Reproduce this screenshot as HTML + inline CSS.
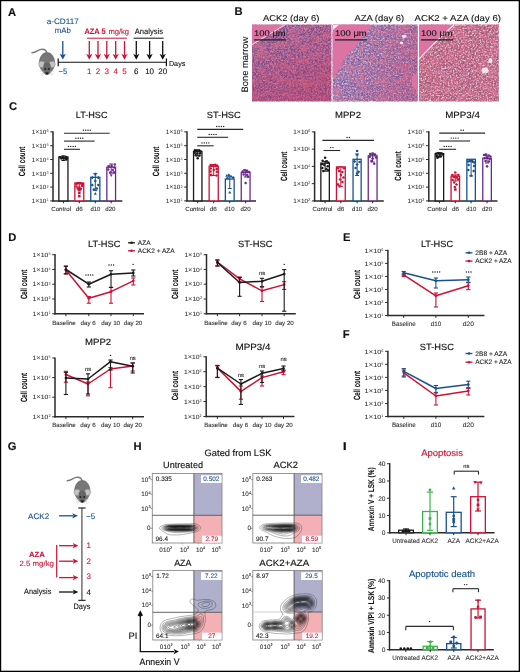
<!DOCTYPE html>
<html><head><meta charset="utf-8"><style>
html,body{margin:0;padding:0;background:#fff;}
body{width:520px;height:672px;overflow:hidden;}
svg{display:block;will-change:transform;}
</style></head><body>
<svg width="520" height="672" viewBox="0 0 520 672" font-family="'Liberation Sans', sans-serif" text-rendering="geometricPrecision">
<rect x="0.00" y="0.00" width="520.00" height="672.00" fill="#fff" stroke="none" stroke-width="1" />
<text x="8.00" y="16.00" font-size="11.2" fill="#111" text-anchor="start" font-weight="bold" stroke="#111" stroke-width="0.14" >A</text>
<text x="62.70" y="24.20" font-size="8" fill="#17528f" text-anchor="middle" font-weight="normal" textLength="32.00" lengthAdjust="spacingAndGlyphs" stroke="#17528f" stroke-width="0.1" >a-CD117</text>
<text x="62.85" y="33.40" font-size="8" fill="#17528f" text-anchor="middle" font-weight="normal" textLength="16.10" lengthAdjust="spacingAndGlyphs" stroke="#17528f" stroke-width="0.1" >mAb</text>
<line x1="62.80" y1="41.00" x2="62.80" y2="54.90" stroke="#17528f" stroke-width="1.3" />
<polygon points="59.70,53.90 62.80,55.10 65.90,53.90 62.80,59.50" fill="#17528f" />
<line x1="58.20" y1="62.30" x2="166.40" y2="62.30" stroke="#111" stroke-width="1.1" />
<line x1="58.20" y1="58.60" x2="58.20" y2="66.20" stroke="#111" stroke-width="1.2" />
<line x1="166.40" y1="58.60" x2="166.40" y2="66.20" stroke="#111" stroke-width="1.2" />
<text x="62.85" y="73.50" font-size="8" fill="#17528f" text-anchor="middle" font-weight="normal" textLength="8.50" lengthAdjust="spacingAndGlyphs" stroke="#17528f" stroke-width="0.1" >−5</text>
<text x="95.00" y="33.50" font-size="8" fill="#cc1236" text-anchor="middle" font-weight="bold" textLength="21.20" lengthAdjust="spacingAndGlyphs" stroke="#cc1236" stroke-width="0.1" >AZA 5</text>
<text x="118.75" y="33.50" font-size="7.6" fill="#cc1236" text-anchor="middle" font-weight="normal" textLength="20.70" lengthAdjust="spacingAndGlyphs" stroke="#cc1236" stroke-width="0.1" >mg/kg</text>
<line x1="87.10" y1="38.20" x2="126.90" y2="38.20" stroke="#cc1236" stroke-width="1.0" />
<line x1="89.30" y1="41.10" x2="89.30" y2="55.10" stroke="#cc1236" stroke-width="1.3" />
<polygon points="86.20,54.10 89.30,55.30 92.40,54.10 89.30,59.70" fill="#cc1236" />
<text x="89.30" y="73.50" font-size="8" fill="#cc1236" text-anchor="middle" font-weight="normal" stroke="#cc1236" stroke-width="0.1" >1</text>
<line x1="98.00" y1="41.10" x2="98.00" y2="55.10" stroke="#cc1236" stroke-width="1.3" />
<polygon points="94.90,54.10 98.00,55.30 101.10,54.10 98.00,59.70" fill="#cc1236" />
<text x="98.00" y="73.50" font-size="8" fill="#cc1236" text-anchor="middle" font-weight="normal" stroke="#cc1236" stroke-width="0.1" >2</text>
<line x1="106.80" y1="41.10" x2="106.80" y2="55.10" stroke="#cc1236" stroke-width="1.3" />
<polygon points="103.70,54.10 106.80,55.30 109.90,54.10 106.80,59.70" fill="#cc1236" />
<text x="106.80" y="73.50" font-size="8" fill="#cc1236" text-anchor="middle" font-weight="normal" stroke="#cc1236" stroke-width="0.1" >3</text>
<line x1="115.70" y1="41.10" x2="115.70" y2="55.10" stroke="#cc1236" stroke-width="1.3" />
<polygon points="112.60,54.10 115.70,55.30 118.80,54.10 115.70,59.70" fill="#cc1236" />
<text x="115.70" y="73.50" font-size="8" fill="#cc1236" text-anchor="middle" font-weight="normal" stroke="#cc1236" stroke-width="0.1" >4</text>
<line x1="124.50" y1="41.10" x2="124.50" y2="55.10" stroke="#cc1236" stroke-width="1.3" />
<polygon points="121.40,54.10 124.50,55.30 127.60,54.10 124.50,59.70" fill="#cc1236" />
<text x="124.50" y="73.50" font-size="8" fill="#cc1236" text-anchor="middle" font-weight="normal" stroke="#cc1236" stroke-width="0.1" >5</text>
<text x="148.90" y="33.50" font-size="8" fill="#111" text-anchor="middle" font-weight="normal" textLength="28.20" lengthAdjust="spacingAndGlyphs" stroke="#111" stroke-width="0.1" >Analysis</text>
<line x1="133.60" y1="38.20" x2="163.70" y2="38.20" stroke="#111" stroke-width="1.0" />
<line x1="136.30" y1="41.10" x2="136.30" y2="55.10" stroke="#111" stroke-width="1.3" />
<polygon points="133.20,54.10 136.30,55.30 139.40,54.10 136.30,59.70" fill="#111" />
<text x="136.30" y="73.50" font-size="8" fill="#111" text-anchor="middle" font-weight="normal" stroke="#111" stroke-width="0.1" >6</text>
<line x1="149.60" y1="41.10" x2="149.60" y2="55.10" stroke="#111" stroke-width="1.3" />
<polygon points="146.50,54.10 149.60,55.30 152.70,54.10 149.60,59.70" fill="#111" />
<text x="149.60" y="73.50" font-size="8" fill="#111" text-anchor="middle" font-weight="normal" stroke="#111" stroke-width="0.1" >10</text>
<line x1="162.70" y1="41.10" x2="162.70" y2="55.10" stroke="#111" stroke-width="1.3" />
<polygon points="159.60,54.10 162.70,55.30 165.80,54.10 162.70,59.70" fill="#111" />
<text x="162.70" y="73.50" font-size="8" fill="#111" text-anchor="middle" font-weight="normal" stroke="#111" stroke-width="0.1" >20</text>
<text x="177.15" y="65.50" font-size="7.2" fill="#111" text-anchor="middle" font-weight="normal" textLength="16.50" lengthAdjust="spacingAndGlyphs" stroke="#111" stroke-width="0.1" >Days</text>
<g transform="translate(47.00,63.00) scale(1.0)"><path d="M0,-9.5 C-0.5,-12.5 -3,-14 -6,-13.6 C-9,-13.2 -11,-10.5 -15,-10.2" fill="none" stroke="#7a7a7a" stroke-width="1.4" stroke-linecap="round"/><path d="M0,-10.5 C4.8,-10.5 7.6,-5.5 7.6,-0.5 C7.6,3.5 6.4,6 4.6,8.2 C3.2,10.4 1.6,11.6 0,11.6 C-1.6,11.6 -3.2,10.4 -4.6,8.2 C-6.4,6 -7.6,3.5 -7.6,-0.5 C-7.6,-5.5 -4.8,-10.5 0,-10.5 Z" fill="#777" stroke="#555" stroke-width="0.5"/><circle cx="-5.2" cy="1.3" r="3.1" fill="#c4c4c4" stroke="#888" stroke-width="0.5"/><circle cx="5.2" cy="1.3" r="3.1" fill="#c4c4c4" stroke="#888" stroke-width="0.5"/><path d="M-3.6,2.5 C-3.6,-1.5 3.6,-1.5 3.6,2.5 C3.6,6.5 2,10.5 0,11.6 C-2,10.5 -3.6,6.5 -3.6,2.5Z" fill="#666"/><circle cx="-1.9" cy="6" r="1" fill="#222"/><circle cx="1.9" cy="6" r="1" fill="#222"/><path d="M-2,9.4 L2,9.4 L0,11.8 Z" fill="#111"/><path d="M-3,9 L-7,8 M-3,9.8 L-6.5,11.3 M-2.8,10.4 L-5,13 M3,9 L7,8 M3,9.8 L6.5,11.3 M2.8,10.4 L5,13" stroke="#c8c8c8" stroke-width="0.55"/></g>
<text x="234.50" y="15.20" font-size="11.2" fill="#111" text-anchor="start" font-weight="bold" stroke="#111" stroke-width="0.14" >B</text>
<text x="0" y="0" font-size="9.4" fill="#111" stroke="#111" stroke-width="0.08" font-weight="normal" text-anchor="middle" transform="translate(247.80,64.60) rotate(-90)" textLength="55.70" lengthAdjust="spacingAndGlyphs">Bone marrow</text>
<defs><filter id="nR" x="0" y="0" width="100%" height="100%"><feTurbulence type="fractalNoise" baseFrequency="0.55" numOctaves="3" seed="2"/><feColorMatrix type="matrix" values="0 0 0 0 0.76  0 0 0 0 0.22  0 0 0 0 0.34  3.2 0 0 0 -1.3"/></filter><filter id="nW" x="0" y="0" width="100%" height="100%"><feTurbulence type="fractalNoise" baseFrequency="0.6" numOctaves="3" seed="9"/><feColorMatrix type="matrix" values="0 0 0 0 0.92  0 0 0 0 0.86  0 0 0 0 0.92  0 3.6 0 0 -1.75"/></filter><filter id="nP" x="0" y="0" width="100%" height="100%"><feTurbulence type="fractalNoise" baseFrequency="0.7" numOctaves="2" seed="5"/><feColorMatrix type="matrix" values="0 0 0 0 0.45  0 0 0 0 0.33  0 0 0 0 0.66  0 0 3.0 0 -1.3"/></filter><filter id="nL" x="0" y="0" width="100%" height="100%"><feTurbulence type="fractalNoise" baseFrequency="0.09 0.14" numOctaves="2" seed="21"/><feColorMatrix type="matrix" values="0 0 0 0 0.80  0 0 0 0 0.20  0 0 0 0 0.32  3.5 0 0 0 -1.6"/></filter><filter id="nB" x="0" y="0" width="100%" height="100%"><feTurbulence type="fractalNoise" baseFrequency="0.25 0.6" numOctaves="2" seed="13"/><feColorMatrix type="matrix" values="0 0 0 0 0.95  0 0 0 0 0.55  0 0 0 0 0.72  2.5 0 0 0 -1.0"/></filter></defs>
<rect x="252.00" y="24.80" width="79.20" height="76.40" fill="#6a4e90" stroke="none" stroke-width="1" />
<rect x="252.00" y="24.80" width="79.20" height="76.40" fill="#fff" stroke="none" stroke-width="1" filter="url(#nR)" opacity="0.85"/>
<rect x="252.00" y="24.80" width="79.20" height="76.40" fill="#fff" stroke="none" stroke-width="1" filter="url(#nW)" opacity="0.4"/>
<rect x="252.00" y="24.80" width="79.20" height="76.40" fill="#fff" stroke="none" stroke-width="1" filter="url(#nP)" opacity="0.5"/>
<rect x="252.00" y="24.80" width="79.20" height="76.40" fill="#fff" stroke="none" stroke-width="1" filter="url(#nL)" opacity="0.55"/>
<rect x="332.80" y="24.80" width="84.80" height="76.40" fill="#7662a2" stroke="none" stroke-width="1" />
<rect x="332.80" y="24.80" width="84.80" height="76.40" fill="#fff" stroke="none" stroke-width="1" filter="url(#nR)" opacity="0.8"/>
<rect x="332.80" y="24.80" width="84.80" height="76.40" fill="#fff" stroke="none" stroke-width="1" filter="url(#nW)" opacity="0.65"/>
<rect x="332.80" y="24.80" width="84.80" height="76.40" fill="#fff" stroke="none" stroke-width="1" filter="url(#nP)" opacity="0.6"/>
<rect x="332.80" y="24.80" width="84.80" height="76.40" fill="#fff" stroke="none" stroke-width="1" filter="url(#nL)" opacity="0.5"/>
<rect x="419.00" y="24.80" width="79.80" height="76.40" fill="#a85670" stroke="none" stroke-width="1" />
<rect x="419.00" y="24.80" width="79.80" height="76.40" fill="#fff" stroke="none" stroke-width="1" filter="url(#nR)" opacity="0.9"/>
<rect x="419.00" y="24.80" width="79.80" height="76.40" fill="#fff" stroke="none" stroke-width="1" filter="url(#nW)" opacity="0.72"/>
<rect x="419.00" y="24.80" width="79.80" height="76.40" fill="#fff" stroke="none" stroke-width="1" filter="url(#nP)" opacity="0.3"/>
<rect x="419.00" y="24.80" width="79.80" height="76.40" fill="#fff" stroke="none" stroke-width="1" filter="url(#nL)" opacity="0.4"/>
<defs><linearGradient id="gr1" x1="0" y1="0" x2="0.4" y2="1"><stop offset="0" stop-color="#c03058" stop-opacity="0.08"/><stop offset="1" stop-color="#c03058" stop-opacity="0.45"/></linearGradient><linearGradient id="gr2" x1="0" y1="0" x2="1" y2="0.3"><stop offset="0.3" stop-color="#c03058" stop-opacity="0"/><stop offset="1" stop-color="#c03058" stop-opacity="0.25"/></linearGradient></defs>
<rect x="252.00" y="24.80" width="79.20" height="76.40" fill="url(#gr1)" stroke="none" stroke-width="1" />
<rect x="332.80" y="24.80" width="84.80" height="76.40" fill="url(#gr2)" stroke="none" stroke-width="1" />
<polygon points="252.00,24.80 285.00,24.80 252.00,44.60" fill="#dc73a2" />
<line x1="285.00" y1="24.80" x2="252.00" y2="44.60" stroke="#f3e3ec" stroke-width="1.0" />
<polygon points="332.80,24.80 372.40,24.80 357.70,44.50 345.60,56.60 337.00,72.20 332.80,77.40" fill="#dc73a2" />
<polygon points="332.80,24.80 339.00,24.80 332.80,30.00" fill="#f4eef2" />
<polygon points="417.60,72.00 417.60,92.00 412.00,85.00 411.50,77.00" fill="#dc73a2" />
<polygon points="419.00,24.80 454.00,24.80 434.00,43.60 419.00,59.20" fill="#dc73a2" />
<polyline points="454,24.8 434,43.6 419,59.2" fill="none" stroke="#f6eef2" stroke-width="1.2"/>
<ellipse cx="490.4" cy="60.6" rx="2.0" ry="2.6" fill="#efe4ec"/>
<ellipse cx="485" cy="70.5" rx="3.6" ry="2.9" fill="#efe4ec"/>
<ellipse cx="404.2" cy="36.3" rx="2.6" ry="1.6" fill="#efe4ec"/>
<ellipse cx="401.5" cy="43" rx="1.8" ry="1.2" fill="#efe4ec"/>
<text x="291.15" y="20.60" font-size="8.5" fill="#111" text-anchor="middle" font-weight="normal" textLength="56.50" lengthAdjust="spacingAndGlyphs" stroke="#111" stroke-width="0.1" >ACK2 (day 6)</text>
<text x="379.30" y="20.60" font-size="8.5" fill="#111" text-anchor="middle" font-weight="normal" textLength="49.80" lengthAdjust="spacingAndGlyphs" stroke="#111" stroke-width="0.1" >AZA (day 6)</text>
<text x="457.75" y="20.60" font-size="8.5" fill="#111" text-anchor="middle" font-weight="normal" textLength="86.50" lengthAdjust="spacingAndGlyphs" stroke="#111" stroke-width="0.1" >ACK2 + AZA (day 6)</text>
<text x="269.90" y="36.40" font-size="8.3" fill="#151515" text-anchor="middle" font-weight="normal" textLength="31.60" lengthAdjust="spacingAndGlyphs" stroke="#151515" stroke-width="0.12">100 μm</text>
<line x1="254.00" y1="39.90" x2="286.00" y2="39.90" stroke="#222" stroke-width="1.3" />
<text x="350.90" y="36.40" font-size="8.3" fill="#151515" text-anchor="middle" font-weight="normal" textLength="31.60" lengthAdjust="spacingAndGlyphs" stroke="#151515" stroke-width="0.12">100 μm</text>
<line x1="335.00" y1="39.90" x2="367.00" y2="39.90" stroke="#222" stroke-width="1.3" />
<text x="436.90" y="36.40" font-size="8.3" fill="#151515" text-anchor="middle" font-weight="normal" textLength="31.60" lengthAdjust="spacingAndGlyphs" stroke="#151515" stroke-width="0.12">100 μm</text>
<line x1="421.00" y1="39.90" x2="453.00" y2="39.90" stroke="#222" stroke-width="1.3" />
<text x="9.00" y="110.00" font-size="11.2" fill="#111" text-anchor="start" font-weight="bold" stroke="#111" stroke-width="0.14" >C</text>
<text x="91.65" y="118.10" font-size="9" fill="#111" text-anchor="middle" font-weight="normal" textLength="31.70" lengthAdjust="spacingAndGlyphs" stroke="#111" stroke-width="0.14" >LT-HSC</text>
<line x1="53.00" y1="131.30" x2="53.00" y2="201.60" stroke="#2a2a2a" stroke-width="1.5" />
<line x1="52.30" y1="200.90" x2="122.30" y2="200.90" stroke="#2a2a2a" stroke-width="1.5" />
<line x1="50.20" y1="131.90" x2="53.00" y2="131.90" stroke="#2a2a2a" stroke-width="1.0" />
<text x="31.70" y="134.10" font-size="6.1" fill="#333" stroke="#333" stroke-width="0.08" textLength="14.60" lengthAdjust="spacingAndGlyphs">1<tspan font-size="6.8">×</tspan>10</text>
<text x="46.40" y="132.30" font-size="3.8" fill="#444">6</text>
<line x1="50.20" y1="145.70" x2="53.00" y2="145.70" stroke="#2a2a2a" stroke-width="1.0" />
<text x="31.70" y="147.90" font-size="6.1" fill="#333" stroke="#333" stroke-width="0.08" textLength="14.60" lengthAdjust="spacingAndGlyphs">1<tspan font-size="6.8">×</tspan>10</text>
<text x="46.40" y="146.10" font-size="3.8" fill="#444">5</text>
<line x1="50.20" y1="159.50" x2="53.00" y2="159.50" stroke="#2a2a2a" stroke-width="1.0" />
<text x="31.70" y="161.70" font-size="6.1" fill="#333" stroke="#333" stroke-width="0.08" textLength="14.60" lengthAdjust="spacingAndGlyphs">1<tspan font-size="6.8">×</tspan>10</text>
<text x="46.40" y="159.90" font-size="3.8" fill="#444">4</text>
<line x1="50.20" y1="173.30" x2="53.00" y2="173.30" stroke="#2a2a2a" stroke-width="1.0" />
<text x="31.70" y="175.50" font-size="6.1" fill="#333" stroke="#333" stroke-width="0.08" textLength="14.60" lengthAdjust="spacingAndGlyphs">1<tspan font-size="6.8">×</tspan>10</text>
<text x="46.40" y="173.70" font-size="3.8" fill="#444">3</text>
<line x1="50.20" y1="187.10" x2="53.00" y2="187.10" stroke="#2a2a2a" stroke-width="1.0" />
<text x="31.70" y="189.30" font-size="6.1" fill="#333" stroke="#333" stroke-width="0.08" textLength="14.60" lengthAdjust="spacingAndGlyphs">1<tspan font-size="6.8">×</tspan>10</text>
<text x="46.40" y="187.50" font-size="3.8" fill="#444">2</text>
<line x1="50.20" y1="200.90" x2="53.00" y2="200.90" stroke="#2a2a2a" stroke-width="1.0" />
<text x="31.70" y="203.10" font-size="6.1" fill="#333" stroke="#333" stroke-width="0.08" textLength="14.60" lengthAdjust="spacingAndGlyphs">1<tspan font-size="6.8">×</tspan>10</text>
<text x="46.40" y="201.30" font-size="3.8" fill="#444">1</text>
<text x="0" y="0" font-size="9" fill="#111" stroke="#111" stroke-width="0.08" font-weight="bold" text-anchor="middle" transform="translate(24.90,161.40) rotate(-90)" textLength="29.60" lengthAdjust="spacingAndGlyphs">Cell count</text>
<rect x="58.85" y="157.00" width="9.10" height="43.90" fill="#fff" stroke="#1a1a1a" stroke-width="1.3" />
<line x1="63.40" y1="200.90" x2="63.40" y2="203.30" stroke="#2a2a2a" stroke-width="1.0" />
<line x1="63.40" y1="160.50" x2="63.40" y2="155.80" stroke="#1a1a1a" stroke-width="1.0" />
<line x1="61.40" y1="160.50" x2="65.40" y2="160.50" stroke="#1a1a1a" stroke-width="1.0" />
<line x1="61.40" y1="155.80" x2="65.40" y2="155.80" stroke="#1a1a1a" stroke-width="1.0" />
<circle cx="60.10" cy="157.30" r="1.25" fill="#1a1a1a"/>
<circle cx="61.40" cy="158.50" r="1.25" fill="#1a1a1a"/>
<rect x="61.35" y="156.35" width="2.50" height="2.50" fill="#1a1a1a" stroke="none" stroke-width="1" />
<circle cx="65.00" cy="158.60" r="1.25" fill="#1a1a1a"/>
<circle cx="66.00" cy="157.00" r="1.25" fill="#1a1a1a"/>
<circle cx="67.00" cy="158.00" r="1.25" fill="#1a1a1a"/>
<circle cx="66.40" cy="159.60" r="1.25" fill="#1a1a1a"/>
<rect x="74.85" y="183.00" width="8.90" height="17.90" fill="#fff" stroke="#cc1236" stroke-width="1.3" />
<line x1="79.30" y1="200.90" x2="79.30" y2="203.30" stroke="#2a2a2a" stroke-width="1.0" />
<line x1="79.30" y1="190.00" x2="79.30" y2="182.60" stroke="#cc1236" stroke-width="1.0" />
<line x1="77.30" y1="190.00" x2="81.30" y2="190.00" stroke="#cc1236" stroke-width="1.0" />
<line x1="77.30" y1="182.60" x2="81.30" y2="182.60" stroke="#cc1236" stroke-width="1.0" />
<circle cx="76.30" cy="184.00" r="1.25" fill="#cc1236"/>
<rect x="76.55" y="181.95" width="2.50" height="2.50" fill="#cc1236" stroke="none" stroke-width="1" />
<circle cx="80.80" cy="183.60" r="1.25" fill="#cc1236"/>
<rect x="81.05" y="182.95" width="2.50" height="2.50" fill="#cc1236" stroke="none" stroke-width="1" />
<circle cx="76.50" cy="186.50" r="1.25" fill="#cc1236"/>
<circle cx="82.10" cy="186.00" r="1.25" fill="#cc1236"/>
<rect x="78.05" y="186.55" width="2.50" height="2.50" fill="#cc1236" stroke="none" stroke-width="1" />
<rect x="78.05" y="188.95" width="2.50" height="2.50" fill="#cc1236" stroke="none" stroke-width="1" />
<rect x="78.05" y="191.75" width="2.50" height="2.50" fill="#cc1236" stroke="none" stroke-width="1" />
<rect x="78.05" y="194.95" width="2.50" height="2.50" fill="#cc1236" stroke="none" stroke-width="1" />
<circle cx="77.70" cy="188.50" r="1.25" fill="#cc1236"/>
<circle cx="80.90" cy="188.80" r="1.25" fill="#cc1236"/>
<rect x="90.75" y="177.30" width="9.10" height="23.60" fill="#fff" stroke="#17528f" stroke-width="1.3" />
<line x1="95.30" y1="200.90" x2="95.30" y2="203.30" stroke="#2a2a2a" stroke-width="1.0" />
<line x1="95.30" y1="190.60" x2="95.30" y2="173.40" stroke="#17528f" stroke-width="1.0" />
<line x1="93.30" y1="190.60" x2="97.30" y2="190.60" stroke="#17528f" stroke-width="1.0" />
<line x1="93.30" y1="173.40" x2="97.30" y2="173.40" stroke="#17528f" stroke-width="1.0" />
<polygon points="93.80,175.25 96.80,175.25 95.30,172.50" fill="#17528f" />
<polygon points="90.67,177.70 92.30,176.07 93.92,177.70 92.30,179.32" fill="#17528f" />
<polygon points="96.67,177.70 98.30,176.07 99.92,177.70 98.30,179.32" fill="#17528f" />
<polygon points="90.67,185.00 92.30,183.38 93.92,185.00 92.30,186.62" fill="#17528f" />
<polygon points="96.67,185.00 98.30,183.38 99.92,185.00 98.30,186.62" fill="#17528f" />
<circle cx="95.30" cy="181.00" r="1.25" fill="#17528f"/>
<polygon points="93.80,194.85 96.80,194.85 95.30,192.10" fill="#17528f" />
<circle cx="93.80" cy="189.50" r="1.25" fill="#17528f"/>
<circle cx="96.80" cy="188.50" r="1.25" fill="#17528f"/>
<rect x="106.85" y="167.20" width="8.70" height="33.70" fill="#fff" stroke="#6a2a8c" stroke-width="1.3" />
<line x1="111.20" y1="200.90" x2="111.20" y2="203.30" stroke="#2a2a2a" stroke-width="1.0" />
<line x1="111.20" y1="173.00" x2="111.20" y2="164.00" stroke="#6a2a8c" stroke-width="1.0" />
<line x1="109.20" y1="173.00" x2="113.20" y2="173.00" stroke="#6a2a8c" stroke-width="1.0" />
<line x1="109.20" y1="164.00" x2="113.20" y2="164.00" stroke="#6a2a8c" stroke-width="1.0" />
<circle cx="114.80" cy="164.50" r="1.25" fill="#6a2a8c"/>
<rect x="107.45" y="165.15" width="2.50" height="2.50" fill="#6a2a8c" stroke="none" stroke-width="1" />
<circle cx="111.70" cy="166.00" r="1.25" fill="#6a2a8c"/>
<polygon points="112.58,167.50 114.20,165.88 115.83,167.50 114.20,169.12" fill="#6a2a8c" />
<circle cx="108.20" cy="169.50" r="1.25" fill="#6a2a8c"/>
<circle cx="112.70" cy="170.00" r="1.25" fill="#6a2a8c"/>
<circle cx="110.20" cy="172.50" r="1.25" fill="#6a2a8c"/>
<rect x="112.75" y="171.25" width="2.50" height="2.50" fill="#6a2a8c" stroke="none" stroke-width="1" />
<polygon points="109.70,174.25 112.70,174.25 111.20,177.00" fill="#6a2a8c" />
<line x1="64.00" y1="149.30" x2="79.90" y2="149.30" stroke="#2a2a2a" stroke-width="1.1" />
<circle cx="68.50" cy="146.40" r="0.72" fill="#222"/>
<circle cx="70.80" cy="146.40" r="0.72" fill="#222"/>
<circle cx="73.10" cy="146.40" r="0.72" fill="#222"/>
<circle cx="75.40" cy="146.40" r="0.72" fill="#222"/>
<line x1="64.00" y1="141.10" x2="94.70" y2="141.10" stroke="#2a2a2a" stroke-width="1.1" />
<circle cx="75.90" cy="138.20" r="0.72" fill="#222"/>
<circle cx="78.20" cy="138.20" r="0.72" fill="#222"/>
<circle cx="80.50" cy="138.20" r="0.72" fill="#222"/>
<circle cx="82.80" cy="138.20" r="0.72" fill="#222"/>
<line x1="64.00" y1="133.20" x2="109.70" y2="133.20" stroke="#2a2a2a" stroke-width="1.1" />
<circle cx="83.40" cy="130.30" r="0.72" fill="#222"/>
<circle cx="85.70" cy="130.30" r="0.72" fill="#222"/>
<circle cx="88.00" cy="130.30" r="0.72" fill="#222"/>
<circle cx="90.30" cy="130.30" r="0.72" fill="#222"/>
<text x="61.15" y="211.40" font-size="6.1" fill="#333" text-anchor="middle" font-weight="normal" textLength="19.90" lengthAdjust="spacingAndGlyphs" stroke="#333" stroke-width="0.1" >Control</text>
<text x="79.30" y="211.40" font-size="6.1" fill="#333" text-anchor="middle" font-weight="normal" textLength="7.00" lengthAdjust="spacingAndGlyphs" stroke="#333" stroke-width="0.1" >d6</text>
<text x="95.35" y="211.40" font-size="6.1" fill="#333" text-anchor="middle" font-weight="normal" textLength="9.90" lengthAdjust="spacingAndGlyphs" stroke="#333" stroke-width="0.1" >d10</text>
<text x="110.40" y="211.40" font-size="6.1" fill="#333" text-anchor="middle" font-weight="normal" textLength="10.20" lengthAdjust="spacingAndGlyphs" stroke="#333" stroke-width="0.1" >d20</text>
<text x="223.75" y="118.10" font-size="9" fill="#111" text-anchor="middle" font-weight="normal" textLength="34.10" lengthAdjust="spacingAndGlyphs" stroke="#111" stroke-width="0.14" >ST-HSC</text>
<line x1="187.00" y1="131.30" x2="187.00" y2="201.60" stroke="#2a2a2a" stroke-width="1.5" />
<line x1="186.30" y1="200.90" x2="256.00" y2="200.90" stroke="#2a2a2a" stroke-width="1.5" />
<line x1="184.20" y1="131.90" x2="187.00" y2="131.90" stroke="#2a2a2a" stroke-width="1.0" />
<text x="165.70" y="134.10" font-size="6.1" fill="#333" stroke="#333" stroke-width="0.08" textLength="14.60" lengthAdjust="spacingAndGlyphs">1<tspan font-size="6.8">×</tspan>10</text>
<text x="180.40" y="132.30" font-size="3.8" fill="#444">6</text>
<line x1="184.20" y1="145.70" x2="187.00" y2="145.70" stroke="#2a2a2a" stroke-width="1.0" />
<text x="165.70" y="147.90" font-size="6.1" fill="#333" stroke="#333" stroke-width="0.08" textLength="14.60" lengthAdjust="spacingAndGlyphs">1<tspan font-size="6.8">×</tspan>10</text>
<text x="180.40" y="146.10" font-size="3.8" fill="#444">5</text>
<line x1="184.20" y1="159.50" x2="187.00" y2="159.50" stroke="#2a2a2a" stroke-width="1.0" />
<text x="165.70" y="161.70" font-size="6.1" fill="#333" stroke="#333" stroke-width="0.08" textLength="14.60" lengthAdjust="spacingAndGlyphs">1<tspan font-size="6.8">×</tspan>10</text>
<text x="180.40" y="159.90" font-size="3.8" fill="#444">4</text>
<line x1="184.20" y1="173.30" x2="187.00" y2="173.30" stroke="#2a2a2a" stroke-width="1.0" />
<text x="165.70" y="175.50" font-size="6.1" fill="#333" stroke="#333" stroke-width="0.08" textLength="14.60" lengthAdjust="spacingAndGlyphs">1<tspan font-size="6.8">×</tspan>10</text>
<text x="180.40" y="173.70" font-size="3.8" fill="#444">3</text>
<line x1="184.20" y1="187.10" x2="187.00" y2="187.10" stroke="#2a2a2a" stroke-width="1.0" />
<text x="165.70" y="189.30" font-size="6.1" fill="#333" stroke="#333" stroke-width="0.08" textLength="14.60" lengthAdjust="spacingAndGlyphs">1<tspan font-size="6.8">×</tspan>10</text>
<text x="180.40" y="187.50" font-size="3.8" fill="#444">2</text>
<line x1="184.20" y1="200.90" x2="187.00" y2="200.90" stroke="#2a2a2a" stroke-width="1.0" />
<text x="165.70" y="203.10" font-size="6.1" fill="#333" stroke="#333" stroke-width="0.08" textLength="14.60" lengthAdjust="spacingAndGlyphs">1<tspan font-size="6.8">×</tspan>10</text>
<text x="180.40" y="201.30" font-size="3.8" fill="#444">1</text>
<text x="0" y="0" font-size="9" fill="#111" stroke="#111" stroke-width="0.08" font-weight="bold" text-anchor="middle" transform="translate(159.30,161.40) rotate(-90)" textLength="29.60" lengthAdjust="spacingAndGlyphs">Cell count</text>
<rect x="193.55" y="151.50" width="8.40" height="49.40" fill="#fff" stroke="#1a1a1a" stroke-width="1.3" />
<line x1="197.75" y1="200.90" x2="197.75" y2="203.30" stroke="#2a2a2a" stroke-width="1.0" />
<line x1="197.75" y1="156.00" x2="197.75" y2="149.80" stroke="#1a1a1a" stroke-width="1.0" />
<line x1="195.75" y1="156.00" x2="199.75" y2="156.00" stroke="#1a1a1a" stroke-width="1.0" />
<line x1="195.75" y1="149.80" x2="199.75" y2="149.80" stroke="#1a1a1a" stroke-width="1.0" />
<circle cx="194.95" cy="150.20" r="1.25" fill="#1a1a1a"/>
<rect x="195.50" y="149.75" width="2.50" height="2.50" fill="#1a1a1a" stroke="none" stroke-width="1" />
<circle cx="199.35" cy="150.60" r="1.25" fill="#1a1a1a"/>
<circle cx="200.75" cy="151.50" r="1.25" fill="#1a1a1a"/>
<circle cx="194.75" cy="153.00" r="1.25" fill="#1a1a1a"/>
<circle cx="197.25" cy="153.50" r="1.25" fill="#1a1a1a"/>
<polygon points="198.53,153.20 200.15,151.57 201.78,153.20 200.15,154.82" fill="#1a1a1a" />
<circle cx="195.75" cy="155.30" r="1.25" fill="#1a1a1a"/>
<circle cx="199.55" cy="155.50" r="1.25" fill="#1a1a1a"/>
<circle cx="197.75" cy="158.30" r="1.25" fill="#1a1a1a"/>
<rect x="209.15" y="166.30" width="9.10" height="34.60" fill="#fff" stroke="#cc1236" stroke-width="1.3" />
<line x1="213.70" y1="200.90" x2="213.70" y2="203.30" stroke="#2a2a2a" stroke-width="1.0" />
<line x1="213.70" y1="175.50" x2="213.70" y2="164.50" stroke="#cc1236" stroke-width="1.0" />
<line x1="211.70" y1="175.50" x2="215.70" y2="175.50" stroke="#cc1236" stroke-width="1.0" />
<line x1="211.70" y1="164.50" x2="215.70" y2="164.50" stroke="#cc1236" stroke-width="1.0" />
<circle cx="210.70" cy="165.00" r="1.25" fill="#cc1236"/>
<rect x="211.45" y="164.05" width="2.50" height="2.50" fill="#cc1236" stroke="none" stroke-width="1" />
<circle cx="215.20" cy="164.80" r="1.25" fill="#cc1236"/>
<circle cx="216.90" cy="165.60" r="1.25" fill="#cc1236"/>
<circle cx="210.70" cy="168.50" r="1.25" fill="#cc1236"/>
<rect x="215.45" y="167.55" width="2.50" height="2.50" fill="#cc1236" stroke="none" stroke-width="1" />
<circle cx="210.50" cy="171.60" r="1.25" fill="#cc1236"/>
<circle cx="216.90" cy="171.80" r="1.25" fill="#cc1236"/>
<rect x="209.85" y="173.75" width="2.50" height="2.50" fill="#cc1236" stroke="none" stroke-width="1" />
<circle cx="216.50" cy="175.50" r="1.25" fill="#cc1236"/>
<circle cx="213.70" cy="170.00" r="1.25" fill="#cc1236"/>
<rect x="225.35" y="179.00" width="8.80" height="21.90" fill="#fff" stroke="#17528f" stroke-width="1.3" />
<line x1="229.75" y1="200.90" x2="229.75" y2="203.30" stroke="#2a2a2a" stroke-width="1.0" />
<line x1="229.75" y1="188.50" x2="229.75" y2="176.80" stroke="#17528f" stroke-width="1.0" />
<line x1="227.75" y1="188.50" x2="231.75" y2="188.50" stroke="#17528f" stroke-width="1.0" />
<line x1="227.75" y1="176.80" x2="231.75" y2="176.80" stroke="#17528f" stroke-width="1.0" />
<polygon points="225.25,176.75 228.25,176.75 226.75,174.00" fill="#17528f" />
<polygon points="227.12,175.20 228.75,173.57 230.38,175.20 228.75,176.82" fill="#17528f" />
<polygon points="229.45,177.25 232.45,177.25 230.95,174.50" fill="#17528f" />
<polygon points="231.53,177.60 233.15,175.97 234.78,177.60 233.15,179.22" fill="#17528f" />
<circle cx="227.35" cy="178.20" r="1.25" fill="#17528f"/>
<polygon points="228.25,193.45 231.25,193.45 229.75,190.70" fill="#17528f" />
<rect x="241.25" y="172.50" width="8.80" height="28.40" fill="#fff" stroke="#6a2a8c" stroke-width="1.3" />
<line x1="245.65" y1="200.90" x2="245.65" y2="203.30" stroke="#2a2a2a" stroke-width="1.0" />
<line x1="245.65" y1="177.00" x2="245.65" y2="170.00" stroke="#6a2a8c" stroke-width="1.0" />
<line x1="243.65" y1="177.00" x2="247.65" y2="177.00" stroke="#6a2a8c" stroke-width="1.0" />
<line x1="243.65" y1="170.00" x2="247.65" y2="170.00" stroke="#6a2a8c" stroke-width="1.0" />
<circle cx="242.65" cy="171.50" r="1.25" fill="#6a2a8c"/>
<rect x="243.40" y="169.05" width="2.50" height="2.50" fill="#6a2a8c" stroke="none" stroke-width="1" />
<circle cx="247.15" cy="171.00" r="1.25" fill="#6a2a8c"/>
<circle cx="249.05" cy="172.00" r="1.25" fill="#6a2a8c"/>
<circle cx="243.65" cy="174.50" r="1.25" fill="#6a2a8c"/>
<polygon points="245.52,175.00 247.15,173.38 248.77,175.00 247.15,176.62" fill="#6a2a8c" />
<circle cx="248.15" cy="176.80" r="1.25" fill="#6a2a8c"/>
<polygon points="244.02,183.00 245.65,181.38 247.27,183.00 245.65,184.62" fill="#6a2a8c" />
<line x1="197.20" y1="145.80" x2="213.60" y2="145.80" stroke="#2a2a2a" stroke-width="1.1" />
<circle cx="201.95" cy="142.90" r="0.72" fill="#222"/>
<circle cx="204.25" cy="142.90" r="0.72" fill="#222"/>
<circle cx="206.55" cy="142.90" r="0.72" fill="#222"/>
<circle cx="208.85" cy="142.90" r="0.72" fill="#222"/>
<line x1="197.20" y1="137.30" x2="228.10" y2="137.30" stroke="#2a2a2a" stroke-width="1.1" />
<circle cx="209.20" cy="134.40" r="0.72" fill="#222"/>
<circle cx="211.50" cy="134.40" r="0.72" fill="#222"/>
<circle cx="213.80" cy="134.40" r="0.72" fill="#222"/>
<circle cx="216.10" cy="134.40" r="0.72" fill="#222"/>
<line x1="197.20" y1="129.40" x2="243.20" y2="129.40" stroke="#2a2a2a" stroke-width="1.1" />
<circle cx="216.75" cy="126.50" r="0.72" fill="#222"/>
<circle cx="219.05" cy="126.50" r="0.72" fill="#222"/>
<circle cx="221.35" cy="126.50" r="0.72" fill="#222"/>
<circle cx="223.65" cy="126.50" r="0.72" fill="#222"/>
<text x="195.15" y="211.40" font-size="6.1" fill="#333" text-anchor="middle" font-weight="normal" textLength="19.90" lengthAdjust="spacingAndGlyphs" stroke="#333" stroke-width="0.1" >Control</text>
<text x="213.30" y="211.40" font-size="6.1" fill="#333" text-anchor="middle" font-weight="normal" textLength="7.00" lengthAdjust="spacingAndGlyphs" stroke="#333" stroke-width="0.1" >d6</text>
<text x="229.55" y="211.40" font-size="6.1" fill="#333" text-anchor="middle" font-weight="normal" textLength="9.90" lengthAdjust="spacingAndGlyphs" stroke="#333" stroke-width="0.1" >d10</text>
<text x="245.50" y="211.40" font-size="6.1" fill="#333" text-anchor="middle" font-weight="normal" textLength="10.20" lengthAdjust="spacingAndGlyphs" stroke="#333" stroke-width="0.1" >d20</text>
<text x="348.00" y="118.10" font-size="9" fill="#111" text-anchor="middle" font-weight="normal" textLength="26.00" lengthAdjust="spacingAndGlyphs" stroke="#111" stroke-width="0.14" >MPP2</text>
<line x1="314.60" y1="131.30" x2="314.60" y2="201.60" stroke="#2a2a2a" stroke-width="1.5" />
<line x1="313.90" y1="200.90" x2="383.80" y2="200.90" stroke="#2a2a2a" stroke-width="1.5" />
<line x1="311.80" y1="131.90" x2="314.60" y2="131.90" stroke="#2a2a2a" stroke-width="1.0" />
<text x="293.30" y="134.10" font-size="6.1" fill="#333" stroke="#333" stroke-width="0.08" textLength="14.60" lengthAdjust="spacingAndGlyphs">1<tspan font-size="6.8">×</tspan>10</text>
<text x="308.00" y="132.30" font-size="3.8" fill="#444">6</text>
<line x1="311.80" y1="149.15" x2="314.60" y2="149.15" stroke="#2a2a2a" stroke-width="1.0" />
<text x="293.30" y="151.35" font-size="6.1" fill="#333" stroke="#333" stroke-width="0.08" textLength="14.60" lengthAdjust="spacingAndGlyphs">1<tspan font-size="6.8">×</tspan>10</text>
<text x="308.00" y="149.55" font-size="3.8" fill="#444">5</text>
<line x1="311.80" y1="166.40" x2="314.60" y2="166.40" stroke="#2a2a2a" stroke-width="1.0" />
<text x="293.30" y="168.60" font-size="6.1" fill="#333" stroke="#333" stroke-width="0.08" textLength="14.60" lengthAdjust="spacingAndGlyphs">1<tspan font-size="6.8">×</tspan>10</text>
<text x="308.00" y="166.80" font-size="3.8" fill="#444">4</text>
<line x1="311.80" y1="183.65" x2="314.60" y2="183.65" stroke="#2a2a2a" stroke-width="1.0" />
<text x="293.30" y="185.85" font-size="6.1" fill="#333" stroke="#333" stroke-width="0.08" textLength="14.60" lengthAdjust="spacingAndGlyphs">1<tspan font-size="6.8">×</tspan>10</text>
<text x="308.00" y="184.05" font-size="3.8" fill="#444">3</text>
<line x1="311.80" y1="200.90" x2="314.60" y2="200.90" stroke="#2a2a2a" stroke-width="1.0" />
<text x="293.30" y="203.10" font-size="6.1" fill="#333" stroke="#333" stroke-width="0.08" textLength="14.60" lengthAdjust="spacingAndGlyphs">1<tspan font-size="6.8">×</tspan>10</text>
<text x="308.00" y="201.30" font-size="3.8" fill="#444">2</text>
<text x="0" y="0" font-size="9" fill="#111" stroke="#111" stroke-width="0.08" font-weight="bold" text-anchor="middle" transform="translate(286.80,166.30) rotate(-90)" textLength="29.40" lengthAdjust="spacingAndGlyphs">Cell count</text>
<rect x="320.85" y="163.20" width="8.50" height="37.70" fill="#fff" stroke="#1a1a1a" stroke-width="1.3" />
<line x1="325.10" y1="200.90" x2="325.10" y2="203.30" stroke="#2a2a2a" stroke-width="1.0" />
<line x1="325.10" y1="171.20" x2="325.10" y2="161.40" stroke="#1a1a1a" stroke-width="1.0" />
<line x1="323.10" y1="171.20" x2="327.10" y2="171.20" stroke="#1a1a1a" stroke-width="1.0" />
<line x1="323.10" y1="161.40" x2="327.10" y2="161.40" stroke="#1a1a1a" stroke-width="1.0" />
<circle cx="325.10" cy="157.70" r="1.25" fill="#1a1a1a"/>
<circle cx="322.60" cy="160.80" r="1.25" fill="#1a1a1a"/>
<rect x="325.35" y="160.15" width="2.50" height="2.50" fill="#1a1a1a" stroke="none" stroke-width="1" />
<circle cx="328.30" cy="162.50" r="1.25" fill="#1a1a1a"/>
<circle cx="321.90" cy="164.00" r="1.25" fill="#1a1a1a"/>
<polygon points="322.48,165.00 324.10,163.38 325.73,165.00 324.10,166.62" fill="#1a1a1a" />
<circle cx="327.70" cy="166.20" r="1.25" fill="#1a1a1a"/>
<circle cx="322.30" cy="168.00" r="1.25" fill="#1a1a1a"/>
<circle cx="326.30" cy="169.00" r="1.25" fill="#1a1a1a"/>
<rect x="326.85" y="169.15" width="2.50" height="2.50" fill="#1a1a1a" stroke="none" stroke-width="1" />
<circle cx="323.30" cy="171.00" r="1.25" fill="#1a1a1a"/>
<rect x="336.45" y="166.90" width="8.80" height="34.00" fill="#fff" stroke="#cc1236" stroke-width="1.3" />
<line x1="340.85" y1="200.90" x2="340.85" y2="203.30" stroke="#2a2a2a" stroke-width="1.0" />
<line x1="340.85" y1="186.60" x2="340.85" y2="166.90" stroke="#cc1236" stroke-width="1.0" />
<line x1="338.85" y1="186.60" x2="342.85" y2="186.60" stroke="#cc1236" stroke-width="1.0" />
<line x1="338.85" y1="166.90" x2="342.85" y2="166.90" stroke="#cc1236" stroke-width="1.0" />
<circle cx="337.85" cy="168.20" r="1.25" fill="#cc1236"/>
<circle cx="343.85" cy="168.20" r="1.25" fill="#cc1236"/>
<rect x="338.10" y="169.75" width="2.50" height="2.50" fill="#cc1236" stroke="none" stroke-width="1" />
<circle cx="342.35" cy="172.00" r="1.25" fill="#cc1236"/>
<circle cx="340.85" cy="175.00" r="1.25" fill="#cc1236"/>
<circle cx="343.45" cy="177.50" r="1.25" fill="#cc1236"/>
<polygon points="338.43,179.50 340.05,177.88 341.68,179.50 340.05,181.12" fill="#cc1236" />
<circle cx="342.45" cy="182.00" r="1.25" fill="#cc1236"/>
<rect x="336.80" y="183.25" width="2.50" height="2.50" fill="#cc1236" stroke="none" stroke-width="1" />
<circle cx="339.65" cy="186.20" r="1.25" fill="#cc1236"/>
<rect x="353.05" y="159.30" width="8.10" height="41.60" fill="#fff" stroke="#17528f" stroke-width="1.3" />
<line x1="357.10" y1="200.90" x2="357.10" y2="203.30" stroke="#2a2a2a" stroke-width="1.0" />
<line x1="357.10" y1="175.50" x2="357.10" y2="154.00" stroke="#17528f" stroke-width="1.0" />
<line x1="355.10" y1="175.50" x2="359.10" y2="175.50" stroke="#17528f" stroke-width="1.0" />
<line x1="355.10" y1="154.00" x2="359.10" y2="154.00" stroke="#17528f" stroke-width="1.0" />
<circle cx="357.10" cy="150.90" r="1.25" fill="#17528f"/>
<polygon points="355.60,155.85 358.60,155.85 357.10,153.10" fill="#17528f" />
<polygon points="352.98,161.40 354.60,159.78 356.23,161.40 354.60,163.03" fill="#17528f" />
<circle cx="359.60" cy="162.00" r="1.25" fill="#17528f"/>
<polygon points="355.48,164.50 357.10,162.88 358.73,164.50 357.10,166.12" fill="#17528f" />
<circle cx="355.60" cy="168.00" r="1.25" fill="#17528f"/>
<polygon points="356.98,171.80 358.60,170.18 360.23,171.80 358.60,173.43" fill="#17528f" />
<circle cx="357.10" cy="173.50" r="1.25" fill="#17528f"/>
<rect x="368.25" y="155.80" width="8.80" height="45.10" fill="#fff" stroke="#6a2a8c" stroke-width="1.3" />
<line x1="372.65" y1="200.90" x2="372.65" y2="203.30" stroke="#2a2a2a" stroke-width="1.0" />
<line x1="372.65" y1="162.00" x2="372.65" y2="154.00" stroke="#6a2a8c" stroke-width="1.0" />
<line x1="370.65" y1="162.00" x2="374.65" y2="162.00" stroke="#6a2a8c" stroke-width="1.0" />
<line x1="370.65" y1="154.00" x2="374.65" y2="154.00" stroke="#6a2a8c" stroke-width="1.0" />
<circle cx="370.15" cy="154.00" r="1.25" fill="#6a2a8c"/>
<rect x="371.40" y="152.35" width="2.50" height="2.50" fill="#6a2a8c" stroke="none" stroke-width="1" />
<circle cx="375.15" cy="154.50" r="1.25" fill="#6a2a8c"/>
<circle cx="369.65" cy="157.00" r="1.25" fill="#6a2a8c"/>
<circle cx="376.05" cy="157.50" r="1.25" fill="#6a2a8c"/>
<polygon points="371.02,158.60 372.65,156.97 374.27,158.60 372.65,160.22" fill="#6a2a8c" />
<circle cx="371.45" cy="161.00" r="1.25" fill="#6a2a8c"/>
<circle cx="374.25" cy="163.80" r="1.25" fill="#6a2a8c"/>
<line x1="323.50" y1="150.50" x2="340.20" y2="150.50" stroke="#2a2a2a" stroke-width="1.1" />
<circle cx="330.70" cy="147.60" r="0.72" fill="#222"/>
<circle cx="333.00" cy="147.60" r="0.72" fill="#222"/>
<line x1="322.40" y1="140.40" x2="374.00" y2="140.40" stroke="#2a2a2a" stroke-width="1.1" />
<circle cx="347.05" cy="137.50" r="0.72" fill="#222"/>
<circle cx="349.35" cy="137.50" r="0.72" fill="#222"/>
<text x="322.55" y="211.40" font-size="6.1" fill="#333" text-anchor="middle" font-weight="normal" textLength="19.90" lengthAdjust="spacingAndGlyphs" stroke="#333" stroke-width="0.1" >Control</text>
<text x="340.80" y="211.40" font-size="6.1" fill="#333" text-anchor="middle" font-weight="normal" textLength="7.00" lengthAdjust="spacingAndGlyphs" stroke="#333" stroke-width="0.1" >d6</text>
<text x="357.05" y="211.40" font-size="6.1" fill="#333" text-anchor="middle" font-weight="normal" textLength="9.90" lengthAdjust="spacingAndGlyphs" stroke="#333" stroke-width="0.1" >d10</text>
<text x="372.50" y="211.40" font-size="6.1" fill="#333" text-anchor="middle" font-weight="normal" textLength="10.20" lengthAdjust="spacingAndGlyphs" stroke="#333" stroke-width="0.1" >d20</text>
<text x="462.50" y="118.10" font-size="9" fill="#111" text-anchor="middle" font-weight="normal" textLength="34.60" lengthAdjust="spacingAndGlyphs" stroke="#111" stroke-width="0.14" >MPP3/4</text>
<line x1="428.80" y1="131.30" x2="428.80" y2="201.60" stroke="#2a2a2a" stroke-width="1.5" />
<line x1="428.10" y1="200.90" x2="497.50" y2="200.90" stroke="#2a2a2a" stroke-width="1.5" />
<line x1="426.00" y1="131.90" x2="428.80" y2="131.90" stroke="#2a2a2a" stroke-width="1.0" />
<text x="407.50" y="134.10" font-size="6.1" fill="#333" stroke="#333" stroke-width="0.08" textLength="14.60" lengthAdjust="spacingAndGlyphs">1<tspan font-size="6.8">×</tspan>10</text>
<text x="422.20" y="132.30" font-size="3.8" fill="#444">7</text>
<line x1="426.00" y1="145.70" x2="428.80" y2="145.70" stroke="#2a2a2a" stroke-width="1.0" />
<text x="407.50" y="147.90" font-size="6.1" fill="#333" stroke="#333" stroke-width="0.08" textLength="14.60" lengthAdjust="spacingAndGlyphs">1<tspan font-size="6.8">×</tspan>10</text>
<text x="422.20" y="146.10" font-size="3.8" fill="#444">6</text>
<line x1="426.00" y1="159.50" x2="428.80" y2="159.50" stroke="#2a2a2a" stroke-width="1.0" />
<text x="407.50" y="161.70" font-size="6.1" fill="#333" stroke="#333" stroke-width="0.08" textLength="14.60" lengthAdjust="spacingAndGlyphs">1<tspan font-size="6.8">×</tspan>10</text>
<text x="422.20" y="159.90" font-size="3.8" fill="#444">5</text>
<line x1="426.00" y1="173.30" x2="428.80" y2="173.30" stroke="#2a2a2a" stroke-width="1.0" />
<text x="407.50" y="175.50" font-size="6.1" fill="#333" stroke="#333" stroke-width="0.08" textLength="14.60" lengthAdjust="spacingAndGlyphs">1<tspan font-size="6.8">×</tspan>10</text>
<text x="422.20" y="173.70" font-size="3.8" fill="#444">4</text>
<line x1="426.00" y1="187.10" x2="428.80" y2="187.10" stroke="#2a2a2a" stroke-width="1.0" />
<text x="407.50" y="189.30" font-size="6.1" fill="#333" stroke="#333" stroke-width="0.08" textLength="14.60" lengthAdjust="spacingAndGlyphs">1<tspan font-size="6.8">×</tspan>10</text>
<text x="422.20" y="187.50" font-size="3.8" fill="#444">3</text>
<line x1="426.00" y1="200.90" x2="428.80" y2="200.90" stroke="#2a2a2a" stroke-width="1.0" />
<text x="407.50" y="203.10" font-size="6.1" fill="#333" stroke="#333" stroke-width="0.08" textLength="14.60" lengthAdjust="spacingAndGlyphs">1<tspan font-size="6.8">×</tspan>10</text>
<text x="422.20" y="201.30" font-size="3.8" fill="#444">2</text>
<text x="0" y="0" font-size="9" fill="#111" stroke="#111" stroke-width="0.08" font-weight="bold" text-anchor="middle" transform="translate(400.80,166.00) rotate(-90)" textLength="29.40" lengthAdjust="spacingAndGlyphs">Cell count</text>
<rect x="435.15" y="153.60" width="8.50" height="47.30" fill="#fff" stroke="#1a1a1a" stroke-width="1.3" />
<line x1="439.40" y1="200.90" x2="439.40" y2="203.30" stroke="#2a2a2a" stroke-width="1.0" />
<line x1="439.40" y1="157.00" x2="439.40" y2="152.60" stroke="#1a1a1a" stroke-width="1.0" />
<line x1="437.40" y1="157.00" x2="441.40" y2="157.00" stroke="#1a1a1a" stroke-width="1.0" />
<line x1="437.40" y1="152.60" x2="441.40" y2="152.60" stroke="#1a1a1a" stroke-width="1.0" />
<circle cx="436.20" cy="153.80" r="1.25" fill="#1a1a1a"/>
<rect x="436.65" y="152.05" width="2.50" height="2.50" fill="#1a1a1a" stroke="none" stroke-width="1" />
<circle cx="439.90" cy="154.00" r="1.25" fill="#1a1a1a"/>
<circle cx="441.80" cy="153.40" r="1.25" fill="#1a1a1a"/>
<circle cx="442.90" cy="154.50" r="1.25" fill="#1a1a1a"/>
<circle cx="436.90" cy="156.00" r="1.25" fill="#1a1a1a"/>
<polygon points="436.97,156.80 438.60,155.18 440.22,156.80 438.60,158.43" fill="#1a1a1a" />
<circle cx="440.90" cy="156.20" r="1.25" fill="#1a1a1a"/>
<circle cx="437.40" cy="157.80" r="1.25" fill="#1a1a1a"/>
<rect x="451.05" y="176.20" width="8.50" height="24.70" fill="#fff" stroke="#cc1236" stroke-width="1.3" />
<line x1="455.30" y1="200.90" x2="455.30" y2="203.30" stroke="#2a2a2a" stroke-width="1.0" />
<line x1="455.30" y1="181.00" x2="455.30" y2="174.90" stroke="#cc1236" stroke-width="1.0" />
<line x1="453.30" y1="181.00" x2="457.30" y2="181.00" stroke="#cc1236" stroke-width="1.0" />
<line x1="453.30" y1="174.90" x2="457.30" y2="174.90" stroke="#cc1236" stroke-width="1.0" />
<circle cx="455.30" cy="172.50" r="1.25" fill="#cc1236"/>
<circle cx="452.30" cy="175.00" r="1.25" fill="#cc1236"/>
<circle cx="458.30" cy="175.00" r="1.25" fill="#cc1236"/>
<rect x="452.55" y="175.75" width="2.50" height="2.50" fill="#cc1236" stroke="none" stroke-width="1" />
<circle cx="456.80" cy="177.50" r="1.25" fill="#cc1236"/>
<circle cx="452.70" cy="180.00" r="1.25" fill="#cc1236"/>
<rect x="456.65" y="178.25" width="2.50" height="2.50" fill="#cc1236" stroke="none" stroke-width="1" />
<circle cx="454.30" cy="182.50" r="1.25" fill="#cc1236"/>
<polygon points="454.87,184.50 456.50,182.88 458.12,184.50 456.50,186.12" fill="#cc1236" />
<circle cx="454.80" cy="187.00" r="1.25" fill="#cc1236"/>
<rect x="454.05" y="188.25" width="2.50" height="2.50" fill="#cc1236" stroke="none" stroke-width="1" />
<rect x="466.85" y="159.30" width="8.50" height="41.60" fill="#fff" stroke="#17528f" stroke-width="1.3" />
<line x1="471.10" y1="200.90" x2="471.10" y2="203.30" stroke="#2a2a2a" stroke-width="1.0" />
<line x1="471.10" y1="175.80" x2="471.10" y2="160.50" stroke="#17528f" stroke-width="1.0" />
<line x1="469.10" y1="175.80" x2="473.10" y2="175.80" stroke="#17528f" stroke-width="1.0" />
<line x1="469.10" y1="160.50" x2="473.10" y2="160.50" stroke="#17528f" stroke-width="1.0" />
<polygon points="466.48,161.40 468.10,159.78 469.73,161.40 468.10,163.03" fill="#17528f" />
<polygon points="468.60,162.25 471.60,162.25 470.10,159.50" fill="#17528f" />
<polygon points="471.08,161.60 472.70,159.97 474.33,161.60 472.70,163.22" fill="#17528f" />
<circle cx="474.30" cy="162.40" r="1.25" fill="#17528f"/>
<polygon points="466.98,165.00 468.60,163.38 470.23,165.00 468.60,166.62" fill="#17528f" />
<circle cx="474.10" cy="166.00" r="1.25" fill="#17528f"/>
<circle cx="468.30" cy="170.00" r="1.25" fill="#17528f"/>
<polygon points="472.08,171.00 473.70,169.38 475.33,171.00 473.70,172.62" fill="#17528f" />
<polygon points="469.60,176.65 472.60,176.65 471.10,173.90" fill="#17528f" />
<rect x="482.75" y="158.30" width="8.60" height="42.60" fill="#fff" stroke="#6a2a8c" stroke-width="1.3" />
<line x1="487.05" y1="200.90" x2="487.05" y2="203.30" stroke="#2a2a2a" stroke-width="1.0" />
<line x1="487.05" y1="163.00" x2="487.05" y2="156.00" stroke="#6a2a8c" stroke-width="1.0" />
<line x1="485.05" y1="163.00" x2="489.05" y2="163.00" stroke="#6a2a8c" stroke-width="1.0" />
<line x1="485.05" y1="156.00" x2="489.05" y2="156.00" stroke="#6a2a8c" stroke-width="1.0" />
<circle cx="484.05" cy="155.00" r="1.25" fill="#6a2a8c"/>
<rect x="484.80" y="153.35" width="2.50" height="2.50" fill="#6a2a8c" stroke="none" stroke-width="1" />
<circle cx="488.65" cy="155.50" r="1.25" fill="#6a2a8c"/>
<circle cx="490.45" cy="156.50" r="1.25" fill="#6a2a8c"/>
<circle cx="484.55" cy="158.30" r="1.25" fill="#6a2a8c"/>
<polygon points="485.43,157.60 487.05,155.97 488.68,157.60 487.05,159.22" fill="#6a2a8c" />
<circle cx="489.65" cy="159.00" r="1.25" fill="#6a2a8c"/>
<circle cx="485.55" cy="161.00" r="1.25" fill="#6a2a8c"/>
<circle cx="488.85" cy="161.50" r="1.25" fill="#6a2a8c"/>
<polygon points="485.43,166.30 487.05,164.68 488.68,166.30 487.05,167.93" fill="#6a2a8c" />
<line x1="439.20" y1="149.30" x2="456.10" y2="149.30" stroke="#2a2a2a" stroke-width="1.1" />
<circle cx="444.20" cy="146.40" r="0.72" fill="#222"/>
<circle cx="446.50" cy="146.40" r="0.72" fill="#222"/>
<circle cx="448.80" cy="146.40" r="0.72" fill="#222"/>
<circle cx="451.10" cy="146.40" r="0.72" fill="#222"/>
<line x1="439.20" y1="141.00" x2="470.10" y2="141.00" stroke="#2a2a2a" stroke-width="1.1" />
<circle cx="451.20" cy="138.10" r="0.72" fill="#222"/>
<circle cx="453.50" cy="138.10" r="0.72" fill="#222"/>
<circle cx="455.80" cy="138.10" r="0.72" fill="#222"/>
<circle cx="458.10" cy="138.10" r="0.72" fill="#222"/>
<line x1="439.20" y1="133.10" x2="485.10" y2="133.10" stroke="#2a2a2a" stroke-width="1.1" />
<circle cx="461.00" cy="130.20" r="0.72" fill="#222"/>
<circle cx="463.30" cy="130.20" r="0.72" fill="#222"/>
<text x="437.25" y="211.40" font-size="6.1" fill="#333" text-anchor="middle" font-weight="normal" textLength="19.90" lengthAdjust="spacingAndGlyphs" stroke="#333" stroke-width="0.1" >Control</text>
<text x="455.50" y="211.40" font-size="6.1" fill="#333" text-anchor="middle" font-weight="normal" textLength="7.00" lengthAdjust="spacingAndGlyphs" stroke="#333" stroke-width="0.1" >d6</text>
<text x="471.25" y="211.40" font-size="6.1" fill="#333" text-anchor="middle" font-weight="normal" textLength="9.90" lengthAdjust="spacingAndGlyphs" stroke="#333" stroke-width="0.1" >d10</text>
<text x="487.00" y="211.40" font-size="6.1" fill="#333" text-anchor="middle" font-weight="normal" textLength="10.20" lengthAdjust="spacingAndGlyphs" stroke="#333" stroke-width="0.1" >d20</text>
<text x="8.30" y="241.30" font-size="11.2" fill="#111" text-anchor="start" font-weight="bold" stroke="#111" stroke-width="0.14" >D</text>
<text x="104.25" y="247.00" font-size="9" fill="#111" text-anchor="middle" font-weight="normal" textLength="32.30" lengthAdjust="spacingAndGlyphs" stroke="#111" stroke-width="0.14" >LT-HSC</text>
<line x1="55.00" y1="254.10" x2="55.00" y2="314.45" stroke="#2a2a2a" stroke-width="1.5" />
<line x1="54.30" y1="313.75" x2="144.00" y2="313.75" stroke="#2a2a2a" stroke-width="1.5" />
<line x1="52.20" y1="254.70" x2="55.00" y2="254.70" stroke="#2a2a2a" stroke-width="1.0" />
<text x="32.50" y="256.90" font-size="6.1" fill="#333" stroke="#333" stroke-width="0.08" textLength="15.80" lengthAdjust="spacingAndGlyphs">1<tspan font-size="6.8">×</tspan>10</text>
<text x="48.40" y="255.10" font-size="3.8" fill="#444">5</text>
<line x1="52.20" y1="269.46" x2="55.00" y2="269.46" stroke="#2a2a2a" stroke-width="1.0" />
<text x="32.50" y="271.66" font-size="6.1" fill="#333" stroke="#333" stroke-width="0.08" textLength="15.80" lengthAdjust="spacingAndGlyphs">1<tspan font-size="6.8">×</tspan>10</text>
<text x="48.40" y="269.86" font-size="3.8" fill="#444">4</text>
<line x1="52.20" y1="284.23" x2="55.00" y2="284.23" stroke="#2a2a2a" stroke-width="1.0" />
<text x="32.50" y="286.43" font-size="6.1" fill="#333" stroke="#333" stroke-width="0.08" textLength="15.80" lengthAdjust="spacingAndGlyphs">1<tspan font-size="6.8">×</tspan>10</text>
<text x="48.40" y="284.62" font-size="3.8" fill="#444">3</text>
<line x1="52.20" y1="298.99" x2="55.00" y2="298.99" stroke="#2a2a2a" stroke-width="1.0" />
<text x="32.50" y="301.19" font-size="6.1" fill="#333" stroke="#333" stroke-width="0.08" textLength="15.80" lengthAdjust="spacingAndGlyphs">1<tspan font-size="6.8">×</tspan>10</text>
<text x="48.40" y="299.39" font-size="3.8" fill="#444">2</text>
<line x1="52.20" y1="313.75" x2="55.00" y2="313.75" stroke="#2a2a2a" stroke-width="1.0" />
<text x="32.50" y="315.95" font-size="6.1" fill="#333" stroke="#333" stroke-width="0.08" textLength="15.80" lengthAdjust="spacingAndGlyphs">1<tspan font-size="6.8">×</tspan>10</text>
<text x="48.40" y="314.15" font-size="3.8" fill="#444">1</text>
<text x="0" y="0" font-size="9" fill="#111" stroke="#111" stroke-width="0.08" font-weight="bold" text-anchor="middle" transform="translate(27.25,284.40) rotate(-90)" textLength="29.40" lengthAdjust="spacingAndGlyphs">Cell count</text>
<line x1="65.90" y1="313.75" x2="65.90" y2="316.15" stroke="#2a2a2a" stroke-width="1.0" />
<line x1="88.80" y1="313.75" x2="88.80" y2="316.15" stroke="#2a2a2a" stroke-width="1.0" />
<line x1="111.00" y1="313.75" x2="111.00" y2="316.15" stroke="#2a2a2a" stroke-width="1.0" />
<line x1="133.30" y1="313.75" x2="133.30" y2="316.15" stroke="#2a2a2a" stroke-width="1.0" />
<text x="64.00" y="324.80" font-size="6.1" fill="#333" text-anchor="middle" font-weight="normal" textLength="23.60" lengthAdjust="spacingAndGlyphs" stroke="#333" stroke-width="0.1" >Baseline</text>
<text x="88.20" y="324.80" font-size="6.1" fill="#333" text-anchor="middle" font-weight="normal" textLength="15.30" lengthAdjust="spacingAndGlyphs" stroke="#333" stroke-width="0.1" >day 6</text>
<text x="110.70" y="324.80" font-size="6.1" fill="#333" text-anchor="middle" font-weight="normal" textLength="18.80" lengthAdjust="spacingAndGlyphs" stroke="#333" stroke-width="0.1" >day 10</text>
<text x="133.00" y="324.80" font-size="6.1" fill="#333" text-anchor="middle" font-weight="normal" textLength="18.50" lengthAdjust="spacingAndGlyphs" stroke="#333" stroke-width="0.1" >day 20</text>
<polyline points="65.90,270.00 88.80,298.30 111.00,291.70 133.30,280.80" fill="none" stroke="#cc1236" stroke-width="1.5" stroke-linejoin="round"/>
<line x1="65.90" y1="266.50" x2="65.90" y2="274.00" stroke="#cc1236" stroke-width="1.1" />
<line x1="63.80" y1="266.50" x2="68.00" y2="266.50" stroke="#cc1236" stroke-width="1.1" />
<line x1="63.80" y1="274.00" x2="68.00" y2="274.00" stroke="#cc1236" stroke-width="1.1" />
<circle cx="65.90" cy="270.00" r="1.35" fill="#cc1236"/>
<line x1="88.80" y1="296.50" x2="88.80" y2="303.20" stroke="#cc1236" stroke-width="1.1" />
<line x1="86.70" y1="296.50" x2="90.90" y2="296.50" stroke="#cc1236" stroke-width="1.1" />
<line x1="86.70" y1="303.20" x2="90.90" y2="303.20" stroke="#cc1236" stroke-width="1.1" />
<circle cx="88.80" cy="298.30" r="1.35" fill="#cc1236"/>
<line x1="111.00" y1="287.30" x2="111.00" y2="303.20" stroke="#cc1236" stroke-width="1.1" />
<line x1="108.90" y1="287.30" x2="113.10" y2="287.30" stroke="#cc1236" stroke-width="1.1" />
<line x1="108.90" y1="303.20" x2="113.10" y2="303.20" stroke="#cc1236" stroke-width="1.1" />
<circle cx="111.00" cy="291.70" r="1.35" fill="#cc1236"/>
<line x1="133.30" y1="278.00" x2="133.30" y2="285.00" stroke="#cc1236" stroke-width="1.1" />
<line x1="131.20" y1="278.00" x2="135.40" y2="278.00" stroke="#cc1236" stroke-width="1.1" />
<line x1="131.20" y1="285.00" x2="135.40" y2="285.00" stroke="#cc1236" stroke-width="1.1" />
<circle cx="133.30" cy="280.80" r="1.35" fill="#cc1236"/>
<polyline points="65.90,269.50 88.80,284.20 111.00,274.30 133.30,272.90" fill="none" stroke="#1a1a1a" stroke-width="1.5" stroke-linejoin="round"/>
<line x1="65.90" y1="266.00" x2="65.90" y2="273.80" stroke="#1a1a1a" stroke-width="1.1" />
<line x1="63.80" y1="266.00" x2="68.00" y2="266.00" stroke="#1a1a1a" stroke-width="1.1" />
<line x1="63.80" y1="273.80" x2="68.00" y2="273.80" stroke="#1a1a1a" stroke-width="1.1" />
<circle cx="65.90" cy="269.50" r="1.35" fill="#1a1a1a"/>
<line x1="88.80" y1="282.00" x2="88.80" y2="287.00" stroke="#1a1a1a" stroke-width="1.1" />
<line x1="86.70" y1="282.00" x2="90.90" y2="282.00" stroke="#1a1a1a" stroke-width="1.1" />
<line x1="86.70" y1="287.00" x2="90.90" y2="287.00" stroke="#1a1a1a" stroke-width="1.1" />
<circle cx="88.80" cy="284.20" r="1.35" fill="#1a1a1a"/>
<line x1="111.00" y1="270.70" x2="111.00" y2="287.50" stroke="#1a1a1a" stroke-width="1.1" />
<line x1="108.90" y1="270.70" x2="113.10" y2="270.70" stroke="#1a1a1a" stroke-width="1.1" />
<line x1="108.90" y1="287.50" x2="113.10" y2="287.50" stroke="#1a1a1a" stroke-width="1.1" />
<circle cx="111.00" cy="274.30" r="1.35" fill="#1a1a1a"/>
<line x1="133.30" y1="270.00" x2="133.30" y2="276.00" stroke="#1a1a1a" stroke-width="1.1" />
<line x1="131.20" y1="270.00" x2="135.40" y2="270.00" stroke="#1a1a1a" stroke-width="1.1" />
<line x1="131.20" y1="276.00" x2="135.40" y2="276.00" stroke="#1a1a1a" stroke-width="1.1" />
<circle cx="133.30" cy="272.90" r="1.35" fill="#1a1a1a"/>
<circle cx="85.95" cy="275.00" r="0.72" fill="#222"/>
<circle cx="88.25" cy="275.00" r="0.72" fill="#222"/>
<circle cx="90.55" cy="275.00" r="0.72" fill="#222"/>
<circle cx="92.85" cy="275.00" r="0.72" fill="#222"/>
<circle cx="109.00" cy="265.00" r="0.72" fill="#222"/>
<circle cx="111.30" cy="265.00" r="0.72" fill="#222"/>
<circle cx="113.60" cy="265.00" r="0.72" fill="#222"/>
<circle cx="133.10" cy="264.40" r="0.72" fill="#222"/>
<line x1="128.00" y1="242.80" x2="135.00" y2="242.80" stroke="#1a1a1a" stroke-width="1.3" />
<circle cx="131.50" cy="242.80" r="1.3" fill="#1a1a1a"/>
<text x="137.80" y="245.00" font-size="6.4" fill="#222" text-anchor="start" font-weight="normal" textLength="12.70" lengthAdjust="spacingAndGlyphs" stroke="#222" stroke-width="0.1" >AZA</text>
<line x1="128.00" y1="250.80" x2="135.00" y2="250.80" stroke="#cc1236" stroke-width="1.3" />
<circle cx="131.50" cy="250.80" r="1.3" fill="#cc1236"/>
<text x="137.80" y="253.00" font-size="6.4" fill="#222" text-anchor="start" font-weight="normal" textLength="36.80" lengthAdjust="spacingAndGlyphs" stroke="#222" stroke-width="0.1" >ACK2 + AZA</text>
<text x="255.30" y="246.80" font-size="9" fill="#111" text-anchor="middle" font-weight="normal" textLength="34.40" lengthAdjust="spacingAndGlyphs" stroke="#111" stroke-width="0.14" >ST-HSC</text>
<line x1="206.50" y1="254.10" x2="206.50" y2="314.45" stroke="#2a2a2a" stroke-width="1.5" />
<line x1="205.80" y1="313.75" x2="295.80" y2="313.75" stroke="#2a2a2a" stroke-width="1.5" />
<line x1="203.70" y1="254.70" x2="206.50" y2="254.70" stroke="#2a2a2a" stroke-width="1.0" />
<text x="184.40" y="256.90" font-size="6.1" fill="#333" stroke="#333" stroke-width="0.08" textLength="15.40" lengthAdjust="spacingAndGlyphs">1<tspan font-size="6.8">×</tspan>10</text>
<text x="199.90" y="255.10" font-size="3.8" fill="#444">5</text>
<line x1="203.70" y1="269.46" x2="206.50" y2="269.46" stroke="#2a2a2a" stroke-width="1.0" />
<text x="184.40" y="271.66" font-size="6.1" fill="#333" stroke="#333" stroke-width="0.08" textLength="15.40" lengthAdjust="spacingAndGlyphs">1<tspan font-size="6.8">×</tspan>10</text>
<text x="199.90" y="269.86" font-size="3.8" fill="#444">4</text>
<line x1="203.70" y1="284.23" x2="206.50" y2="284.23" stroke="#2a2a2a" stroke-width="1.0" />
<text x="184.40" y="286.43" font-size="6.1" fill="#333" stroke="#333" stroke-width="0.08" textLength="15.40" lengthAdjust="spacingAndGlyphs">1<tspan font-size="6.8">×</tspan>10</text>
<text x="199.90" y="284.62" font-size="3.8" fill="#444">3</text>
<line x1="203.70" y1="298.99" x2="206.50" y2="298.99" stroke="#2a2a2a" stroke-width="1.0" />
<text x="184.40" y="301.19" font-size="6.1" fill="#333" stroke="#333" stroke-width="0.08" textLength="15.40" lengthAdjust="spacingAndGlyphs">1<tspan font-size="6.8">×</tspan>10</text>
<text x="199.90" y="299.39" font-size="3.8" fill="#444">2</text>
<line x1="203.70" y1="313.75" x2="206.50" y2="313.75" stroke="#2a2a2a" stroke-width="1.0" />
<text x="184.40" y="315.95" font-size="6.1" fill="#333" stroke="#333" stroke-width="0.08" textLength="15.40" lengthAdjust="spacingAndGlyphs">1<tspan font-size="6.8">×</tspan>10</text>
<text x="199.90" y="314.15" font-size="3.8" fill="#444">1</text>
<text x="0" y="0" font-size="9" fill="#111" stroke="#111" stroke-width="0.08" font-weight="bold" text-anchor="middle" transform="translate(177.90,284.40) rotate(-90)" textLength="29.40" lengthAdjust="spacingAndGlyphs">Cell count</text>
<line x1="217.40" y1="313.75" x2="217.40" y2="316.15" stroke="#2a2a2a" stroke-width="1.0" />
<line x1="239.60" y1="313.75" x2="239.60" y2="316.15" stroke="#2a2a2a" stroke-width="1.0" />
<line x1="262.00" y1="313.75" x2="262.00" y2="316.15" stroke="#2a2a2a" stroke-width="1.0" />
<line x1="284.20" y1="313.75" x2="284.20" y2="316.15" stroke="#2a2a2a" stroke-width="1.0" />
<text x="216.00" y="324.80" font-size="6.1" fill="#333" text-anchor="middle" font-weight="normal" textLength="23.60" lengthAdjust="spacingAndGlyphs" stroke="#333" stroke-width="0.1" >Baseline</text>
<text x="239.00" y="324.80" font-size="6.1" fill="#333" text-anchor="middle" font-weight="normal" textLength="15.30" lengthAdjust="spacingAndGlyphs" stroke="#333" stroke-width="0.1" >day 6</text>
<text x="262.00" y="324.80" font-size="6.1" fill="#333" text-anchor="middle" font-weight="normal" textLength="18.80" lengthAdjust="spacingAndGlyphs" stroke="#333" stroke-width="0.1" >day 10</text>
<text x="284.50" y="324.80" font-size="6.1" fill="#333" text-anchor="middle" font-weight="normal" textLength="18.50" lengthAdjust="spacingAndGlyphs" stroke="#333" stroke-width="0.1" >day 20</text>
<polyline points="217.40,262.00 239.60,278.80 262.00,290.80 284.20,284.60" fill="none" stroke="#cc1236" stroke-width="1.5" stroke-linejoin="round"/>
<line x1="217.40" y1="260.00" x2="217.40" y2="266.00" stroke="#cc1236" stroke-width="1.1" />
<line x1="215.30" y1="260.00" x2="219.50" y2="260.00" stroke="#cc1236" stroke-width="1.1" />
<line x1="215.30" y1="266.00" x2="219.50" y2="266.00" stroke="#cc1236" stroke-width="1.1" />
<circle cx="217.40" cy="262.00" r="1.35" fill="#cc1236"/>
<line x1="239.60" y1="277.00" x2="239.60" y2="282.00" stroke="#cc1236" stroke-width="1.1" />
<line x1="237.50" y1="277.00" x2="241.70" y2="277.00" stroke="#cc1236" stroke-width="1.1" />
<line x1="237.50" y1="282.00" x2="241.70" y2="282.00" stroke="#cc1236" stroke-width="1.1" />
<circle cx="239.60" cy="278.80" r="1.35" fill="#cc1236"/>
<line x1="262.00" y1="286.50" x2="262.00" y2="301.50" stroke="#cc1236" stroke-width="1.1" />
<line x1="259.90" y1="286.50" x2="264.10" y2="286.50" stroke="#cc1236" stroke-width="1.1" />
<line x1="259.90" y1="301.50" x2="264.10" y2="301.50" stroke="#cc1236" stroke-width="1.1" />
<circle cx="262.00" cy="290.80" r="1.35" fill="#cc1236"/>
<line x1="284.20" y1="281.70" x2="284.20" y2="289.40" stroke="#cc1236" stroke-width="1.1" />
<line x1="282.10" y1="281.70" x2="286.30" y2="281.70" stroke="#cc1236" stroke-width="1.1" />
<line x1="282.10" y1="289.40" x2="286.30" y2="289.40" stroke="#cc1236" stroke-width="1.1" />
<circle cx="284.20" cy="284.60" r="1.35" fill="#cc1236"/>
<polyline points="217.40,262.50 239.60,282.50 262.00,281.30 284.20,274.00" fill="none" stroke="#1a1a1a" stroke-width="1.5" stroke-linejoin="round"/>
<line x1="217.40" y1="260.00" x2="217.40" y2="266.00" stroke="#1a1a1a" stroke-width="1.1" />
<line x1="215.30" y1="260.00" x2="219.50" y2="260.00" stroke="#1a1a1a" stroke-width="1.1" />
<line x1="215.30" y1="266.00" x2="219.50" y2="266.00" stroke="#1a1a1a" stroke-width="1.1" />
<circle cx="217.40" cy="262.50" r="1.35" fill="#1a1a1a"/>
<line x1="239.60" y1="277.50" x2="239.60" y2="296.30" stroke="#1a1a1a" stroke-width="1.1" />
<line x1="237.50" y1="277.50" x2="241.70" y2="277.50" stroke="#1a1a1a" stroke-width="1.1" />
<line x1="237.50" y1="296.30" x2="241.70" y2="296.30" stroke="#1a1a1a" stroke-width="1.1" />
<circle cx="239.60" cy="282.50" r="1.35" fill="#1a1a1a"/>
<line x1="262.00" y1="278.30" x2="262.00" y2="287.00" stroke="#1a1a1a" stroke-width="1.1" />
<line x1="259.90" y1="278.30" x2="264.10" y2="278.30" stroke="#1a1a1a" stroke-width="1.1" />
<line x1="259.90" y1="287.00" x2="264.10" y2="287.00" stroke="#1a1a1a" stroke-width="1.1" />
<circle cx="262.00" cy="281.30" r="1.35" fill="#1a1a1a"/>
<line x1="284.20" y1="269.60" x2="284.20" y2="311.20" stroke="#1a1a1a" stroke-width="1.1" />
<line x1="282.10" y1="269.60" x2="286.30" y2="269.60" stroke="#1a1a1a" stroke-width="1.1" />
<line x1="282.10" y1="311.20" x2="286.30" y2="311.20" stroke="#1a1a1a" stroke-width="1.1" />
<circle cx="284.20" cy="274.00" r="1.35" fill="#1a1a1a"/>
<text x="262.00" y="275.00" font-size="5.8" fill="#222" text-anchor="middle" font-weight="normal" stroke="#222" stroke-width="0.1" >ns</text>
<circle cx="284.20" cy="264.40" r="0.72" fill="#222"/>
<text x="98.10" y="345.40" font-size="9" fill="#111" text-anchor="middle" font-weight="normal" textLength="26.20" lengthAdjust="spacingAndGlyphs" stroke="#111" stroke-width="0.14" >MPP2</text>
<line x1="55.00" y1="357.40" x2="55.00" y2="417.50" stroke="#2a2a2a" stroke-width="1.5" />
<line x1="54.30" y1="416.80" x2="144.00" y2="416.80" stroke="#2a2a2a" stroke-width="1.5" />
<line x1="52.20" y1="358.00" x2="55.00" y2="358.00" stroke="#2a2a2a" stroke-width="1.0" />
<text x="32.50" y="360.20" font-size="6.1" fill="#333" stroke="#333" stroke-width="0.08" textLength="15.80" lengthAdjust="spacingAndGlyphs">1<tspan font-size="6.8">×</tspan>10</text>
<text x="48.40" y="358.40" font-size="3.8" fill="#444">5</text>
<line x1="52.20" y1="377.60" x2="55.00" y2="377.60" stroke="#2a2a2a" stroke-width="1.0" />
<text x="32.50" y="379.80" font-size="6.1" fill="#333" stroke="#333" stroke-width="0.08" textLength="15.80" lengthAdjust="spacingAndGlyphs">1<tspan font-size="6.8">×</tspan>10</text>
<text x="48.40" y="378.00" font-size="3.8" fill="#444">4</text>
<line x1="52.20" y1="397.20" x2="55.00" y2="397.20" stroke="#2a2a2a" stroke-width="1.0" />
<text x="32.50" y="399.40" font-size="6.1" fill="#333" stroke="#333" stroke-width="0.08" textLength="15.80" lengthAdjust="spacingAndGlyphs">1<tspan font-size="6.8">×</tspan>10</text>
<text x="48.40" y="397.60" font-size="3.8" fill="#444">3</text>
<line x1="52.20" y1="416.80" x2="55.00" y2="416.80" stroke="#2a2a2a" stroke-width="1.0" />
<text x="32.50" y="419.00" font-size="6.1" fill="#333" stroke="#333" stroke-width="0.08" textLength="15.80" lengthAdjust="spacingAndGlyphs">1<tspan font-size="6.8">×</tspan>10</text>
<text x="48.40" y="417.20" font-size="3.8" fill="#444">2</text>
<text x="0" y="0" font-size="9" fill="#111" stroke="#111" stroke-width="0.08" font-weight="bold" text-anchor="middle" transform="translate(27.25,387.50) rotate(-90)" textLength="29.20" lengthAdjust="spacingAndGlyphs">Cell count</text>
<line x1="65.90" y1="416.80" x2="65.90" y2="419.20" stroke="#2a2a2a" stroke-width="1.0" />
<line x1="88.00" y1="416.80" x2="88.00" y2="419.20" stroke="#2a2a2a" stroke-width="1.0" />
<line x1="110.50" y1="416.80" x2="110.50" y2="419.20" stroke="#2a2a2a" stroke-width="1.0" />
<line x1="132.70" y1="416.80" x2="132.70" y2="419.20" stroke="#2a2a2a" stroke-width="1.0" />
<text x="64.00" y="426.50" font-size="6.1" fill="#333" text-anchor="middle" font-weight="normal" textLength="23.60" lengthAdjust="spacingAndGlyphs" stroke="#333" stroke-width="0.1" >Baseline</text>
<text x="88.00" y="426.50" font-size="6.1" fill="#333" text-anchor="middle" font-weight="normal" textLength="15.30" lengthAdjust="spacingAndGlyphs" stroke="#333" stroke-width="0.1" >day 6</text>
<text x="110.50" y="426.50" font-size="6.1" fill="#333" text-anchor="middle" font-weight="normal" textLength="18.80" lengthAdjust="spacingAndGlyphs" stroke="#333" stroke-width="0.1" >day 10</text>
<text x="132.70" y="426.50" font-size="6.1" fill="#333" text-anchor="middle" font-weight="normal" textLength="18.50" lengthAdjust="spacingAndGlyphs" stroke="#333" stroke-width="0.1" >day 20</text>
<polyline points="65.90,374.50 88.00,384.00 110.50,369.00 132.70,366.00" fill="none" stroke="#cc1236" stroke-width="1.5" stroke-linejoin="round"/>
<line x1="65.90" y1="371.30" x2="65.90" y2="382.20" stroke="#cc1236" stroke-width="1.1" />
<line x1="63.80" y1="371.30" x2="68.00" y2="371.30" stroke="#cc1236" stroke-width="1.1" />
<line x1="63.80" y1="382.20" x2="68.00" y2="382.20" stroke="#cc1236" stroke-width="1.1" />
<circle cx="65.90" cy="374.50" r="1.35" fill="#cc1236"/>
<line x1="88.00" y1="382.00" x2="88.00" y2="395.80" stroke="#cc1236" stroke-width="1.1" />
<line x1="85.90" y1="382.00" x2="90.10" y2="382.00" stroke="#cc1236" stroke-width="1.1" />
<line x1="85.90" y1="395.80" x2="90.10" y2="395.80" stroke="#cc1236" stroke-width="1.1" />
<circle cx="88.00" cy="384.00" r="1.35" fill="#cc1236"/>
<line x1="110.50" y1="367.50" x2="110.50" y2="387.70" stroke="#cc1236" stroke-width="1.1" />
<line x1="108.40" y1="367.50" x2="112.60" y2="367.50" stroke="#cc1236" stroke-width="1.1" />
<line x1="108.40" y1="387.70" x2="112.60" y2="387.70" stroke="#cc1236" stroke-width="1.1" />
<circle cx="110.50" cy="369.00" r="1.35" fill="#cc1236"/>
<line x1="132.70" y1="363.00" x2="132.70" y2="371.00" stroke="#cc1236" stroke-width="1.1" />
<line x1="130.60" y1="363.00" x2="134.80" y2="363.00" stroke="#cc1236" stroke-width="1.1" />
<line x1="130.60" y1="371.00" x2="134.80" y2="371.00" stroke="#cc1236" stroke-width="1.1" />
<circle cx="132.70" cy="366.00" r="1.35" fill="#cc1236"/>
<polyline points="65.90,378.00 88.00,379.00 110.50,361.70 132.70,366.30" fill="none" stroke="#1a1a1a" stroke-width="1.5" stroke-linejoin="round"/>
<line x1="65.90" y1="372.30" x2="65.90" y2="394.50" stroke="#1a1a1a" stroke-width="1.1" />
<line x1="63.80" y1="372.30" x2="68.00" y2="372.30" stroke="#1a1a1a" stroke-width="1.1" />
<line x1="63.80" y1="394.50" x2="68.00" y2="394.50" stroke="#1a1a1a" stroke-width="1.1" />
<circle cx="65.90" cy="378.00" r="1.35" fill="#1a1a1a"/>
<line x1="88.00" y1="373.80" x2="88.00" y2="394.00" stroke="#1a1a1a" stroke-width="1.1" />
<line x1="85.90" y1="373.80" x2="90.10" y2="373.80" stroke="#1a1a1a" stroke-width="1.1" />
<line x1="85.90" y1="394.00" x2="90.10" y2="394.00" stroke="#1a1a1a" stroke-width="1.1" />
<circle cx="88.00" cy="379.00" r="1.35" fill="#1a1a1a"/>
<line x1="110.50" y1="360.00" x2="110.50" y2="370.00" stroke="#1a1a1a" stroke-width="1.1" />
<line x1="108.40" y1="360.00" x2="112.60" y2="360.00" stroke="#1a1a1a" stroke-width="1.1" />
<line x1="108.40" y1="370.00" x2="112.60" y2="370.00" stroke="#1a1a1a" stroke-width="1.1" />
<circle cx="110.50" cy="361.70" r="1.35" fill="#1a1a1a"/>
<line x1="132.70" y1="363.00" x2="132.70" y2="373.00" stroke="#1a1a1a" stroke-width="1.1" />
<line x1="130.60" y1="363.00" x2="134.80" y2="363.00" stroke="#1a1a1a" stroke-width="1.1" />
<line x1="130.60" y1="373.00" x2="134.80" y2="373.00" stroke="#1a1a1a" stroke-width="1.1" />
<circle cx="132.70" cy="366.30" r="1.35" fill="#1a1a1a"/>
<text x="88.00" y="371.00" font-size="5.8" fill="#222" text-anchor="middle" font-weight="normal" stroke="#222" stroke-width="0.1" >ns</text>
<circle cx="110.50" cy="355.40" r="0.72" fill="#222"/>
<text x="132.70" y="359.50" font-size="5.8" fill="#222" text-anchor="middle" font-weight="normal" stroke="#222" stroke-width="0.1" >ns</text>
<text x="253.05" y="349.70" font-size="9" fill="#111" text-anchor="middle" font-weight="normal" textLength="34.90" lengthAdjust="spacingAndGlyphs" stroke="#111" stroke-width="0.14" >MPP3/4</text>
<line x1="206.20" y1="356.20" x2="206.20" y2="417.20" stroke="#2a2a2a" stroke-width="1.5" />
<line x1="205.50" y1="416.50" x2="294.50" y2="416.50" stroke="#2a2a2a" stroke-width="1.5" />
<line x1="203.40" y1="356.80" x2="206.20" y2="356.80" stroke="#2a2a2a" stroke-width="1.0" />
<text x="184.10" y="359.00" font-size="6.1" fill="#333" stroke="#333" stroke-width="0.08" textLength="15.40" lengthAdjust="spacingAndGlyphs">1<tspan font-size="6.8">×</tspan>10</text>
<text x="199.60" y="357.20" font-size="3.8" fill="#444">6</text>
<line x1="203.40" y1="371.73" x2="206.20" y2="371.73" stroke="#2a2a2a" stroke-width="1.0" />
<text x="184.10" y="373.93" font-size="6.1" fill="#333" stroke="#333" stroke-width="0.08" textLength="15.40" lengthAdjust="spacingAndGlyphs">1<tspan font-size="6.8">×</tspan>10</text>
<text x="199.60" y="372.12" font-size="3.8" fill="#444">5</text>
<line x1="203.40" y1="386.65" x2="206.20" y2="386.65" stroke="#2a2a2a" stroke-width="1.0" />
<text x="184.10" y="388.85" font-size="6.1" fill="#333" stroke="#333" stroke-width="0.08" textLength="15.40" lengthAdjust="spacingAndGlyphs">1<tspan font-size="6.8">×</tspan>10</text>
<text x="199.60" y="387.05" font-size="3.8" fill="#444">4</text>
<line x1="203.40" y1="401.57" x2="206.20" y2="401.57" stroke="#2a2a2a" stroke-width="1.0" />
<text x="184.10" y="403.77" font-size="6.1" fill="#333" stroke="#333" stroke-width="0.08" textLength="15.40" lengthAdjust="spacingAndGlyphs">1<tspan font-size="6.8">×</tspan>10</text>
<text x="199.60" y="401.97" font-size="3.8" fill="#444">3</text>
<line x1="203.40" y1="416.50" x2="206.20" y2="416.50" stroke="#2a2a2a" stroke-width="1.0" />
<text x="184.10" y="418.70" font-size="6.1" fill="#333" stroke="#333" stroke-width="0.08" textLength="15.40" lengthAdjust="spacingAndGlyphs">1<tspan font-size="6.8">×</tspan>10</text>
<text x="199.60" y="416.90" font-size="3.8" fill="#444">2</text>
<text x="0" y="0" font-size="9" fill="#111" stroke="#111" stroke-width="0.08" font-weight="bold" text-anchor="middle" transform="translate(178.25,385.60) rotate(-90)" textLength="29.40" lengthAdjust="spacingAndGlyphs">Cell count</text>
<line x1="217.40" y1="416.50" x2="217.40" y2="418.90" stroke="#2a2a2a" stroke-width="1.0" />
<line x1="240.90" y1="416.50" x2="240.90" y2="418.90" stroke="#2a2a2a" stroke-width="1.0" />
<line x1="262.00" y1="416.50" x2="262.00" y2="418.90" stroke="#2a2a2a" stroke-width="1.0" />
<line x1="283.50" y1="416.50" x2="283.50" y2="418.90" stroke="#2a2a2a" stroke-width="1.0" />
<text x="216.00" y="426.50" font-size="6.1" fill="#333" text-anchor="middle" font-weight="normal" textLength="23.60" lengthAdjust="spacingAndGlyphs" stroke="#333" stroke-width="0.1" >Baseline</text>
<text x="240.50" y="426.50" font-size="6.1" fill="#333" text-anchor="middle" font-weight="normal" textLength="15.30" lengthAdjust="spacingAndGlyphs" stroke="#333" stroke-width="0.1" >day 6</text>
<text x="262.00" y="426.50" font-size="6.1" fill="#333" text-anchor="middle" font-weight="normal" textLength="18.80" lengthAdjust="spacingAndGlyphs" stroke="#333" stroke-width="0.1" >day 10</text>
<text x="283.50" y="426.50" font-size="6.1" fill="#333" text-anchor="middle" font-weight="normal" textLength="18.50" lengthAdjust="spacingAndGlyphs" stroke="#333" stroke-width="0.1" >day 20</text>
<polyline points="217.40,368.00 240.90,391.40 262.00,377.60 283.50,371.80" fill="none" stroke="#cc1236" stroke-width="1.5" stroke-linejoin="round"/>
<line x1="217.40" y1="366.00" x2="217.40" y2="377.60" stroke="#cc1236" stroke-width="1.1" />
<line x1="215.30" y1="366.00" x2="219.50" y2="366.00" stroke="#cc1236" stroke-width="1.1" />
<line x1="215.30" y1="377.60" x2="219.50" y2="377.60" stroke="#cc1236" stroke-width="1.1" />
<circle cx="217.40" cy="368.00" r="1.35" fill="#cc1236"/>
<line x1="240.90" y1="386.00" x2="240.90" y2="399.20" stroke="#cc1236" stroke-width="1.1" />
<line x1="238.80" y1="386.00" x2="243.00" y2="386.00" stroke="#cc1236" stroke-width="1.1" />
<line x1="238.80" y1="399.20" x2="243.00" y2="399.20" stroke="#cc1236" stroke-width="1.1" />
<circle cx="240.90" cy="391.40" r="1.35" fill="#cc1236"/>
<line x1="262.00" y1="376.00" x2="262.00" y2="386.00" stroke="#cc1236" stroke-width="1.1" />
<line x1="259.90" y1="376.00" x2="264.10" y2="376.00" stroke="#cc1236" stroke-width="1.1" />
<line x1="259.90" y1="386.00" x2="264.10" y2="386.00" stroke="#cc1236" stroke-width="1.1" />
<circle cx="262.00" cy="377.60" r="1.35" fill="#cc1236"/>
<line x1="283.50" y1="370.00" x2="283.50" y2="374.70" stroke="#cc1236" stroke-width="1.1" />
<line x1="281.40" y1="370.00" x2="285.60" y2="370.00" stroke="#cc1236" stroke-width="1.1" />
<line x1="281.40" y1="374.70" x2="285.60" y2="374.70" stroke="#cc1236" stroke-width="1.1" />
<circle cx="283.50" cy="371.80" r="1.35" fill="#cc1236"/>
<polyline points="217.40,368.20 240.90,384.00 262.00,373.30 283.50,368.40" fill="none" stroke="#1a1a1a" stroke-width="1.5" stroke-linejoin="round"/>
<line x1="217.40" y1="365.40" x2="217.40" y2="377.30" stroke="#1a1a1a" stroke-width="1.1" />
<line x1="215.30" y1="365.40" x2="219.50" y2="365.40" stroke="#1a1a1a" stroke-width="1.1" />
<line x1="215.30" y1="377.30" x2="219.50" y2="377.30" stroke="#1a1a1a" stroke-width="1.1" />
<circle cx="217.40" cy="368.20" r="1.35" fill="#1a1a1a"/>
<line x1="240.90" y1="379.60" x2="240.90" y2="404.40" stroke="#1a1a1a" stroke-width="1.1" />
<line x1="238.80" y1="379.60" x2="243.00" y2="379.60" stroke="#1a1a1a" stroke-width="1.1" />
<line x1="238.80" y1="404.40" x2="243.00" y2="404.40" stroke="#1a1a1a" stroke-width="1.1" />
<circle cx="240.90" cy="384.00" r="1.35" fill="#1a1a1a"/>
<line x1="262.00" y1="371.00" x2="262.00" y2="382.50" stroke="#1a1a1a" stroke-width="1.1" />
<line x1="259.90" y1="371.00" x2="264.10" y2="371.00" stroke="#1a1a1a" stroke-width="1.1" />
<line x1="259.90" y1="382.50" x2="264.10" y2="382.50" stroke="#1a1a1a" stroke-width="1.1" />
<circle cx="262.00" cy="373.30" r="1.35" fill="#1a1a1a"/>
<line x1="283.50" y1="366.00" x2="283.50" y2="371.00" stroke="#1a1a1a" stroke-width="1.1" />
<line x1="281.40" y1="366.00" x2="285.60" y2="366.00" stroke="#1a1a1a" stroke-width="1.1" />
<line x1="281.40" y1="371.00" x2="285.60" y2="371.00" stroke="#1a1a1a" stroke-width="1.1" />
<circle cx="283.50" cy="368.40" r="1.35" fill="#1a1a1a"/>
<text x="240.90" y="376.80" font-size="5.8" fill="#222" text-anchor="middle" font-weight="normal" stroke="#222" stroke-width="0.1" >ns</text>
<text x="262.00" y="367.50" font-size="5.8" fill="#222" text-anchor="middle" font-weight="normal" stroke="#222" stroke-width="0.1" >ns</text>
<text x="283.50" y="361.20" font-size="5.8" fill="#222" text-anchor="middle" font-weight="normal" stroke="#222" stroke-width="0.1" >ns</text>
<text x="342.90" y="241.30" font-size="11.2" fill="#111" text-anchor="start" font-weight="bold" stroke="#111" stroke-width="0.14" >E</text>
<text x="437.00" y="246.80" font-size="9" fill="#111" text-anchor="middle" font-weight="normal" textLength="32.20" lengthAdjust="spacingAndGlyphs" stroke="#111" stroke-width="0.14" >LT-HSC</text>
<line x1="387.90" y1="249.80" x2="387.90" y2="316.20" stroke="#2a2a2a" stroke-width="1.5" />
<line x1="387.20" y1="315.50" x2="484.40" y2="315.50" stroke="#2a2a2a" stroke-width="1.5" />
<line x1="385.10" y1="250.40" x2="387.90" y2="250.40" stroke="#2a2a2a" stroke-width="1.0" />
<text x="364.50" y="252.60" font-size="6.1" fill="#333" stroke="#333" stroke-width="0.08" textLength="16.70" lengthAdjust="spacingAndGlyphs">1<tspan font-size="6.8">×</tspan>10</text>
<text x="381.30" y="250.80" font-size="3.8" fill="#444">6</text>
<line x1="385.10" y1="263.42" x2="387.90" y2="263.42" stroke="#2a2a2a" stroke-width="1.0" />
<text x="364.50" y="265.62" font-size="6.1" fill="#333" stroke="#333" stroke-width="0.08" textLength="16.70" lengthAdjust="spacingAndGlyphs">1<tspan font-size="6.8">×</tspan>10</text>
<text x="381.30" y="263.82" font-size="3.8" fill="#444">5</text>
<line x1="385.10" y1="276.44" x2="387.90" y2="276.44" stroke="#2a2a2a" stroke-width="1.0" />
<text x="364.50" y="278.64" font-size="6.1" fill="#333" stroke="#333" stroke-width="0.08" textLength="16.70" lengthAdjust="spacingAndGlyphs">1<tspan font-size="6.8">×</tspan>10</text>
<text x="381.30" y="276.84" font-size="3.8" fill="#444">4</text>
<line x1="385.10" y1="289.46" x2="387.90" y2="289.46" stroke="#2a2a2a" stroke-width="1.0" />
<text x="364.50" y="291.66" font-size="6.1" fill="#333" stroke="#333" stroke-width="0.08" textLength="16.70" lengthAdjust="spacingAndGlyphs">1<tspan font-size="6.8">×</tspan>10</text>
<text x="381.30" y="289.86" font-size="3.8" fill="#444">3</text>
<line x1="385.10" y1="302.48" x2="387.90" y2="302.48" stroke="#2a2a2a" stroke-width="1.0" />
<text x="364.50" y="304.68" font-size="6.1" fill="#333" stroke="#333" stroke-width="0.08" textLength="16.70" lengthAdjust="spacingAndGlyphs">1<tspan font-size="6.8">×</tspan>10</text>
<text x="381.30" y="302.88" font-size="3.8" fill="#444">2</text>
<line x1="385.10" y1="315.50" x2="387.90" y2="315.50" stroke="#2a2a2a" stroke-width="1.0" />
<text x="364.50" y="317.70" font-size="6.1" fill="#333" stroke="#333" stroke-width="0.08" textLength="16.70" lengthAdjust="spacingAndGlyphs">1<tspan font-size="6.8">×</tspan>10</text>
<text x="381.30" y="315.90" font-size="3.8" fill="#444">1</text>
<text x="0" y="0" font-size="9" fill="#111" stroke="#111" stroke-width="0.08" font-weight="bold" text-anchor="middle" transform="translate(359.90,284.50) rotate(-90)" textLength="29.10" lengthAdjust="spacingAndGlyphs">Cell count</text>
<line x1="403.70" y1="315.50" x2="403.70" y2="317.90" stroke="#2a2a2a" stroke-width="1.0" />
<line x1="435.90" y1="315.50" x2="435.90" y2="317.90" stroke="#2a2a2a" stroke-width="1.0" />
<line x1="468.30" y1="315.50" x2="468.30" y2="317.90" stroke="#2a2a2a" stroke-width="1.0" />
<text x="403.70" y="325.60" font-size="6.3" fill="#333" text-anchor="middle" font-weight="normal" textLength="23.80" lengthAdjust="spacingAndGlyphs" stroke="#333" stroke-width="0.1" >Baseline</text>
<text x="435.90" y="325.60" font-size="6.3" fill="#333" text-anchor="middle" font-weight="normal" textLength="10.50" lengthAdjust="spacingAndGlyphs" stroke="#333" stroke-width="0.1" >d10</text>
<text x="468.30" y="325.60" font-size="6.3" fill="#333" text-anchor="middle" font-weight="normal" textLength="11.20" lengthAdjust="spacingAndGlyphs" stroke="#333" stroke-width="0.1" >d20</text>
<polyline points="403.70,274.90 435.90,295.80 468.30,285.70" fill="none" stroke="#cc1236" stroke-width="1.5" stroke-linejoin="round"/>
<line x1="403.70" y1="274.00" x2="403.70" y2="276.50" stroke="#cc1236" stroke-width="1.1" />
<line x1="401.60" y1="274.00" x2="405.80" y2="274.00" stroke="#cc1236" stroke-width="1.1" />
<line x1="401.60" y1="276.50" x2="405.80" y2="276.50" stroke="#cc1236" stroke-width="1.1" />
<circle cx="403.70" cy="274.90" r="1.35" fill="#cc1236"/>
<line x1="435.90" y1="293.00" x2="435.90" y2="307.00" stroke="#cc1236" stroke-width="1.1" />
<line x1="433.80" y1="293.00" x2="438.00" y2="293.00" stroke="#cc1236" stroke-width="1.1" />
<line x1="433.80" y1="307.00" x2="438.00" y2="307.00" stroke="#cc1236" stroke-width="1.1" />
<circle cx="435.90" cy="295.80" r="1.35" fill="#cc1236"/>
<line x1="468.30" y1="282.70" x2="468.30" y2="289.60" stroke="#cc1236" stroke-width="1.1" />
<line x1="466.20" y1="282.70" x2="470.40" y2="282.70" stroke="#cc1236" stroke-width="1.1" />
<line x1="466.20" y1="289.60" x2="470.40" y2="289.60" stroke="#cc1236" stroke-width="1.1" />
<circle cx="468.30" cy="285.70" r="1.35" fill="#cc1236"/>
<polyline points="403.70,272.70 435.90,280.80 468.30,279.70" fill="none" stroke="#17528f" stroke-width="1.5" stroke-linejoin="round"/>
<line x1="403.70" y1="271.50" x2="403.70" y2="275.00" stroke="#17528f" stroke-width="1.1" />
<line x1="401.60" y1="271.50" x2="405.80" y2="271.50" stroke="#17528f" stroke-width="1.1" />
<line x1="401.60" y1="275.00" x2="405.80" y2="275.00" stroke="#17528f" stroke-width="1.1" />
<circle cx="403.70" cy="272.70" r="1.35" fill="#17528f"/>
<line x1="435.90" y1="278.00" x2="435.90" y2="288.00" stroke="#17528f" stroke-width="1.1" />
<line x1="433.80" y1="278.00" x2="438.00" y2="278.00" stroke="#17528f" stroke-width="1.1" />
<line x1="433.80" y1="288.00" x2="438.00" y2="288.00" stroke="#17528f" stroke-width="1.1" />
<circle cx="435.90" cy="280.80" r="1.35" fill="#17528f"/>
<line x1="468.30" y1="277.00" x2="468.30" y2="282.20" stroke="#17528f" stroke-width="1.1" />
<line x1="466.20" y1="277.00" x2="470.40" y2="277.00" stroke="#17528f" stroke-width="1.1" />
<line x1="466.20" y1="282.20" x2="470.40" y2="282.20" stroke="#17528f" stroke-width="1.1" />
<circle cx="468.30" cy="279.70" r="1.35" fill="#17528f"/>
<circle cx="432.75" cy="272.00" r="0.72" fill="#222"/>
<circle cx="435.05" cy="272.00" r="0.72" fill="#222"/>
<circle cx="437.35" cy="272.00" r="0.72" fill="#222"/>
<circle cx="439.65" cy="272.00" r="0.72" fill="#222"/>
<circle cx="466.40" cy="272.00" r="0.72" fill="#222"/>
<circle cx="468.70" cy="272.00" r="0.72" fill="#222"/>
<circle cx="471.00" cy="272.00" r="0.72" fill="#222"/>
<line x1="465.50" y1="252.80" x2="472.50" y2="252.80" stroke="#17528f" stroke-width="1.3" />
<circle cx="469.00" cy="252.80" r="1.3" fill="#17528f"/>
<text x="475.30" y="255.00" font-size="6.4" fill="#222" text-anchor="start" font-weight="normal" textLength="32.00" lengthAdjust="spacingAndGlyphs" stroke="#222" stroke-width="0.1" >2B8 + AZA</text>
<line x1="465.50" y1="261.10" x2="472.50" y2="261.10" stroke="#cc1236" stroke-width="1.3" />
<circle cx="469.00" cy="261.10" r="1.3" fill="#cc1236"/>
<text x="475.30" y="263.30" font-size="6.4" fill="#222" text-anchor="start" font-weight="normal" textLength="36.30" lengthAdjust="spacingAndGlyphs" stroke="#222" stroke-width="0.1" >ACK2 + AZA</text>
<text x="342.70" y="338.20" font-size="11.2" fill="#111" text-anchor="start" font-weight="bold" stroke="#111" stroke-width="0.14" >F</text>
<text x="436.85" y="349.70" font-size="9" fill="#111" text-anchor="middle" font-weight="normal" textLength="34.10" lengthAdjust="spacingAndGlyphs" stroke="#111" stroke-width="0.14" >ST-HSC</text>
<line x1="387.90" y1="350.70" x2="387.90" y2="417.20" stroke="#2a2a2a" stroke-width="1.5" />
<line x1="387.20" y1="416.50" x2="484.40" y2="416.50" stroke="#2a2a2a" stroke-width="1.5" />
<line x1="385.10" y1="351.30" x2="387.90" y2="351.30" stroke="#2a2a2a" stroke-width="1.0" />
<text x="364.50" y="353.50" font-size="6.1" fill="#333" stroke="#333" stroke-width="0.08" textLength="16.70" lengthAdjust="spacingAndGlyphs">1<tspan font-size="6.8">×</tspan>10</text>
<text x="381.30" y="351.70" font-size="3.8" fill="#444">6</text>
<line x1="385.10" y1="364.34" x2="387.90" y2="364.34" stroke="#2a2a2a" stroke-width="1.0" />
<text x="364.50" y="366.54" font-size="6.1" fill="#333" stroke="#333" stroke-width="0.08" textLength="16.70" lengthAdjust="spacingAndGlyphs">1<tspan font-size="6.8">×</tspan>10</text>
<text x="381.30" y="364.74" font-size="3.8" fill="#444">5</text>
<line x1="385.10" y1="377.38" x2="387.90" y2="377.38" stroke="#2a2a2a" stroke-width="1.0" />
<text x="364.50" y="379.58" font-size="6.1" fill="#333" stroke="#333" stroke-width="0.08" textLength="16.70" lengthAdjust="spacingAndGlyphs">1<tspan font-size="6.8">×</tspan>10</text>
<text x="381.30" y="377.78" font-size="3.8" fill="#444">4</text>
<line x1="385.10" y1="390.42" x2="387.90" y2="390.42" stroke="#2a2a2a" stroke-width="1.0" />
<text x="364.50" y="392.62" font-size="6.1" fill="#333" stroke="#333" stroke-width="0.08" textLength="16.70" lengthAdjust="spacingAndGlyphs">1<tspan font-size="6.8">×</tspan>10</text>
<text x="381.30" y="390.82" font-size="3.8" fill="#444">3</text>
<line x1="385.10" y1="403.46" x2="387.90" y2="403.46" stroke="#2a2a2a" stroke-width="1.0" />
<text x="364.50" y="405.66" font-size="6.1" fill="#333" stroke="#333" stroke-width="0.08" textLength="16.70" lengthAdjust="spacingAndGlyphs">1<tspan font-size="6.8">×</tspan>10</text>
<text x="381.30" y="403.86" font-size="3.8" fill="#444">2</text>
<line x1="385.10" y1="416.50" x2="387.90" y2="416.50" stroke="#2a2a2a" stroke-width="1.0" />
<text x="364.50" y="418.70" font-size="6.1" fill="#333" stroke="#333" stroke-width="0.08" textLength="16.70" lengthAdjust="spacingAndGlyphs">1<tspan font-size="6.8">×</tspan>10</text>
<text x="381.30" y="416.90" font-size="3.8" fill="#444">1</text>
<text x="0" y="0" font-size="9" fill="#111" stroke="#111" stroke-width="0.08" font-weight="bold" text-anchor="middle" transform="translate(359.90,385.50) rotate(-90)" textLength="29.20" lengthAdjust="spacingAndGlyphs">Cell count</text>
<line x1="403.80" y1="416.50" x2="403.80" y2="418.90" stroke="#2a2a2a" stroke-width="1.0" />
<line x1="435.90" y1="416.50" x2="435.90" y2="418.90" stroke="#2a2a2a" stroke-width="1.0" />
<line x1="468.30" y1="416.50" x2="468.30" y2="418.90" stroke="#2a2a2a" stroke-width="1.0" />
<text x="403.80" y="426.80" font-size="6.3" fill="#333" text-anchor="middle" font-weight="normal" textLength="23.80" lengthAdjust="spacingAndGlyphs" stroke="#333" stroke-width="0.1" >Baseline</text>
<text x="435.90" y="426.80" font-size="6.3" fill="#333" text-anchor="middle" font-weight="normal" textLength="10.50" lengthAdjust="spacingAndGlyphs" stroke="#333" stroke-width="0.1" >d10</text>
<text x="468.30" y="426.80" font-size="6.3" fill="#333" text-anchor="middle" font-weight="normal" textLength="11.20" lengthAdjust="spacingAndGlyphs" stroke="#333" stroke-width="0.1" >d20</text>
<polyline points="403.80,372.80 435.90,396.00 468.30,391.00" fill="none" stroke="#cc1236" stroke-width="1.5" stroke-linejoin="round"/>
<line x1="403.80" y1="370.00" x2="403.80" y2="376.00" stroke="#cc1236" stroke-width="1.1" />
<line x1="401.70" y1="370.00" x2="405.90" y2="370.00" stroke="#cc1236" stroke-width="1.1" />
<line x1="401.70" y1="376.00" x2="405.90" y2="376.00" stroke="#cc1236" stroke-width="1.1" />
<circle cx="403.80" cy="372.80" r="1.35" fill="#cc1236"/>
<line x1="435.90" y1="392.40" x2="435.90" y2="405.00" stroke="#cc1236" stroke-width="1.1" />
<line x1="433.80" y1="392.40" x2="438.00" y2="392.40" stroke="#cc1236" stroke-width="1.1" />
<line x1="433.80" y1="405.00" x2="438.00" y2="405.00" stroke="#cc1236" stroke-width="1.1" />
<circle cx="435.90" cy="396.00" r="1.35" fill="#cc1236"/>
<line x1="468.30" y1="388.50" x2="468.30" y2="395.00" stroke="#cc1236" stroke-width="1.1" />
<line x1="466.20" y1="388.50" x2="470.40" y2="388.50" stroke="#cc1236" stroke-width="1.1" />
<line x1="466.20" y1="395.00" x2="470.40" y2="395.00" stroke="#cc1236" stroke-width="1.1" />
<circle cx="468.30" cy="391.00" r="1.35" fill="#cc1236"/>
<polyline points="403.80,371.30 435.90,388.50 468.30,384.60" fill="none" stroke="#17528f" stroke-width="1.5" stroke-linejoin="round"/>
<line x1="403.80" y1="368.60" x2="403.80" y2="377.00" stroke="#17528f" stroke-width="1.1" />
<line x1="401.70" y1="368.60" x2="405.90" y2="368.60" stroke="#17528f" stroke-width="1.1" />
<line x1="401.70" y1="377.00" x2="405.90" y2="377.00" stroke="#17528f" stroke-width="1.1" />
<circle cx="403.80" cy="371.30" r="1.35" fill="#17528f"/>
<line x1="435.90" y1="385.50" x2="435.90" y2="393.00" stroke="#17528f" stroke-width="1.1" />
<line x1="433.80" y1="385.50" x2="438.00" y2="385.50" stroke="#17528f" stroke-width="1.1" />
<line x1="433.80" y1="393.00" x2="438.00" y2="393.00" stroke="#17528f" stroke-width="1.1" />
<circle cx="435.90" cy="388.50" r="1.35" fill="#17528f"/>
<line x1="468.30" y1="381.20" x2="468.30" y2="387.60" stroke="#17528f" stroke-width="1.1" />
<line x1="466.20" y1="381.20" x2="470.40" y2="381.20" stroke="#17528f" stroke-width="1.1" />
<line x1="466.20" y1="387.60" x2="470.40" y2="387.60" stroke="#17528f" stroke-width="1.1" />
<circle cx="468.30" cy="384.60" r="1.35" fill="#17528f"/>
<line x1="465.50" y1="353.50" x2="472.50" y2="353.50" stroke="#17528f" stroke-width="1.3" />
<circle cx="469.00" cy="353.50" r="1.3" fill="#17528f"/>
<text x="475.30" y="355.70" font-size="6.4" fill="#222" text-anchor="start" font-weight="normal" textLength="32.00" lengthAdjust="spacingAndGlyphs" stroke="#222" stroke-width="0.1" >2B8 + AZA</text>
<line x1="465.50" y1="362.20" x2="472.50" y2="362.20" stroke="#cc1236" stroke-width="1.3" />
<circle cx="469.00" cy="362.20" r="1.3" fill="#cc1236"/>
<text x="475.30" y="364.40" font-size="6.4" fill="#222" text-anchor="start" font-weight="normal" textLength="36.30" lengthAdjust="spacingAndGlyphs" stroke="#222" stroke-width="0.1" >ACK2 + AZA</text>
<text x="7.70" y="450.20" font-size="11.2" fill="#111" text-anchor="start" font-weight="bold" stroke="#111" stroke-width="0.14" >G</text>
<g transform="translate(82.30,491.00) scale(1.0)"><path d="M0,-9.5 C-0.5,-12.5 -3,-14 -6,-13.6 C-9,-13.2 -11,-10.5 -15,-10.2" fill="none" stroke="#7a7a7a" stroke-width="1.4" stroke-linecap="round"/><path d="M0,-10.5 C4.8,-10.5 7.6,-5.5 7.6,-0.5 C7.6,3.5 6.4,6 4.6,8.2 C3.2,10.4 1.6,11.6 0,11.6 C-1.6,11.6 -3.2,10.4 -4.6,8.2 C-6.4,6 -7.6,3.5 -7.6,-0.5 C-7.6,-5.5 -4.8,-10.5 0,-10.5 Z" fill="#777" stroke="#555" stroke-width="0.5"/><circle cx="-5.2" cy="1.3" r="3.1" fill="#c4c4c4" stroke="#888" stroke-width="0.5"/><circle cx="5.2" cy="1.3" r="3.1" fill="#c4c4c4" stroke="#888" stroke-width="0.5"/><path d="M-3.6,2.5 C-3.6,-1.5 3.6,-1.5 3.6,2.5 C3.6,6.5 2,10.5 0,11.6 C-2,10.5 -3.6,6.5 -3.6,2.5Z" fill="#666"/><circle cx="-1.9" cy="6" r="1" fill="#222"/><circle cx="1.9" cy="6" r="1" fill="#222"/><path d="M-2,9.4 L2,9.4 L0,11.8 Z" fill="#111"/><path d="M-3,9 L-7,8 M-3,9.8 L-6.5,11.3 M-2.8,10.4 L-5,13 M3,9 L7,8 M3,9.8 L6.5,11.3 M2.8,10.4 L5,13" stroke="#c8c8c8" stroke-width="0.55"/></g>
<line x1="81.90" y1="508.00" x2="81.90" y2="600.40" stroke="#707070" stroke-width="1.5" />
<line x1="78.30" y1="508.00" x2="85.60" y2="508.00" stroke="#333" stroke-width="1.3" />
<line x1="78.30" y1="600.40" x2="85.60" y2="600.40" stroke="#333" stroke-width="1.3" />
<text x="38.70" y="518.60" font-size="8.1" fill="#17528f" text-anchor="middle" font-weight="normal" textLength="21.20" lengthAdjust="spacingAndGlyphs" stroke="#17528f" stroke-width="0.1" >ACK2</text>
<line x1="59.10" y1="515.80" x2="73.30" y2="515.80" stroke="#17528f" stroke-width="1.3" />
<polygon points="72.30,513.20 73.50,515.80 72.30,518.40 77.90,515.80" fill="#17528f" />
<text x="90.60" y="518.80" font-size="8.1" fill="#17528f" text-anchor="middle" font-weight="normal" textLength="9.00" lengthAdjust="spacingAndGlyphs" stroke="#17528f" stroke-width="0.1" >−5</text>
<line x1="56.70" y1="544.90" x2="56.70" y2="577.60" stroke="#cc1236" stroke-width="1.2" />
<line x1="59.10" y1="545.70" x2="73.80" y2="545.70" stroke="#cc1236" stroke-width="1.3" />
<polygon points="72.80,543.10 74.00,545.70 72.80,548.30 78.40,545.70" fill="#cc1236" />
<text x="86.60" y="547.80" font-size="8" fill="#cc1236" text-anchor="start" font-weight="normal" stroke="#cc1236" stroke-width="0.1" >1</text>
<line x1="59.10" y1="561.20" x2="73.80" y2="561.20" stroke="#cc1236" stroke-width="1.3" />
<polygon points="72.80,558.60 74.00,561.20 72.80,563.80 78.40,561.20" fill="#cc1236" />
<text x="86.60" y="563.70" font-size="8" fill="#cc1236" text-anchor="start" font-weight="normal" stroke="#cc1236" stroke-width="0.1" >2</text>
<line x1="59.10" y1="577.60" x2="73.80" y2="577.60" stroke="#cc1236" stroke-width="1.3" />
<polygon points="72.80,575.00 74.00,577.60 72.80,580.20 78.40,577.60" fill="#cc1236" />
<text x="86.60" y="579.00" font-size="8" fill="#cc1236" text-anchor="start" font-weight="normal" stroke="#cc1236" stroke-width="0.1" >3</text>
<text x="36.80" y="556.60" font-size="7.6" fill="#cc1236" text-anchor="middle" font-weight="bold" textLength="15.80" lengthAdjust="spacingAndGlyphs" stroke="#cc1236" stroke-width="0.1" >AZA</text>
<text x="36.70" y="565.80" font-size="7.6" fill="#cc1236" text-anchor="middle" font-weight="normal" textLength="34.60" lengthAdjust="spacingAndGlyphs" stroke="#cc1236" stroke-width="0.1" >2.5 mg/kg</text>
<text x="37.65" y="593.90" font-size="8" fill="#111" text-anchor="middle" font-weight="normal" textLength="27.30" lengthAdjust="spacingAndGlyphs" stroke="#111" stroke-width="0.1" >Analysis</text>
<line x1="59.10" y1="592.00" x2="73.80" y2="592.00" stroke="#111" stroke-width="1.3" />
<polygon points="72.80,589.40 74.00,592.00 72.80,594.60 78.40,592.00" fill="#111" />
<text x="86.60" y="594.60" font-size="8" fill="#111" text-anchor="start" font-weight="normal" stroke="#111" stroke-width="0.1" >4</text>
<text x="81.95" y="608.80" font-size="8" fill="#111" text-anchor="middle" font-weight="normal" textLength="16.90" lengthAdjust="spacingAndGlyphs" stroke="#111" stroke-width="0.1" >Days</text>
<text x="133.40" y="449.60" font-size="11.2" fill="#111" text-anchor="start" font-weight="bold" stroke="#111" stroke-width="0.14" >H</text>
<text x="238.05" y="456.00" font-size="9.3" fill="#111" text-anchor="middle" font-weight="normal" textLength="66.90" lengthAdjust="spacingAndGlyphs" stroke="#111" stroke-width="0.14" >Gated from LSK</text>
<rect x="193.90" y="473.50" width="28.10" height="41.80" fill="#b0b0cd" stroke="none" stroke-width="1" />
<rect x="193.90" y="515.30" width="28.10" height="27.70" fill="#f4b1b5" stroke="none" stroke-width="1" />
<rect x="152.30" y="473.50" width="69.70" height="69.50" fill="none" stroke="#8a8a8a" stroke-width="0.9" />
<line x1="152.30" y1="515.30" x2="193.90" y2="515.30" stroke="#555" stroke-width="0.9" />
<line x1="193.90" y1="515.30" x2="222.00" y2="515.30" stroke="#555" stroke-width="0.9" />
<line x1="193.90" y1="473.50" x2="193.90" y2="543.00" stroke="#555" stroke-width="0.9" />
<text x="183.05" y="467.50" font-size="9.1" fill="#111" text-anchor="middle" font-weight="normal" textLength="39.90" lengthAdjust="spacingAndGlyphs" stroke="#111" stroke-width="0.14" >Untreated</text>
<line x1="150.70" y1="479.60" x2="152.30" y2="479.60" stroke="#666" stroke-width="0.7" />
<text x="150.50" y="481.70" font-size="6.3" fill="#333" text-anchor="end" font-weight="normal" stroke="#333" stroke-width="0.1" >10<tspan font-size="3.8" dy="-2.4">5</tspan></text>
<line x1="150.70" y1="494.30" x2="152.30" y2="494.30" stroke="#666" stroke-width="0.7" />
<text x="150.50" y="496.40" font-size="6.3" fill="#333" text-anchor="end" font-weight="normal" stroke="#333" stroke-width="0.1" >10<tspan font-size="3.8" dy="-2.4">4</tspan></text>
<line x1="150.70" y1="508.40" x2="152.30" y2="508.40" stroke="#666" stroke-width="0.7" />
<text x="150.50" y="510.50" font-size="6.3" fill="#333" text-anchor="end" font-weight="normal" stroke="#333" stroke-width="0.1" >10<tspan font-size="3.8" dy="-2.4">3</tspan></text>
<line x1="150.70" y1="528.30" x2="152.30" y2="528.30" stroke="#666" stroke-width="0.7" />
<text x="150.50" y="530.40" font-size="6.3" fill="#333" text-anchor="end" font-weight="normal" stroke="#333" stroke-width="0.1" >0</text>
<line x1="161.10" y1="543.00" x2="161.10" y2="544.30" stroke="#888" stroke-width="0.6" />
<line x1="166.80" y1="543.00" x2="166.80" y2="544.30" stroke="#888" stroke-width="0.6" />
<line x1="182.30" y1="543.00" x2="182.30" y2="544.30" stroke="#888" stroke-width="0.6" />
<line x1="198.80" y1="543.00" x2="198.80" y2="544.30" stroke="#888" stroke-width="0.6" />
<line x1="214.30" y1="543.00" x2="214.30" y2="544.30" stroke="#888" stroke-width="0.6" />
<text x="161.10" y="551.70" font-size="6.3" fill="#333" text-anchor="middle" font-weight="normal" stroke="#333" stroke-width="0.1" >0</text>
<text x="162.90" y="551.70" font-size="6.3" fill="#333" text-anchor="start" font-weight="normal" stroke="#333" stroke-width="0.1" >10<tspan font-size="3.8" dy="-2.4">2</tspan></text>
<text x="180.00" y="551.70" font-size="6.3" fill="#333" text-anchor="start" font-weight="normal" stroke="#333" stroke-width="0.1" >10<tspan font-size="3.8" dy="-2.4">3</tspan></text>
<text x="196.00" y="551.70" font-size="6.3" fill="#333" text-anchor="start" font-weight="normal" stroke="#333" stroke-width="0.1" >10<tspan font-size="3.8" dy="-2.4">4</tspan></text>
<text x="211.40" y="551.70" font-size="6.3" fill="#333" text-anchor="start" font-weight="normal" stroke="#333" stroke-width="0.1" >10<tspan font-size="3.8" dy="-2.4">5</tspan></text>
<text x="155.80" y="481.40" font-size="6.4" fill="#222" text-anchor="start" font-weight="normal" stroke="#222" stroke-width="0.1" >0.335</text>
<rect x="201.00" y="475.20" width="20.60" height="7.80" fill="#fff" stroke="none" stroke-width="1" />
<text x="211.30" y="481.40" font-size="6.4" fill="#17528f" text-anchor="middle" font-weight="normal" stroke="#17528f" stroke-width="0.1" >0.502</text>
<text x="155.50" y="541.00" font-size="6.4" fill="#222" text-anchor="start" font-weight="normal" stroke="#222" stroke-width="0.1" >96.4</text>
<rect x="202.00" y="535.70" width="19.60" height="7.00" fill="#fff" stroke="none" stroke-width="1" />
<text x="211.80" y="541.00" font-size="6.4" fill="#cc1236" text-anchor="middle" font-weight="normal" stroke="#cc1236" stroke-width="0.1" >2.79</text>
<path d="M177.8,535.0 L171.5,534.9 L169.0,534.5 L167.0,533.9 L160.5,529.8 L159.6,528.5 L159.7,527.5 L160.5,526.5 L162.2,525.5 L164.5,524.8 L167.2,524.4 L171.5,524.1 L192.5,523.6 L195.5,523.8 L197.5,524.4 L199.3,525.5 L200.3,527.0 L200.5,528.2 L199.9,529.5 L198.8,530.6 L196.8,531.6 L194.0,532.4 L184.0,534.3 L177.8,535.0Z" fill="none" stroke="#111" stroke-width="0.5" stroke-opacity="0.61"/>
<path d="M178.2,532.8 L173.0,532.4 L165.8,530.9 L162.6,529.5 L161.9,528.8 L161.8,527.8 L162.5,526.8 L163.8,526.1 L168.0,525.0 L172.2,524.8 L189.2,524.6 L193.0,524.7 L195.5,525.2 L197.5,526.2 L198.2,527.5 L198.2,528.5 L197.5,529.5 L196.2,530.3 L194.2,531.1 L190.8,531.7 L178.2,532.8Z" fill="none" stroke="#111" stroke-width="0.5" stroke-opacity="0.64"/>
<path d="M184.2,531.5 L176.5,531.7 L168.5,530.9 L166.0,530.3 L164.2,529.6 L163.1,528.8 L162.9,528.0 L163.2,527.2 L163.8,526.8 L166.0,525.9 L169.2,525.3 L174.0,525.1 L192.0,525.1 L194.0,525.5 L195.5,526.0 L196.6,526.8 L197.0,527.5 L197.0,528.2 L196.5,529.1 L195.5,529.9 L194.2,530.4 L190.8,531.1 L184.2,531.5Z" fill="none" stroke="#111" stroke-width="0.5" stroke-opacity="0.66"/>
<path d="M186.2,531.0 L177.5,531.2 L169.5,530.7 L167.0,530.2 L165.2,529.6 L164.1,528.8 L163.8,528.0 L164.5,527.0 L166.8,526.1 L169.8,525.6 L174.0,525.4 L191.2,525.4 L194.5,526.1 L195.6,526.8 L196.1,527.5 L196.1,528.2 L195.7,529.0 L193.8,530.1 L191.0,530.7 L186.2,531.0Z" fill="none" stroke="#111" stroke-width="0.5" stroke-opacity="0.69"/>
<path d="M183.8,530.8 L176.5,530.8 L169.5,530.3 L165.8,529.4 L164.8,528.8 L164.5,528.0 L164.7,527.5 L165.5,526.9 L168.0,526.1 L171.5,525.7 L177.5,525.6 L191.2,525.7 L194.2,526.5 L195.0,527.0 L195.4,527.8 L195.3,528.5 L194.8,529.1 L192.5,530.1 L189.2,530.6 L183.8,530.8Z" fill="none" stroke="#111" stroke-width="0.5" stroke-opacity="0.71"/>
<path d="M183.2,530.5 L175.5,530.5 L169.8,530.1 L166.3,529.2 L165.5,528.8 L165.2,528.0 L165.4,527.5 L166.0,527.0 L168.5,526.2 L171.8,525.9 L177.2,525.8 L190.8,525.9 L193.5,526.6 L194.2,527.0 L194.8,527.8 L194.6,528.5 L194.2,529.0 L192.0,529.9 L189.0,530.3 L183.2,530.5Z" fill="none" stroke="#111" stroke-width="0.5" stroke-opacity="0.73"/>
<path d="M184.5,530.3 L177.0,530.3 L170.2,530.0 L167.0,529.2 L166.2,528.8 L165.8,528.0 L166.0,527.5 L166.7,527.0 L169.0,526.4 L177.8,526.0 L190.5,526.1 L193.1,526.8 L193.8,527.2 L194.2,527.8 L194.1,528.2 L193.8,528.8 L191.8,529.7 L189.0,530.1 L184.5,530.3Z" fill="none" stroke="#111" stroke-width="0.5" stroke-opacity="0.76"/>
<path d="M187.0,530.0 L178.2,530.1 L171.0,529.8 L167.5,529.1 L166.6,528.5 L166.4,528.0 L166.6,527.5 L167.2,527.1 L169.2,526.5 L177.5,526.2 L190.0,526.3 L192.5,526.8 L193.6,527.8 L193.6,528.2 L193.2,528.7 L192.0,529.4 L190.0,529.8 L187.0,530.0Z" fill="none" stroke="#111" stroke-width="0.5" stroke-opacity="0.78"/>
<path d="M188.2,529.8 L179.0,529.9 L171.5,529.7 L168.0,529.0 L167.1,528.5 L166.9,528.0 L167.6,527.2 L169.8,526.7 L177.5,526.3 L189.5,526.4 L192.0,526.9 L193.0,527.8 L192.9,528.5 L192.0,529.1 L190.5,529.5 L188.2,529.8Z" fill="none" stroke="#111" stroke-width="0.5" stroke-opacity="0.81"/>
<path d="M180.5,529.8 L170.5,529.4 L168.1,528.8 L167.5,528.0 L168.3,527.2 L170.5,526.7 L179.8,526.5 L189.8,526.7 L191.8,527.2 L192.3,527.5 L192.5,528.0 L192.3,528.5 L191.8,528.9 L189.8,529.4 L180.5,529.8Z" fill="none" stroke="#111" stroke-width="0.5" stroke-opacity="0.83"/>
<path d="M184.5,529.5 L178.0,529.6 L171.8,529.3 L169.0,528.8 L168.4,528.5 L168.1,528.0 L169.1,527.2 L171.0,526.9 L179.8,526.6 L189.2,526.8 L191.2,527.2 L192.0,528.0 L191.3,528.8 L190.0,529.2 L184.5,529.5Z" fill="none" stroke="#111" stroke-width="0.5" stroke-opacity="0.86"/>
<path d="M187.2,529.3 L179.5,529.4 L172.8,529.2 L169.7,528.8 L169.1,528.5 L168.7,528.0 L169.5,527.4 L171.5,527.0 L179.8,526.8 L189.0,527.0 L190.8,527.4 L191.4,528.0 L191.0,528.5 L190.2,528.8 L187.2,529.3Z" fill="none" stroke="#111" stroke-width="0.5" stroke-opacity="0.88"/>
<path d="M188.0,529.0 L180.0,529.2 L173.5,529.1 L170.7,528.8 L169.9,528.5 L169.5,528.0 L170.1,527.5 L171.8,527.2 L179.5,526.9 L188.5,527.1 L190.2,527.5 L190.7,528.0 L190.0,528.6 L188.0,529.0Z" fill="none" stroke="#111" stroke-width="0.5" stroke-opacity="0.91"/>
<path d="M182.2,529.0 L172.8,528.8 L171.0,528.5 L170.3,528.0 L171.0,527.6 L172.5,527.3 L179.5,527.1 L187.8,527.3 L189.1,527.5 L189.9,528.0 L189.3,528.5 L188.1,528.8 L182.2,529.0Z" fill="none" stroke="#111" stroke-width="0.5" stroke-opacity="0.93"/>
<path d="M183.0,528.8 L174.5,528.7 L172.5,528.5 L171.5,528.0 L173.5,527.5 L179.5,527.3 L186.8,527.5 L188.4,527.8 L188.7,528.0 L188.6,528.2 L187.5,528.5 L183.0,528.8Z" fill="none" stroke="#111" stroke-width="0.5" stroke-opacity="0.96"/>
<path d="M182.0,528.5 L176.8,528.5 L174.1,528.2 L173.6,528.0 L174.9,527.8 L179.5,527.6 L185.6,528.0 L185.0,528.2 L182.0,528.5Z" fill="none" stroke="#111" stroke-width="0.5" stroke-opacity="0.98"/>
<rect x="294.10" y="473.50" width="27.90" height="41.70" fill="#b0b0cd" stroke="none" stroke-width="1" />
<rect x="294.10" y="515.20" width="27.90" height="27.80" fill="#f4b1b5" stroke="none" stroke-width="1" />
<rect x="252.80" y="473.50" width="69.20" height="69.50" fill="none" stroke="#8a8a8a" stroke-width="0.9" />
<line x1="252.80" y1="515.20" x2="294.10" y2="515.20" stroke="#555" stroke-width="0.9" />
<line x1="294.10" y1="515.20" x2="322.00" y2="515.20" stroke="#555" stroke-width="0.9" />
<line x1="294.10" y1="473.50" x2="294.10" y2="543.00" stroke="#555" stroke-width="0.9" />
<text x="285.70" y="467.80" font-size="9.1" fill="#111" text-anchor="middle" font-weight="normal" textLength="24.60" lengthAdjust="spacingAndGlyphs" stroke="#111" stroke-width="0.14" >ACK2</text>
<line x1="251.20" y1="479.60" x2="252.80" y2="479.60" stroke="#666" stroke-width="0.7" />
<text x="251.00" y="481.70" font-size="6.3" fill="#333" text-anchor="end" font-weight="normal" stroke="#333" stroke-width="0.1" >10<tspan font-size="3.8" dy="-2.4">5</tspan></text>
<line x1="251.20" y1="494.30" x2="252.80" y2="494.30" stroke="#666" stroke-width="0.7" />
<text x="251.00" y="496.40" font-size="6.3" fill="#333" text-anchor="end" font-weight="normal" stroke="#333" stroke-width="0.1" >10<tspan font-size="3.8" dy="-2.4">4</tspan></text>
<line x1="251.20" y1="508.40" x2="252.80" y2="508.40" stroke="#666" stroke-width="0.7" />
<text x="251.00" y="510.50" font-size="6.3" fill="#333" text-anchor="end" font-weight="normal" stroke="#333" stroke-width="0.1" >10<tspan font-size="3.8" dy="-2.4">3</tspan></text>
<line x1="251.20" y1="528.30" x2="252.80" y2="528.30" stroke="#666" stroke-width="0.7" />
<text x="251.00" y="530.40" font-size="6.3" fill="#333" text-anchor="end" font-weight="normal" stroke="#333" stroke-width="0.1" >0</text>
<line x1="261.60" y1="543.00" x2="261.60" y2="544.30" stroke="#888" stroke-width="0.6" />
<line x1="267.30" y1="543.00" x2="267.30" y2="544.30" stroke="#888" stroke-width="0.6" />
<line x1="282.80" y1="543.00" x2="282.80" y2="544.30" stroke="#888" stroke-width="0.6" />
<line x1="299.30" y1="543.00" x2="299.30" y2="544.30" stroke="#888" stroke-width="0.6" />
<line x1="314.80" y1="543.00" x2="314.80" y2="544.30" stroke="#888" stroke-width="0.6" />
<text x="261.60" y="551.70" font-size="6.3" fill="#333" text-anchor="middle" font-weight="normal" stroke="#333" stroke-width="0.1" >0</text>
<text x="263.40" y="551.70" font-size="6.3" fill="#333" text-anchor="start" font-weight="normal" stroke="#333" stroke-width="0.1" >10<tspan font-size="3.8" dy="-2.4">2</tspan></text>
<text x="280.50" y="551.70" font-size="6.3" fill="#333" text-anchor="start" font-weight="normal" stroke="#333" stroke-width="0.1" >10<tspan font-size="3.8" dy="-2.4">3</tspan></text>
<text x="296.50" y="551.70" font-size="6.3" fill="#333" text-anchor="start" font-weight="normal" stroke="#333" stroke-width="0.1" >10<tspan font-size="3.8" dy="-2.4">4</tspan></text>
<text x="311.90" y="551.70" font-size="6.3" fill="#333" text-anchor="start" font-weight="normal" stroke="#333" stroke-width="0.1" >10<tspan font-size="3.8" dy="-2.4">5</tspan></text>
<text x="256.30" y="481.40" font-size="6.4" fill="#222" text-anchor="start" font-weight="normal" stroke="#222" stroke-width="0.1" >0.263</text>
<rect x="301.00" y="475.20" width="20.60" height="7.80" fill="#fff" stroke="none" stroke-width="1" />
<text x="311.30" y="481.40" font-size="6.4" fill="#17528f" text-anchor="middle" font-weight="normal" stroke="#17528f" stroke-width="0.1" >0.482</text>
<text x="256.00" y="541.00" font-size="6.4" fill="#222" text-anchor="start" font-weight="normal" stroke="#222" stroke-width="0.1" >90.7</text>
<rect x="302.00" y="535.70" width="19.60" height="7.00" fill="#fff" stroke="none" stroke-width="1" />
<text x="311.80" y="541.00" font-size="6.4" fill="#cc1236" text-anchor="middle" font-weight="normal" stroke="#cc1236" stroke-width="0.1" >8.59</text>
<path d="M289.2,538.5 L285.2,538.5 L281.0,537.9 L277.2,537.1 L273.5,535.9 L270.8,534.6 L266.6,532.2 L261.2,529.8 L260.3,529.0 L259.8,528.2 L259.7,527.5 L259.9,526.8 L261.0,525.5 L262.8,524.6 L265.5,523.9 L268.2,523.6 L282.5,523.0 L295.8,523.0 L298.0,523.3 L299.8,524.1 L300.7,525.0 L301.3,526.0 L301.7,527.2 L301.8,528.5 L301.1,531.0 L299.2,533.9 L297.5,536.0 L295.5,537.2 L292.8,538.1 L289.2,538.5Z" fill="none" stroke="#111" stroke-width="0.5" stroke-opacity="0.61"/>
<path d="M288.2,535.8 L286.0,536.0 L283.2,535.9 L277.8,534.7 L270.2,531.8 L263.8,529.7 L262.2,528.5 L261.8,527.2 L262.2,526.5 L263.2,525.8 L266.2,524.8 L281.8,523.9 L290.2,523.9 L293.0,524.1 L296.8,524.8 L298.0,525.4 L298.8,526.0 L299.4,527.0 L299.6,528.2 L299.3,529.5 L298.4,530.8 L297.0,531.7 L293.3,533.2 L290.6,535.0 L288.2,535.8Z" fill="none" stroke="#111" stroke-width="0.5" stroke-opacity="0.64"/>
<path d="M285.0,534.0 L282.8,534.0 L280.0,533.6 L266.0,529.8 L263.7,528.8 L263.1,528.0 L263.1,527.2 L263.6,526.5 L264.3,526.0 L267.2,525.2 L283.2,524.3 L290.2,524.3 L293.0,524.6 L296.2,525.6 L297.3,526.2 L297.9,527.0 L298.2,528.0 L298.0,529.0 L297.3,530.0 L296.2,530.7 L293.2,531.9 L285.0,534.0Z" fill="none" stroke="#111" stroke-width="0.5" stroke-opacity="0.66"/>
<path d="M285.5,532.5 L281.0,532.6 L273.8,531.3 L265.8,529.2 L264.3,528.2 L264.0,527.2 L264.5,526.6 L265.5,526.1 L268.2,525.5 L281.8,524.7 L289.5,524.7 L292.0,524.8 L294.2,525.4 L296.1,526.2 L297.0,527.2 L297.2,528.0 L296.9,529.0 L296.0,530.0 L294.8,530.7 L291.8,531.7 L285.5,532.5Z" fill="none" stroke="#111" stroke-width="0.5" stroke-opacity="0.69"/>
<path d="M286.2,531.8 L281.5,531.9 L274.8,531.1 L266.5,529.0 L265.2,528.2 L264.9,527.5 L265.1,527.0 L265.8,526.5 L268.5,525.8 L281.5,525.0 L289.5,525.0 L292.0,525.2 L294.0,525.7 L295.5,526.5 L296.3,527.5 L296.3,528.5 L295.9,529.2 L294.0,530.5 L291.0,531.4 L286.2,531.8Z" fill="none" stroke="#111" stroke-width="0.5" stroke-opacity="0.71"/>
<path d="M287.5,531.3 L282.0,531.5 L275.5,530.8 L267.2,528.8 L266.1,528.2 L265.7,527.5 L266.0,527.0 L266.8,526.6 L269.0,526.1 L281.5,525.3 L289.5,525.2 L291.8,525.4 L293.5,525.8 L294.8,526.5 L295.6,527.5 L295.7,528.2 L295.4,529.0 L293.8,530.2 L291.2,531.0 L287.5,531.3Z" fill="none" stroke="#111" stroke-width="0.5" stroke-opacity="0.73"/>
<path d="M286.0,531.0 L281.5,531.1 L275.0,530.4 L268.0,528.6 L266.8,528.0 L266.6,527.5 L267.1,527.0 L268.5,526.5 L274.8,525.9 L282.2,525.5 L289.5,525.5 L291.5,525.6 L293.0,526.0 L294.2,526.6 L295.0,527.5 L295.1,528.2 L294.8,529.0 L293.0,530.2 L290.5,530.8 L286.0,531.0Z" fill="none" stroke="#111" stroke-width="0.5" stroke-opacity="0.76"/>
<path d="M285.2,530.8 L281.2,530.8 L275.0,530.1 L269.1,528.5 L268.0,528.0 L267.8,527.5 L268.5,527.0 L269.5,526.8 L275.8,526.1 L282.5,525.7 L289.8,525.7 L291.5,525.8 L293.0,526.3 L294.2,527.0 L294.6,527.8 L294.6,528.5 L294.2,529.0 L293.5,529.6 L292.2,530.2 L290.0,530.6 L285.2,530.8Z" fill="none" stroke="#111" stroke-width="0.5" stroke-opacity="0.78"/>
<path d="M285.0,530.5 L281.2,530.5 L275.5,529.9 L271.3,528.8 L269.3,527.8 L269.5,527.4 L270.5,527.1 L275.8,526.3 L282.5,525.9 L289.5,525.9 L292.5,526.3 L293.7,527.0 L294.2,527.8 L294.1,528.5 L293.8,529.0 L292.0,530.0 L290.0,530.3 L285.0,530.5Z" fill="none" stroke="#111" stroke-width="0.5" stroke-opacity="0.81"/>
<path d="M285.0,530.3 L281.2,530.3 L275.8,529.7 L272.4,528.8 L271.4,528.2 L271.1,527.8 L272.9,527.0 L276.2,526.5 L282.5,526.1 L289.5,526.1 L292.3,526.5 L293.2,527.0 L293.7,527.8 L293.7,528.5 L293.3,529.0 L291.8,529.8 L290.0,530.1 L285.0,530.3Z" fill="none" stroke="#111" stroke-width="0.5" stroke-opacity="0.83"/>
<path d="M285.2,530.0 L281.8,530.0 L276.2,529.5 L273.5,528.8 L272.5,528.0 L272.8,527.5 L275.0,526.9 L283.0,526.3 L290.8,526.4 L292.5,526.9 L293.3,527.8 L293.1,528.8 L291.5,529.6 L289.8,529.9 L285.2,530.0Z" fill="none" stroke="#111" stroke-width="0.5" stroke-opacity="0.86"/>
<path d="M285.5,529.8 L281.8,529.8 L276.8,529.3 L274.6,528.8 L273.6,528.0 L274.2,527.5 L276.0,527.0 L283.0,526.5 L290.5,526.5 L292.1,527.0 L292.9,527.8 L292.9,528.2 L292.6,528.8 L291.2,529.5 L285.5,529.8Z" fill="none" stroke="#111" stroke-width="0.5" stroke-opacity="0.88"/>
<path d="M285.8,529.5 L282.2,529.6 L278.0,529.2 L275.8,528.8 L275.2,528.5 L274.8,528.0 L275.5,527.5 L276.7,527.2 L283.5,526.7 L290.5,526.8 L292.0,527.2 L292.5,528.0 L292.1,528.8 L290.8,529.3 L285.8,529.5Z" fill="none" stroke="#111" stroke-width="0.5" stroke-opacity="0.91"/>
<path d="M285.5,529.3 L282.5,529.4 L279.0,529.0 L276.6,528.5 L276.2,528.0 L277.8,527.5 L283.5,526.9 L290.2,527.0 L291.5,527.3 L292.0,528.0 L291.5,528.8 L290.5,529.1 L285.5,529.3Z" fill="none" stroke="#111" stroke-width="0.5" stroke-opacity="0.93"/>
<path d="M285.0,529.0 L281.0,528.9 L278.7,528.5 L278.2,528.2 L278.2,528.0 L279.9,527.5 L283.2,527.2 L290.0,527.2 L291.0,527.5 L291.5,528.0 L291.2,528.5 L290.2,528.9 L285.0,529.0Z" fill="none" stroke="#111" stroke-width="0.5" stroke-opacity="0.96"/>
<path d="M283.8,528.8 L281.0,528.5 L280.4,528.2 L280.5,528.0 L283.2,527.5 L286.8,527.8 L289.5,527.6 L290.6,528.0 L290.5,528.3 L289.8,528.5 L286.8,528.4 L283.8,528.8Z" fill="none" stroke="#111" stroke-width="0.5" stroke-opacity="0.98"/>
<rect x="193.90" y="570.40" width="28.10" height="41.90" fill="#b0b0cd" stroke="none" stroke-width="1" />
<rect x="193.90" y="612.30" width="28.10" height="27.70" fill="#f4b1b5" stroke="none" stroke-width="1" />
<rect x="152.80" y="570.40" width="69.20" height="69.60" fill="none" stroke="#8a8a8a" stroke-width="0.9" />
<line x1="152.80" y1="612.30" x2="193.90" y2="612.30" stroke="#555" stroke-width="0.9" />
<line x1="193.90" y1="612.30" x2="222.00" y2="612.30" stroke="#555" stroke-width="0.9" />
<line x1="193.90" y1="570.40" x2="193.90" y2="640.00" stroke="#555" stroke-width="0.9" />
<text x="182.85" y="565.70" font-size="9.1" fill="#111" text-anchor="middle" font-weight="normal" textLength="17.30" lengthAdjust="spacingAndGlyphs" stroke="#111" stroke-width="0.14" >AZA</text>
<line x1="151.20" y1="576.50" x2="152.80" y2="576.50" stroke="#666" stroke-width="0.7" />
<text x="151.00" y="578.60" font-size="6.3" fill="#333" text-anchor="end" font-weight="normal" stroke="#333" stroke-width="0.1" >10<tspan font-size="3.8" dy="-2.4">5</tspan></text>
<line x1="151.20" y1="591.20" x2="152.80" y2="591.20" stroke="#666" stroke-width="0.7" />
<text x="151.00" y="593.30" font-size="6.3" fill="#333" text-anchor="end" font-weight="normal" stroke="#333" stroke-width="0.1" >10<tspan font-size="3.8" dy="-2.4">4</tspan></text>
<line x1="151.20" y1="605.30" x2="152.80" y2="605.30" stroke="#666" stroke-width="0.7" />
<text x="151.00" y="607.40" font-size="6.3" fill="#333" text-anchor="end" font-weight="normal" stroke="#333" stroke-width="0.1" >10<tspan font-size="3.8" dy="-2.4">3</tspan></text>
<line x1="151.20" y1="625.20" x2="152.80" y2="625.20" stroke="#666" stroke-width="0.7" />
<text x="151.00" y="627.30" font-size="6.3" fill="#333" text-anchor="end" font-weight="normal" stroke="#333" stroke-width="0.1" >0</text>
<line x1="161.60" y1="640.00" x2="161.60" y2="641.30" stroke="#888" stroke-width="0.6" />
<line x1="167.30" y1="640.00" x2="167.30" y2="641.30" stroke="#888" stroke-width="0.6" />
<line x1="182.80" y1="640.00" x2="182.80" y2="641.30" stroke="#888" stroke-width="0.6" />
<line x1="199.30" y1="640.00" x2="199.30" y2="641.30" stroke="#888" stroke-width="0.6" />
<line x1="214.80" y1="640.00" x2="214.80" y2="641.30" stroke="#888" stroke-width="0.6" />
<text x="161.60" y="648.70" font-size="6.3" fill="#333" text-anchor="middle" font-weight="normal" stroke="#333" stroke-width="0.1" >0</text>
<text x="163.40" y="648.70" font-size="6.3" fill="#333" text-anchor="start" font-weight="normal" stroke="#333" stroke-width="0.1" >10<tspan font-size="3.8" dy="-2.4">2</tspan></text>
<text x="180.50" y="648.70" font-size="6.3" fill="#333" text-anchor="start" font-weight="normal" stroke="#333" stroke-width="0.1" >10<tspan font-size="3.8" dy="-2.4">3</tspan></text>
<text x="196.50" y="648.70" font-size="6.3" fill="#333" text-anchor="start" font-weight="normal" stroke="#333" stroke-width="0.1" >10<tspan font-size="3.8" dy="-2.4">4</tspan></text>
<text x="211.90" y="648.70" font-size="6.3" fill="#333" text-anchor="start" font-weight="normal" stroke="#333" stroke-width="0.1" >10<tspan font-size="3.8" dy="-2.4">5</tspan></text>
<text x="156.30" y="578.30" font-size="6.4" fill="#222" text-anchor="start" font-weight="normal" stroke="#222" stroke-width="0.1" >1.72</text>
<rect x="201.00" y="572.10" width="20.60" height="7.80" fill="#fff" stroke="none" stroke-width="1" />
<text x="211.30" y="578.30" font-size="6.4" fill="#17528f" text-anchor="middle" font-weight="normal" stroke="#17528f" stroke-width="0.1" >7.22</text>
<text x="156.00" y="638.00" font-size="6.4" fill="#222" text-anchor="start" font-weight="normal" stroke="#222" stroke-width="0.1" >64.1</text>
<rect x="202.00" y="632.70" width="19.60" height="7.00" fill="#fff" stroke="none" stroke-width="1" />
<text x="211.80" y="638.00" font-size="6.4" fill="#cc1236" text-anchor="middle" font-weight="normal" stroke="#cc1236" stroke-width="0.1" >27</text>
<path d="M182.5,635.5 L175.0,635.7 L169.5,635.4 L166.2,635.0 L164.0,634.2 L162.8,633.4 L161.6,632.2 L160.7,631.0 L160.2,629.8 L160.0,627.0 L160.9,624.0 L161.9,622.5 L163.2,621.3 L165.0,620.3 L167.0,619.6 L180.2,616.7 L192.0,615.1 L195.0,614.4 L196.2,613.7 L197.2,612.8 L197.9,611.5 L198.2,610.5 L198.1,609.8 L197.1,608.5 L191.8,604.1 L190.6,602.8 L190.1,601.5 L190.0,600.5 L190.4,599.8 L191.2,599.2 L193.2,599.1 L197.2,600.3 L203.2,599.6 L209.0,599.6 L212.2,600.4 L214.4,601.8 L215.4,603.2 L215.9,605.0 L215.7,606.5 L215.0,607.8 L213.8,608.7 L212.2,609.4 L206.2,610.6 L205.4,611.0 L204.9,611.5 L204.7,612.5 L205.4,618.2 L205.1,622.5 L203.7,627.0 L202.6,629.0 L201.5,630.4 L199.2,632.2 L196.5,633.4 L182.5,635.5Z" fill="none" stroke="#111" stroke-width="0.5" stroke-opacity="0.61"/>
<path d="M206.5,608.3 L203.0,608.3 L200.8,607.6 L199.5,606.7 L198.5,605.5 L198.2,604.5 L198.4,603.8 L199.1,603.0 L200.8,602.2 L205.2,601.2 L209.0,601.1 L210.5,601.5 L211.5,602.0 L212.1,602.8 L212.3,603.8 L212.1,605.0 L211.5,606.2 L210.7,607.0 L209.5,607.6 L206.5,608.3Z" fill="none" stroke="#111" stroke-width="0.5" stroke-opacity="0.64"/>
<path d="M181.2,634.0 L172.8,634.0 L167.5,633.5 L165.2,632.8 L163.4,631.5 L162.2,629.8 L161.8,627.5 L162.4,625.2 L163.1,624.0 L164.2,622.9 L165.8,622.0 L167.5,621.4 L175.6,619.8 L180.8,618.4 L187.8,617.2 L191.5,616.8 L196.7,616.0 L197.9,615.5 L200.5,613.7 L201.2,613.7 L202.1,614.2 L202.9,615.5 L203.4,617.2 L203.5,619.5 L203.3,621.8 L202.8,624.0 L202.0,626.0 L200.8,628.0 L199.5,629.5 L197.8,630.8 L195.8,631.7 L191.5,632.1 L184.2,633.6 L181.2,634.0Z" fill="none" stroke="#111" stroke-width="0.5" stroke-opacity="0.64"/>
<path d="M206.0,606.5 L204.2,606.5 L202.8,606.1 L201.8,605.2 L201.8,604.5 L202.8,603.5 L205.8,602.5 L208.0,602.3 L209.5,602.8 L209.8,603.2 L209.8,603.8 L209.0,605.1 L207.8,606.0 L206.0,606.5Z" fill="none" stroke="#111" stroke-width="0.5" stroke-opacity="0.66"/>
<path d="M181.8,633.0 L174.0,633.1 L168.5,632.6 L166.2,632.1 L164.5,631.1 L163.5,629.8 L163.0,628.0 L163.3,626.0 L164.0,624.7 L165.2,623.5 L166.8,622.8 L168.8,622.2 L175.8,620.8 L180.5,619.4 L187.8,618.0 L194.5,617.3 L197.8,617.2 L200.2,616.6 L201.3,617.0 L201.8,618.0 L202.1,619.5 L202.1,621.2 L201.7,623.2 L200.1,627.0 L198.0,629.5 L196.8,630.3 L195.2,630.8 L191.2,631.2 L181.8,633.0Z" fill="none" stroke="#111" stroke-width="0.5" stroke-opacity="0.66"/>
<path d="M181.2,632.3 L174.2,632.4 L167.0,631.5 L165.5,630.7 L164.4,629.5 L163.9,628.0 L164.1,626.5 L165.2,624.6 L167.5,623.4 L175.5,621.7 L180.2,620.2 L187.5,618.7 L195.5,618.0 L199.0,618.6 L199.8,618.9 L200.3,619.5 L200.7,620.5 L200.8,621.8 L200.3,624.8 L198.9,627.5 L197.2,629.2 L195.0,630.1 L191.2,630.5 L181.2,632.3Z" fill="none" stroke="#111" stroke-width="0.5" stroke-opacity="0.69"/>
<path d="M181.5,631.5 L174.2,631.7 L167.5,630.8 L166.2,630.2 L165.2,629.2 L164.8,628.0 L164.9,626.8 L165.8,625.2 L167.8,624.1 L175.8,622.4 L180.2,620.9 L184.0,620.2 L187.8,619.2 L195.5,618.6 L197.8,619.2 L199.3,620.5 L199.8,622.5 L199.5,625.0 L198.4,627.2 L196.8,628.8 L194.8,629.6 L186.0,630.6 L181.5,631.5Z" fill="none" stroke="#111" stroke-width="0.5" stroke-opacity="0.71"/>
<path d="M178.2,631.0 L173.8,631.0 L167.8,630.1 L166.8,629.6 L166.0,628.9 L165.7,628.0 L165.7,627.0 L166.5,625.7 L168.2,624.8 L175.8,623.1 L180.2,621.5 L184.0,620.7 L188.0,619.6 L195.5,619.1 L197.5,619.9 L198.7,621.2 L199.2,623.2 L198.7,625.5 L197.6,627.5 L196.0,628.7 L194.5,629.1 L185.2,630.0 L181.5,630.8 L178.2,631.0Z" fill="none" stroke="#111" stroke-width="0.5" stroke-opacity="0.73"/>
<path d="M180.5,630.3 L174.0,630.3 L169.0,629.6 L167.2,628.8 L166.8,628.0 L166.7,627.2 L167.4,626.2 L168.8,625.6 L175.8,623.8 L180.3,622.0 L184.2,621.2 L188.0,620.0 L195.2,619.5 L197.0,620.2 L198.2,621.5 L198.6,623.2 L198.3,625.2 L197.4,627.0 L196.0,628.2 L194.5,628.7 L188.8,629.3 L185.2,629.5 L180.5,630.3Z" fill="none" stroke="#111" stroke-width="0.5" stroke-opacity="0.76"/>
<path d="M181.5,629.5 L173.0,629.3 L169.5,628.4 L168.8,628.0 L168.6,627.5 L168.9,627.0 L169.7,626.5 L176.2,624.5 L180.2,622.6 L184.2,621.6 L188.0,620.4 L195.2,620.0 L196.8,620.6 L197.8,622.0 L198.2,623.5 L197.9,625.2 L197.0,626.9 L195.8,627.9 L194.5,628.2 L189.2,628.9 L185.0,628.9 L181.5,629.5Z" fill="none" stroke="#111" stroke-width="0.5" stroke-opacity="0.78"/>
<path d="M182.2,628.8 L180.0,628.8 L174.8,627.9 L174.0,627.8 L173.5,627.2 L173.9,626.8 L176.2,625.7 L180.0,623.2 L184.2,622.1 L188.0,620.8 L195.0,620.4 L196.5,621.0 L197.4,622.2 L197.7,623.8 L197.5,625.2 L196.8,626.6 L195.5,627.5 L189.0,628.5 L185.0,628.4 L182.2,628.8Z" fill="none" stroke="#111" stroke-width="0.5" stroke-opacity="0.81"/>
<path d="M190.0,628.0 L188.0,628.2 L184.8,627.9 L180.5,628.1 L178.5,627.3 L178.0,626.2 L178.7,625.0 L180.3,623.8 L184.2,622.6 L187.8,621.2 L194.5,620.7 L195.6,621.0 L196.5,621.6 L197.2,622.8 L197.3,624.0 L197.0,625.5 L196.2,626.5 L194.8,627.4 L190.0,628.0Z" fill="none" stroke="#111" stroke-width="0.5" stroke-opacity="0.83"/>
<path d="M189.5,627.8 L187.8,627.8 L184.5,627.3 L181.0,627.3 L179.8,626.8 L179.5,625.8 L179.9,625.0 L180.9,624.2 L184.2,623.2 L188.0,621.5 L194.5,621.2 L195.5,621.4 L196.3,622.0 L196.8,623.0 L196.9,624.2 L196.5,625.5 L195.8,626.5 L194.5,627.0 L189.5,627.8Z" fill="none" stroke="#111" stroke-width="0.5" stroke-opacity="0.86"/>
<path d="M190.0,627.3 L187.8,627.4 L184.5,626.6 L182.0,626.4 L181.3,626.0 L181.2,625.5 L182.0,624.8 L183.8,624.2 L186.8,622.3 L188.2,621.8 L194.5,621.6 L195.2,621.8 L196.0,622.4 L196.5,623.2 L196.5,624.2 L196.2,625.2 L195.5,626.1 L194.5,626.6 L190.0,627.3Z" fill="none" stroke="#111" stroke-width="0.5" stroke-opacity="0.88"/>
<path d="M189.5,627.0 L187.8,627.0 L186.2,626.5 L184.8,625.5 L184.8,624.8 L186.4,623.0 L188.5,622.1 L192.0,622.2 L194.2,622.0 L195.1,622.2 L195.8,622.8 L196.0,623.5 L196.0,624.5 L195.2,625.8 L194.2,626.2 L192.0,626.4 L189.5,627.0Z" fill="none" stroke="#111" stroke-width="0.5" stroke-opacity="0.91"/>
<path d="M189.8,626.6 L188.0,626.6 L186.5,626.0 L185.8,625.0 L186.1,624.0 L187.5,622.8 L189.0,622.4 L192.0,622.7 L194.2,622.6 L195.3,623.2 L195.5,624.5 L194.8,625.4 L192.0,625.9 L189.8,626.6Z" fill="none" stroke="#111" stroke-width="0.5" stroke-opacity="0.93"/>
<path d="M190.0,626.0 L188.5,626.2 L187.2,625.8 L186.6,625.0 L186.9,624.0 L187.8,623.2 L189.0,622.9 L192.0,623.5 L194.0,623.3 L194.6,623.8 L194.7,624.2 L194.2,624.8 L192.0,625.2 L190.0,626.0Z" fill="none" stroke="#111" stroke-width="0.5" stroke-opacity="0.96"/>
<path d="M189.5,625.6 L188.5,625.6 L187.8,625.3 L187.5,624.8 L187.8,624.0 L189.0,623.5 L189.8,623.5 L190.6,624.0 L190.7,624.8 L189.5,625.6Z" fill="none" stroke="#111" stroke-width="0.5" stroke-opacity="0.98"/>
<rect x="294.10" y="570.50" width="28.10" height="41.50" fill="#b0b0cd" stroke="none" stroke-width="1" />
<rect x="294.10" y="612.00" width="28.10" height="28.00" fill="#f4b1b5" stroke="none" stroke-width="1" />
<rect x="252.80" y="570.50" width="69.40" height="69.50" fill="none" stroke="#8a8a8a" stroke-width="0.9" />
<line x1="252.80" y1="612.00" x2="294.10" y2="612.00" stroke="#c8c8c8" stroke-width="0.9" />
<line x1="294.10" y1="612.00" x2="322.20" y2="612.00" stroke="#555" stroke-width="0.9" />
<line x1="294.10" y1="570.50" x2="294.10" y2="640.00" stroke="#555" stroke-width="0.9" />
<text x="284.25" y="565.90" font-size="9.1" fill="#111" text-anchor="middle" font-weight="normal" textLength="50.10" lengthAdjust="spacingAndGlyphs" stroke="#111" stroke-width="0.14" >ACK2+AZA</text>
<line x1="251.20" y1="576.60" x2="252.80" y2="576.60" stroke="#666" stroke-width="0.7" />
<text x="251.00" y="578.70" font-size="6.3" fill="#333" text-anchor="end" font-weight="normal" stroke="#333" stroke-width="0.1" >10<tspan font-size="3.8" dy="-2.4">5</tspan></text>
<line x1="251.20" y1="591.30" x2="252.80" y2="591.30" stroke="#666" stroke-width="0.7" />
<text x="251.00" y="593.40" font-size="6.3" fill="#333" text-anchor="end" font-weight="normal" stroke="#333" stroke-width="0.1" >10<tspan font-size="3.8" dy="-2.4">4</tspan></text>
<line x1="251.20" y1="605.40" x2="252.80" y2="605.40" stroke="#666" stroke-width="0.7" />
<text x="251.00" y="607.50" font-size="6.3" fill="#333" text-anchor="end" font-weight="normal" stroke="#333" stroke-width="0.1" >10<tspan font-size="3.8" dy="-2.4">3</tspan></text>
<line x1="251.20" y1="625.30" x2="252.80" y2="625.30" stroke="#666" stroke-width="0.7" />
<text x="251.00" y="627.40" font-size="6.3" fill="#333" text-anchor="end" font-weight="normal" stroke="#333" stroke-width="0.1" >0</text>
<line x1="261.60" y1="640.00" x2="261.60" y2="641.30" stroke="#888" stroke-width="0.6" />
<line x1="267.30" y1="640.00" x2="267.30" y2="641.30" stroke="#888" stroke-width="0.6" />
<line x1="282.80" y1="640.00" x2="282.80" y2="641.30" stroke="#888" stroke-width="0.6" />
<line x1="299.30" y1="640.00" x2="299.30" y2="641.30" stroke="#888" stroke-width="0.6" />
<line x1="314.80" y1="640.00" x2="314.80" y2="641.30" stroke="#888" stroke-width="0.6" />
<text x="261.60" y="648.70" font-size="6.3" fill="#333" text-anchor="middle" font-weight="normal" stroke="#333" stroke-width="0.1" >0</text>
<text x="263.40" y="648.70" font-size="6.3" fill="#333" text-anchor="start" font-weight="normal" stroke="#333" stroke-width="0.1" >10<tspan font-size="3.8" dy="-2.4">2</tspan></text>
<text x="280.50" y="648.70" font-size="6.3" fill="#333" text-anchor="start" font-weight="normal" stroke="#333" stroke-width="0.1" >10<tspan font-size="3.8" dy="-2.4">3</tspan></text>
<text x="296.50" y="648.70" font-size="6.3" fill="#333" text-anchor="start" font-weight="normal" stroke="#333" stroke-width="0.1" >10<tspan font-size="3.8" dy="-2.4">4</tspan></text>
<text x="311.90" y="648.70" font-size="6.3" fill="#333" text-anchor="start" font-weight="normal" stroke="#333" stroke-width="0.1" >10<tspan font-size="3.8" dy="-2.4">5</tspan></text>
<text x="256.30" y="578.40" font-size="6.4" fill="#222" text-anchor="start" font-weight="normal" stroke="#222" stroke-width="0.1" >8.97</text>
<rect x="301.20" y="572.20" width="20.60" height="7.80" fill="#fff" stroke="none" stroke-width="1" />
<text x="311.50" y="578.40" font-size="6.4" fill="#17528f" text-anchor="middle" font-weight="normal" stroke="#17528f" stroke-width="0.1" >29.5</text>
<text x="256.00" y="638.00" font-size="6.4" fill="#222" text-anchor="start" font-weight="normal" stroke="#222" stroke-width="0.1" >42.3</text>
<rect x="302.20" y="632.70" width="19.60" height="7.00" fill="#fff" stroke="none" stroke-width="1" />
<text x="312.00" y="638.00" font-size="6.4" fill="#cc1236" text-anchor="middle" font-weight="normal" stroke="#cc1236" stroke-width="0.1" >19.2</text>
<path d="M287.5,634.0 L276.0,633.5 L266.5,632.2 L264.2,631.7 L261.8,630.5 L260.0,628.8 L259.2,626.8 L259.4,624.8 L260.1,623.5 L261.0,622.5 L262.2,621.6 L264.0,620.8 L266.5,620.3 L278.0,619.6 L279.2,619.2 L280.0,618.8 L282.4,615.2 L282.8,614.2 L282.5,613.5 L281.0,611.0 L280.5,609.5 L280.4,607.5 L281.1,605.2 L282.5,603.0 L284.5,600.8 L287.5,598.3 L290.2,596.6 L293.0,595.4 L295.8,594.6 L299.0,594.1 L303.5,593.8 L306.8,593.8 L309.2,594.1 L311.8,594.9 L313.5,595.8 L315.3,597.5 L316.3,599.5 L316.7,602.2 L316.3,605.2 L315.4,607.8 L313.8,609.8 L312.2,610.9 L309.0,612.3 L308.1,613.0 L308.0,614.0 L308.7,617.5 L308.6,620.0 L306.6,626.2 L305.1,629.2 L303.2,631.3 L300.8,632.6 L287.5,634.0Z" fill="none" stroke="#111" stroke-width="0.5" stroke-opacity="0.61"/>
<path d="M289.2,632.3 L286.2,632.2 L272.2,630.9 L267.5,630.9 L265.2,630.6 L263.2,629.8 L261.7,628.5 L260.9,627.0 L260.9,625.2 L261.4,624.0 L262.4,623.0 L263.8,622.1 L265.2,621.6 L274.2,620.8 L278.8,620.8 L280.2,620.5 L281.5,619.7 L283.8,617.1 L285.5,616.4 L286.8,616.3 L287.8,616.6 L291.5,619.1 L292.2,619.3 L293.0,619.2 L293.7,618.2 L294.7,615.2 L295.0,614.0 L294.8,613.5 L293.8,613.2 L289.2,613.3 L287.0,612.9 L284.8,611.8 L283.3,610.0 L282.8,608.5 L283.0,606.8 L283.7,605.0 L284.9,603.2 L287.5,600.6 L290.0,598.6 L292.8,597.1 L295.5,596.2 L299.5,595.7 L306.2,595.5 L309.2,595.9 L311.8,596.9 L313.3,598.2 L314.4,600.2 L314.8,603.0 L314.5,605.5 L313.4,607.8 L311.5,609.4 L309.2,610.1 L305.5,610.3 L304.7,610.5 L304.1,611.0 L304.0,611.5 L304.2,612.0 L305.8,614.0 L306.7,615.5 L307.2,617.0 L307.3,618.5 L307.1,620.0 L306.6,621.8 L303.8,627.0 L302.2,628.8 L300.5,629.8 L296.2,630.5 L292.0,631.8 L289.2,632.3Z" fill="none" stroke="#111" stroke-width="0.5" stroke-opacity="0.64"/>
<path d="M291.2,612.0 L288.5,612.0 L286.2,611.2 L284.7,609.8 L284.1,607.8 L284.6,605.8 L285.9,603.8 L288.8,600.7 L291.5,598.6 L294.2,597.4 L297.0,596.7 L306.0,596.3 L308.5,596.6 L310.2,597.2 L311.8,598.1 L312.9,599.5 L313.8,602.0 L313.8,604.8 L312.9,607.0 L311.2,608.5 L309.0,609.1 L305.0,608.7 L303.5,608.8 L297.5,610.6 L291.2,612.0Z" fill="none" stroke="#111" stroke-width="0.5" stroke-opacity="0.66"/>
<path d="M289.2,631.3 L286.8,631.2 L278.2,630.4 L271.8,630.0 L267.8,630.2 L265.8,630.0 L264.0,629.4 L262.5,628.2 L261.8,627.0 L261.7,625.5 L262.0,624.5 L262.8,623.6 L265.0,622.3 L266.5,622.0 L270.5,621.9 L274.2,621.4 L278.5,621.5 L280.3,621.2 L282.0,620.5 L284.2,618.2 L285.8,617.5 L286.8,617.5 L288.0,617.9 L291.5,620.2 L293.5,620.4 L294.3,619.8 L295.2,617.0 L296.0,615.2 L297.2,613.8 L298.5,612.9 L300.0,612.4 L301.5,612.4 L303.0,613.0 L304.5,614.0 L305.4,615.0 L306.1,616.2 L306.5,617.8 L306.5,619.2 L305.5,622.2 L302.8,626.2 L301.5,627.4 L300.2,628.1 L296.8,628.5 L292.5,630.6 L289.2,631.3Z" fill="none" stroke="#111" stroke-width="0.5" stroke-opacity="0.66"/>
<path d="M291.8,611.0 L289.0,611.1 L286.9,610.5 L286.0,609.8 L285.5,609.0 L285.2,607.2 L285.8,605.2 L287.5,603.0 L290.2,600.2 L292.8,598.6 L295.0,597.7 L297.5,597.2 L306.5,596.9 L308.5,597.2 L310.2,597.9 L311.7,599.0 L312.5,600.2 L313.2,602.5 L313.1,604.8 L312.2,606.7 L310.8,608.0 L308.8,608.4 L305.0,607.7 L302.8,607.8 L298.7,608.8 L291.8,611.0Z" fill="none" stroke="#111" stroke-width="0.5" stroke-opacity="0.69"/>
<path d="M290.5,630.3 L288.0,630.4 L271.8,629.5 L266.2,629.6 L264.5,629.1 L263.0,628.0 L262.3,626.8 L262.3,625.5 L262.7,624.5 L263.4,623.8 L265.5,622.7 L267.2,622.4 L270.8,622.4 L274.5,621.8 L278.8,621.9 L280.8,621.7 L282.5,621.1 L284.6,619.0 L286.0,618.4 L287.8,618.7 L291.2,620.9 L293.0,621.3 L294.2,621.3 L295.0,620.5 L295.5,618.0 L296.1,616.5 L297.0,615.2 L298.2,614.1 L299.8,613.5 L301.2,613.3 L302.8,613.7 L304.2,614.6 L305.6,616.5 L305.9,617.8 L305.9,619.0 L305.2,621.5 L303.2,624.2 L302.0,625.5 L300.8,626.4 L299.5,626.7 L296.8,626.8 L293.5,629.3 L290.5,630.3Z" fill="none" stroke="#111" stroke-width="0.5" stroke-opacity="0.69"/>
<path d="M291.8,610.3 L289.5,610.4 L287.5,609.8 L286.4,608.8 L286.1,607.0 L286.8,605.0 L289.2,602.0 L291.2,600.1 L293.5,598.7 L295.5,598.0 L297.8,597.6 L304.2,597.3 L306.8,597.3 L308.8,597.8 L310.2,598.5 L311.4,599.5 L312.2,600.8 L312.7,602.8 L312.6,604.8 L311.8,606.4 L310.5,607.4 L308.8,607.8 L304.8,607.0 L302.0,607.2 L298.0,608.0 L291.8,610.3Z" fill="none" stroke="#111" stroke-width="0.5" stroke-opacity="0.71"/>
<path d="M290.2,629.5 L286.8,629.2 L282.8,629.5 L278.8,629.2 L275.2,629.3 L271.5,629.0 L266.5,629.2 L265.0,628.8 L263.7,628.0 L262.9,627.0 L262.8,625.8 L263.5,624.2 L265.5,623.1 L267.2,622.8 L270.8,622.8 L274.5,622.2 L279.0,622.4 L281.2,622.1 L283.2,621.5 L285.0,619.8 L286.2,619.2 L287.8,619.5 L290.6,621.2 L295.2,622.2 L295.6,621.8 L295.8,619.0 L296.2,617.5 L297.0,616.0 L298.0,615.0 L299.5,614.2 L301.2,613.9 L302.8,614.3 L304.2,615.2 L305.3,617.0 L305.4,619.2 L304.6,621.5 L303.0,623.6 L301.5,624.8 L300.0,625.4 L298.8,625.4 L297.0,624.9 L296.5,625.0 L294.9,627.2 L293.8,628.4 L292.2,629.1 L290.2,629.5Z" fill="none" stroke="#111" stroke-width="0.5" stroke-opacity="0.71"/>
<path d="M291.8,609.6 L289.8,609.7 L288.0,609.2 L287.0,608.0 L287.0,606.5 L288.0,604.5 L290.1,601.8 L292.0,600.0 L294.0,598.9 L295.8,598.3 L298.0,598.0 L306.5,597.7 L308.2,598.1 L309.8,598.7 L310.9,599.8 L311.7,601.0 L312.2,602.8 L312.1,604.5 L311.4,606.0 L310.2,607.0 L308.8,607.3 L304.8,606.4 L301.5,606.6 L297.4,607.5 L291.8,609.6Z" fill="none" stroke="#111" stroke-width="0.5" stroke-opacity="0.73"/>
<path d="M300.0,624.5 L298.2,624.1 L296.9,623.0 L296.3,621.2 L296.3,618.8 L297.0,616.8 L298.2,615.4 L300.0,614.5 L301.8,614.5 L303.2,615.1 L304.4,616.2 L305.0,617.8 L305.0,619.2 L304.4,621.0 L303.2,622.6 L301.8,623.9 L300.0,624.5Z" fill="none" stroke="#111" stroke-width="0.5" stroke-opacity="0.73"/>
<path d="M291.0,628.8 L289.4,628.5 L287.2,627.4 L285.0,628.5 L283.0,628.9 L275.0,628.9 L271.2,628.6 L266.8,628.9 L265.2,628.6 L264.0,627.8 L263.3,626.8 L263.2,625.8 L263.5,625.0 L264.1,624.2 L266.0,623.3 L270.8,623.1 L274.8,622.5 L279.2,622.7 L281.8,622.5 L283.7,622.0 L285.8,620.3 L286.8,620.1 L287.8,620.4 L289.8,621.6 L293.5,622.5 L294.4,623.0 L295.0,623.8 L295.2,625.2 L294.4,627.0 L293.0,628.2 L291.0,628.8Z" fill="none" stroke="#111" stroke-width="0.5" stroke-opacity="0.73"/>
<path d="M291.0,609.0 L289.5,608.9 L288.2,608.3 L287.8,607.2 L287.9,606.0 L289.2,603.8 L291.2,601.2 L292.8,600.0 L294.8,599.0 L298.2,598.3 L304.5,598.0 L306.8,598.1 L308.5,598.6 L309.8,599.3 L310.8,600.2 L311.5,601.5 L311.8,603.2 L311.6,604.8 L310.8,606.0 L309.8,606.6 L308.2,606.7 L304.5,605.9 L301.5,606.1 L297.1,607.0 L291.0,609.0Z" fill="none" stroke="#111" stroke-width="0.5" stroke-opacity="0.76"/>
<path d="M300.2,623.8 L298.8,623.5 L297.5,622.5 L296.8,620.8 L296.7,618.8 L297.4,617.0 L298.4,615.8 L300.0,614.9 L301.5,614.8 L303.0,615.4 L304.0,616.3 L304.6,617.8 L304.6,619.2 L304.1,620.8 L303.0,622.3 L301.5,623.4 L300.2,623.8Z" fill="none" stroke="#111" stroke-width="0.5" stroke-opacity="0.76"/>
<path d="M276.5,628.5 L271.2,628.2 L268.0,628.6 L266.2,628.5 L265.2,628.2 L264.3,627.5 L263.8,626.8 L263.7,625.8 L263.9,625.0 L264.6,624.2 L266.5,623.5 L270.8,623.5 L274.8,622.8 L279.2,623.1 L283.2,622.8 L284.8,622.4 L286.0,621.5 L286.8,621.2 L289.0,622.2 L291.8,622.4 L293.0,622.8 L294.1,623.5 L294.6,624.5 L294.6,625.5 L294.0,626.8 L293.0,627.6 L292.0,628.0 L290.8,628.1 L289.8,627.7 L289.0,627.0 L287.8,625.2 L287.2,624.9 L286.5,625.3 L285.0,627.5 L283.8,628.2 L282.2,628.5 L276.5,628.5Z" fill="none" stroke="#111" stroke-width="0.5" stroke-opacity="0.76"/>
<path d="M291.0,608.3 L289.8,608.1 L288.9,607.5 L288.7,606.5 L289.1,605.0 L290.5,602.8 L292.0,601.0 L293.5,599.9 L295.5,599.1 L299.0,598.5 L304.8,598.3 L307.0,598.5 L308.5,599.0 L309.7,599.8 L310.6,600.8 L311.2,602.0 L311.4,603.5 L311.1,604.8 L310.5,605.6 L309.5,606.2 L308.2,606.2 L304.8,605.5 L301.5,605.7 L297.1,606.5 L291.0,608.3Z" fill="none" stroke="#111" stroke-width="0.5" stroke-opacity="0.78"/>
<path d="M301.0,623.0 L299.5,623.1 L298.2,622.4 L297.4,621.2 L297.1,619.5 L297.3,618.0 L298.2,616.5 L299.5,615.5 L301.0,615.2 L302.2,615.4 L303.5,616.2 L304.1,617.2 L304.4,618.5 L304.1,620.0 L303.4,621.2 L302.2,622.4 L301.0,623.0Z" fill="none" stroke="#111" stroke-width="0.5" stroke-opacity="0.78"/>
<path d="M292.0,627.5 L290.5,627.4 L289.5,626.5 L288.8,624.5 L288.8,623.8 L289.2,623.2 L290.2,622.9 L291.8,622.8 L293.0,623.2 L293.8,624.0 L294.2,625.0 L293.9,626.0 L293.1,627.0 L292.0,627.5Z" fill="none" stroke="#111" stroke-width="0.5" stroke-opacity="0.78"/>
<path d="M275.5,628.3 L271.2,627.9 L268.0,628.3 L266.2,628.2 L264.5,627.2 L264.1,626.5 L264.1,625.8 L264.8,624.6 L266.2,623.9 L270.8,623.8 L274.5,623.1 L279.2,623.4 L283.2,623.4 L284.5,623.7 L285.1,624.2 L285.2,625.2 L285.0,626.2 L284.5,627.0 L283.5,627.7 L282.0,628.0 L279.0,628.0 L275.5,628.3Z" fill="none" stroke="#111" stroke-width="0.5" stroke-opacity="0.78"/>
<path d="M292.2,607.3 L291.0,607.4 L290.0,607.0 L289.7,606.0 L290.1,604.5 L291.1,602.8 L292.3,601.2 L293.8,600.2 L295.8,599.3 L299.0,598.9 L304.5,598.6 L306.8,598.8 L308.2,599.2 L309.2,599.9 L310.1,600.8 L310.7,602.0 L310.9,603.2 L310.8,604.3 L310.1,605.2 L309.2,605.7 L308.2,605.8 L305.0,605.2 L302.0,605.3 L297.8,605.9 L292.2,607.3Z" fill="none" stroke="#111" stroke-width="0.5" stroke-opacity="0.81"/>
<path d="M301.0,622.5 L299.8,622.6 L298.5,622.0 L297.7,620.8 L297.4,619.2 L297.8,617.8 L298.5,616.6 L299.8,615.8 L301.0,615.5 L302.2,615.8 L303.2,616.5 L303.8,617.5 L304.0,618.5 L303.8,619.8 L303.1,621.0 L302.2,621.9 L301.0,622.5Z" fill="none" stroke="#111" stroke-width="0.5" stroke-opacity="0.81"/>
<path d="M292.0,627.0 L290.8,626.9 L289.8,625.8 L289.5,624.5 L289.8,623.9 L290.2,623.5 L292.0,623.3 L293.0,623.7 L293.5,624.3 L293.7,625.2 L293.4,626.0 L292.8,626.7 L292.0,627.0Z" fill="none" stroke="#111" stroke-width="0.5" stroke-opacity="0.81"/>
<path d="M268.0,628.0 L266.0,627.8 L264.8,627.0 L264.5,625.8 L265.1,624.8 L267.0,624.0 L270.8,624.1 L273.8,623.4 L275.5,623.3 L279.0,623.8 L283.0,623.9 L284.0,624.4 L284.4,625.2 L284.3,626.0 L283.8,626.8 L282.2,627.5 L275.2,628.0 L271.0,627.5 L268.0,628.0Z" fill="none" stroke="#111" stroke-width="0.5" stroke-opacity="0.81"/>
<path d="M294.0,606.3 L292.2,606.5 L291.2,606.2 L290.8,605.5 L291.0,604.0 L291.8,602.5 L293.0,601.1 L294.5,600.1 L296.2,599.5 L298.2,599.2 L303.8,599.0 L306.5,599.1 L307.8,599.5 L309.0,600.2 L309.8,601.0 L310.4,602.2 L310.5,603.2 L310.2,604.2 L309.8,604.9 L309.0,605.2 L305.0,604.8 L302.8,604.8 L299.5,605.2 L294.0,606.3Z" fill="none" stroke="#111" stroke-width="0.5" stroke-opacity="0.83"/>
<path d="M301.2,622.0 L300.0,622.2 L299.0,621.8 L298.1,620.8 L297.8,619.5 L297.9,618.2 L298.6,617.0 L299.6,616.2 L300.8,615.9 L301.8,616.0 L302.7,616.5 L303.3,617.2 L303.7,618.2 L303.5,619.5 L303.1,620.5 L302.2,621.4 L301.2,622.0Z" fill="none" stroke="#111" stroke-width="0.5" stroke-opacity="0.83"/>
<path d="M277.0,627.5 L274.8,627.7 L271.0,627.1 L267.0,627.7 L265.3,627.0 L265.0,626.5 L264.9,625.8 L265.5,624.9 L266.8,624.4 L270.8,624.5 L275.0,623.6 L279.2,624.2 L282.2,624.3 L283.2,624.8 L283.5,625.2 L283.4,626.2 L282.2,627.0 L277.0,627.5Z" fill="none" stroke="#111" stroke-width="0.5" stroke-opacity="0.83"/>
<path d="M292.0,626.5 L291.0,626.4 L290.3,625.5 L290.2,624.5 L291.0,623.8 L292.2,623.8 L293.1,624.8 L293.0,625.8 L292.0,626.5Z" fill="none" stroke="#111" stroke-width="0.5" stroke-opacity="0.83"/>
<path d="M295.8,605.5 L293.8,605.7 L292.5,605.6 L291.8,605.0 L291.7,604.0 L292.3,602.5 L293.3,601.2 L294.8,600.3 L296.5,599.7 L303.8,599.3 L306.2,599.4 L307.5,599.8 L308.8,600.5 L309.4,601.2 L309.9,602.2 L310.0,603.2 L309.8,604.0 L308.8,604.7 L302.8,604.5 L295.8,605.5Z" fill="none" stroke="#111" stroke-width="0.5" stroke-opacity="0.86"/>
<path d="M301.2,621.6 L300.2,621.7 L299.2,621.4 L298.5,620.6 L298.2,619.5 L298.3,618.2 L298.9,617.2 L299.8,616.5 L300.8,616.3 L301.8,616.4 L302.5,616.8 L303.1,617.5 L303.3,618.5 L303.2,619.5 L302.8,620.4 L301.2,621.6Z" fill="none" stroke="#111" stroke-width="0.5" stroke-opacity="0.86"/>
<path d="M276.5,627.3 L274.2,627.3 L271.0,626.6 L268.2,627.3 L267.0,627.4 L265.8,626.8 L265.4,626.0 L265.7,625.2 L266.8,624.7 L268.0,624.6 L270.8,625.0 L273.5,624.1 L275.0,623.8 L276.5,624.0 L279.2,624.6 L281.5,624.8 L282.1,625.0 L282.6,625.5 L282.5,626.0 L281.8,626.5 L279.2,626.7 L276.5,627.3Z" fill="none" stroke="#111" stroke-width="0.5" stroke-opacity="0.86"/>
<path d="M292.0,625.8 L291.5,625.8 L291.0,625.5 L290.9,625.0 L291.2,624.4 L292.0,624.4 L292.4,624.8 L292.5,625.3 L292.0,625.8Z" fill="none" stroke="#111" stroke-width="0.5" stroke-opacity="0.86"/>
<path d="M296.5,605.0 L294.5,605.2 L293.2,605.0 L292.6,604.5 L292.4,603.8 L292.8,602.5 L293.8,601.4 L295.1,600.5 L296.8,600.0 L303.8,599.6 L306.0,599.7 L307.2,600.0 L308.2,600.6 L309.0,601.4 L309.4,602.2 L309.2,603.5 L308.2,604.2 L302.5,604.1 L296.5,605.0Z" fill="none" stroke="#111" stroke-width="0.5" stroke-opacity="0.88"/>
<path d="M300.8,621.3 L300.0,621.2 L299.2,620.8 L298.7,620.0 L298.5,619.0 L298.8,618.0 L299.3,617.2 L300.2,616.8 L301.0,616.6 L301.8,616.8 L302.4,617.2 L302.9,618.0 L303.0,618.8 L302.8,619.7 L302.2,620.4 L300.8,621.3Z" fill="none" stroke="#111" stroke-width="0.5" stroke-opacity="0.88"/>
<path d="M276.0,627.0 L273.5,626.9 L272.1,626.2 L271.7,625.8 L272.7,624.8 L275.0,624.1 L277.2,624.5 L279.1,625.5 L279.1,625.8 L278.4,626.2 L276.0,627.0Z" fill="none" stroke="#111" stroke-width="0.5" stroke-opacity="0.88"/>
<path d="M267.8,627.0 L266.2,626.7 L265.9,626.0 L266.1,625.5 L266.8,625.1 L267.8,625.0 L269.0,625.2 L269.8,625.8 L269.8,626.0 L269.3,626.5 L267.8,627.0Z" fill="none" stroke="#111" stroke-width="0.5" stroke-opacity="0.88"/>
<path d="M297.2,604.5 L295.0,604.7 L293.8,604.4 L293.2,603.8 L293.4,602.5 L294.5,601.2 L296.5,600.3 L298.2,600.1 L304.0,599.9 L305.8,600.0 L307.2,600.5 L308.2,601.2 L308.7,602.2 L308.5,603.2 L307.8,603.6 L301.8,603.8 L297.2,604.5Z" fill="none" stroke="#111" stroke-width="0.5" stroke-opacity="0.91"/>
<path d="M301.0,620.8 L300.2,620.8 L299.6,620.5 L298.9,619.2 L299.0,618.5 L299.4,617.8 L300.0,617.2 L300.8,617.0 L302.0,617.4 L302.6,618.5 L302.2,619.8 L301.0,620.8Z" fill="none" stroke="#111" stroke-width="0.5" stroke-opacity="0.91"/>
<path d="M275.2,626.8 L273.5,626.4 L272.9,626.0 L272.8,625.5 L273.7,624.8 L275.2,624.5 L276.7,624.8 L277.6,625.5 L277.1,626.2 L275.2,626.8Z" fill="none" stroke="#111" stroke-width="0.5" stroke-opacity="0.91"/>
<path d="M268.0,626.4 L267.2,626.4 L266.8,626.0 L267.2,625.6 L268.0,625.6 L268.4,626.0 L268.0,626.4Z" fill="none" stroke="#111" stroke-width="0.5" stroke-opacity="0.91"/>
<path d="M296.2,604.3 L295.0,604.2 L294.2,603.9 L293.9,603.5 L293.9,602.8 L294.3,602.0 L295.0,601.3 L297.0,600.5 L305.2,600.4 L307.0,600.9 L307.9,602.0 L307.7,602.8 L307.0,603.1 L301.5,603.5 L296.2,604.3Z" fill="none" stroke="#111" stroke-width="0.5" stroke-opacity="0.93"/>
<path d="M301.0,620.3 L300.0,620.2 L299.4,619.2 L299.8,618.0 L300.8,617.5 L301.7,617.8 L302.1,618.5 L301.9,619.5 L301.0,620.3Z" fill="none" stroke="#111" stroke-width="0.5" stroke-opacity="0.93"/>
<path d="M275.5,626.3 L274.2,626.1 L273.8,625.5 L274.2,625.1 L275.0,624.9 L276.4,625.2 L276.5,625.8 L275.5,626.3Z" fill="none" stroke="#111" stroke-width="0.5" stroke-opacity="0.93"/>
<path d="M297.0,603.8 L295.2,603.6 L294.7,603.2 L294.6,602.8 L295.2,601.7 L297.0,600.9 L304.5,600.8 L305.8,601.0 L306.7,601.8 L306.5,602.2 L305.8,602.6 L301.0,603.0 L297.0,603.8Z" fill="none" stroke="#111" stroke-width="0.5" stroke-opacity="0.96"/>
<path d="M301.0,619.6 L300.3,619.5 L300.0,619.0 L300.2,618.4 L300.8,618.1 L301.3,618.2 L301.5,618.8 L301.0,619.6Z" fill="none" stroke="#111" stroke-width="0.5" stroke-opacity="0.96"/>
<path d="M298.5,603.0 L296.2,603.2 L295.8,603.0 L295.6,602.5 L296.2,601.8 L297.8,601.3 L300.2,601.5 L301.2,601.8 L301.4,602.0 L298.5,603.0Z" fill="none" stroke="#111" stroke-width="0.5" stroke-opacity="0.98"/>
<line x1="140.30" y1="651.60" x2="140.30" y2="615.00" stroke="#111" stroke-width="1.3" />
<polygon points="137.60,615.60 140.30,616.80 143.00,615.60 140.30,610.30" fill="#111" />
<line x1="139.70" y1="651.60" x2="174.00" y2="651.60" stroke="#111" stroke-width="1.3" />
<polygon points="173.60,648.90 174.80,651.60 173.60,654.30 178.90,651.60" fill="#111" />
<text x="128.60" y="638.60" font-size="9.4" fill="#111" text-anchor="start" font-weight="normal" stroke="#111" stroke-width="0.14" >PI</text>
<text x="159.55" y="665.20" font-size="9.3" fill="#111" text-anchor="middle" font-weight="normal" textLength="39.90" lengthAdjust="spacingAndGlyphs" stroke="#111" stroke-width="0.14" >Annexin V</text>
<rect x="343.6" y="442.2" width="2.2" height="7.9" fill="#111"/>
<text x="442.10" y="455.50" font-size="9.3" fill="#cc1236" text-anchor="middle" font-weight="normal" textLength="41.80" lengthAdjust="spacingAndGlyphs" stroke="#cc1236" stroke-width="0.14" >Apoptosis</text>
<line x1="389.70" y1="463.10" x2="389.70" y2="533.50" stroke="#2a2a2a" stroke-width="1.5" />
<line x1="389.00" y1="532.80" x2="494.60" y2="532.80" stroke="#2a2a2a" stroke-width="1.5" />
<line x1="387.10" y1="463.70" x2="389.70" y2="463.70" stroke="#2a2a2a" stroke-width="1.0" />
<text x="385.50" y="466.00" font-size="6.6" fill="#333" text-anchor="end" font-weight="normal" stroke="#333" stroke-width="0.1" >40</text>
<line x1="387.10" y1="480.97" x2="389.70" y2="480.97" stroke="#2a2a2a" stroke-width="1.0" />
<text x="385.50" y="483.27" font-size="6.6" fill="#333" text-anchor="end" font-weight="normal" stroke="#333" stroke-width="0.1" >30</text>
<line x1="387.10" y1="498.25" x2="389.70" y2="498.25" stroke="#2a2a2a" stroke-width="1.0" />
<text x="385.50" y="500.55" font-size="6.6" fill="#333" text-anchor="end" font-weight="normal" stroke="#333" stroke-width="0.1" >20</text>
<line x1="387.10" y1="515.52" x2="389.70" y2="515.52" stroke="#2a2a2a" stroke-width="1.0" />
<text x="385.50" y="517.82" font-size="6.6" fill="#333" text-anchor="end" font-weight="normal" stroke="#333" stroke-width="0.1" >10</text>
<line x1="387.10" y1="532.80" x2="389.70" y2="532.80" stroke="#2a2a2a" stroke-width="1.0" />
<text x="385.50" y="535.10" font-size="6.6" fill="#333" text-anchor="end" font-weight="normal" stroke="#333" stroke-width="0.1" >0</text>
<text x="0" y="0" font-size="8.4" fill="#111" stroke="#111" stroke-width="0.08" font-weight="bold" text-anchor="middle" transform="translate(374.20,499.30) rotate(-90)" textLength="64.00" lengthAdjust="spacingAndGlyphs">Annexin V + LSK (%)</text>
<rect x="398.65" y="530.20" width="14.70" height="2.60" fill="#fff" stroke="#1a1a1a" stroke-width="1.3" />
<line x1="406.00" y1="532.80" x2="406.00" y2="535.20" stroke="#2a2a2a" stroke-width="1.0" />
<line x1="406.00" y1="529.00" x2="406.00" y2="531.50" stroke="#1a1a1a" stroke-width="1.2" />
<line x1="403.00" y1="529.00" x2="409.00" y2="529.00" stroke="#1a1a1a" stroke-width="1.2" />
<line x1="403.00" y1="531.50" x2="409.00" y2="531.50" stroke="#1a1a1a" stroke-width="1.2" />
<circle cx="403.00" cy="531.20" r="1.4" fill="#1a1a1a"/>
<polygon points="404.32,530.90 407.68,530.90 406.00,527.82" fill="#1a1a1a" />
<rect x="407.60" y="529.60" width="2.80" height="2.80" fill="#1a1a1a" stroke="none" stroke-width="1" />
<rect x="422.65" y="511.50" width="14.70" height="21.30" fill="#fff" stroke="#3db54a" stroke-width="1.3" />
<line x1="430.00" y1="532.80" x2="430.00" y2="535.20" stroke="#2a2a2a" stroke-width="1.0" />
<line x1="430.00" y1="492.10" x2="430.00" y2="530.30" stroke="#3db54a" stroke-width="1.2" />
<line x1="427.00" y1="492.10" x2="433.00" y2="492.10" stroke="#3db54a" stroke-width="1.2" />
<line x1="427.00" y1="530.30" x2="433.00" y2="530.30" stroke="#3db54a" stroke-width="1.2" />
<circle cx="430.00" cy="490.00" r="1.4" fill="#3db54a"/>
<rect x="428.60" y="517.10" width="2.80" height="2.80" fill="#3db54a" stroke="none" stroke-width="1" />
<circle cx="430.00" cy="524.00" r="1.4" fill="#3db54a"/>
<rect x="446.25" y="512.30" width="14.90" height="20.50" fill="#fff" stroke="#17528f" stroke-width="1.3" />
<line x1="453.70" y1="532.80" x2="453.70" y2="535.20" stroke="#2a2a2a" stroke-width="1.0" />
<line x1="453.70" y1="496.70" x2="453.70" y2="526.60" stroke="#17528f" stroke-width="1.2" />
<line x1="450.70" y1="496.70" x2="456.70" y2="496.70" stroke="#17528f" stroke-width="1.2" />
<line x1="450.70" y1="526.60" x2="456.70" y2="526.60" stroke="#17528f" stroke-width="1.2" />
<polygon points="452.02,489.40 455.38,489.40 453.70,486.32" fill="#17528f" />
<circle cx="453.70" cy="516.00" r="1.4" fill="#17528f"/>
<rect x="452.30" y="518.10" width="2.80" height="2.80" fill="#17528f" stroke="none" stroke-width="1" />
<polygon points="451.88,522.00 453.70,520.18 455.52,522.00 453.70,523.82" fill="#17528f" />
<rect x="470.65" y="496.70" width="14.70" height="36.10" fill="#fff" stroke="#cc1236" stroke-width="1.3" />
<line x1="478.00" y1="532.80" x2="478.00" y2="535.20" stroke="#2a2a2a" stroke-width="1.0" />
<line x1="478.00" y1="482.20" x2="478.00" y2="511.00" stroke="#cc1236" stroke-width="1.2" />
<line x1="475.00" y1="482.20" x2="481.00" y2="482.20" stroke="#cc1236" stroke-width="1.2" />
<line x1="475.00" y1="511.00" x2="481.00" y2="511.00" stroke="#cc1236" stroke-width="1.2" />
<polygon points="473.32,481.10 476.68,481.10 475.00,484.18" fill="#cc1236" />
<polygon points="479.32,481.60 482.68,481.60 481.00,484.68" fill="#cc1236" />
<circle cx="478.00" cy="500.00" r="1.4" fill="#cc1236"/>
<rect x="476.60" y="503.60" width="2.80" height="2.80" fill="#cc1236" stroke="none" stroke-width="1" />
<polygon points="476.32,508.60 479.68,508.60 478.00,511.68" fill="#cc1236" />
<line x1="454.20" y1="474.60" x2="454.20" y2="471.20" stroke="#2a2a2a" stroke-width="1.1" />
<line x1="454.20" y1="471.20" x2="478.50" y2="471.20" stroke="#2a2a2a" stroke-width="1.1" />
<line x1="478.50" y1="471.20" x2="478.50" y2="474.60" stroke="#2a2a2a" stroke-width="1.1" />
<text x="466.30" y="468.30" font-size="5.8" fill="#222" text-anchor="middle" font-weight="normal" stroke="#222" stroke-width="0.1" >ns</text>
<text x="406.05" y="542.50" font-size="6.6" fill="#333" text-anchor="middle" font-weight="normal" textLength="27.50" lengthAdjust="spacingAndGlyphs" stroke="#333" stroke-width="0.1" >Untreated</text>
<text x="429.70" y="542.50" font-size="6.6" fill="#333" text-anchor="middle" font-weight="normal" textLength="16.60" lengthAdjust="spacingAndGlyphs" stroke="#333" stroke-width="0.1" >ACK2</text>
<text x="453.85" y="542.50" font-size="6.6" fill="#333" text-anchor="middle" font-weight="normal" textLength="12.70" lengthAdjust="spacingAndGlyphs" stroke="#333" stroke-width="0.1" >AZA</text>
<text x="482.10" y="542.50" font-size="6.6" fill="#333" text-anchor="middle" font-weight="normal" textLength="33.20" lengthAdjust="spacingAndGlyphs" stroke="#333" stroke-width="0.1" >ACK2+AZA</text>
<text x="442.00" y="577.10" font-size="9.3" fill="#17528f" text-anchor="middle" font-weight="normal" textLength="66.20" lengthAdjust="spacingAndGlyphs" stroke="#17528f" stroke-width="0.14" >Apoptotic death</text>
<line x1="389.50" y1="580.10" x2="389.50" y2="650.40" stroke="#2a2a2a" stroke-width="1.5" />
<line x1="388.80" y1="649.70" x2="493.80" y2="649.70" stroke="#2a2a2a" stroke-width="1.5" />
<line x1="386.90" y1="580.70" x2="389.50" y2="580.70" stroke="#2a2a2a" stroke-width="1.0" />
<text x="385.30" y="583.00" font-size="6.6" fill="#333" text-anchor="end" font-weight="normal" stroke="#333" stroke-width="0.1" >40</text>
<line x1="386.90" y1="597.95" x2="389.50" y2="597.95" stroke="#2a2a2a" stroke-width="1.0" />
<text x="385.30" y="600.25" font-size="6.6" fill="#333" text-anchor="end" font-weight="normal" stroke="#333" stroke-width="0.1" >30</text>
<line x1="386.90" y1="615.20" x2="389.50" y2="615.20" stroke="#2a2a2a" stroke-width="1.0" />
<text x="385.30" y="617.50" font-size="6.6" fill="#333" text-anchor="end" font-weight="normal" stroke="#333" stroke-width="0.1" >20</text>
<line x1="386.90" y1="632.45" x2="389.50" y2="632.45" stroke="#2a2a2a" stroke-width="1.0" />
<text x="385.30" y="634.75" font-size="6.6" fill="#333" text-anchor="end" font-weight="normal" stroke="#333" stroke-width="0.1" >10</text>
<line x1="386.90" y1="649.70" x2="389.50" y2="649.70" stroke="#2a2a2a" stroke-width="1.0" />
<text x="385.30" y="652.00" font-size="6.6" fill="#333" text-anchor="end" font-weight="normal" stroke="#333" stroke-width="0.1" >0</text>
<text x="0" y="0" font-size="8.4" fill="#111" stroke="#111" stroke-width="0.08" font-weight="bold" text-anchor="middle" transform="translate(374.20,615.90) rotate(-90)" textLength="74.40" lengthAdjust="spacingAndGlyphs">Annexin V/PI + LSK (%)</text>
<circle cx="400.80" cy="648.60" r="1.3" fill="#1a1a1a"/>
<circle cx="404.30" cy="648.60" r="1.3" fill="#1a1a1a"/>
<circle cx="407.80" cy="648.60" r="1.3" fill="#1a1a1a"/>
<circle cx="410.80" cy="648.60" r="1.3" fill="#1a1a1a"/>
<line x1="405.80" y1="649.70" x2="405.80" y2="652.10" stroke="#2a2a2a" stroke-width="1.0" />
<rect x="423.15" y="646.30" width="14.20" height="3.40" fill="#fff" stroke="#3db54a" stroke-width="1.3" />
<line x1="430.25" y1="649.70" x2="430.25" y2="652.10" stroke="#2a2a2a" stroke-width="1.0" />
<line x1="430.25" y1="641.50" x2="430.25" y2="649.00" stroke="#3db54a" stroke-width="1.2" />
<line x1="427.25" y1="641.50" x2="433.25" y2="641.50" stroke="#3db54a" stroke-width="1.2" />
<line x1="427.25" y1="649.00" x2="433.25" y2="649.00" stroke="#3db54a" stroke-width="1.2" />
<polygon points="428.57,642.90 431.93,642.90 430.25,639.82" fill="#3db54a" />
<circle cx="430.25" cy="646.50" r="1.4" fill="#3db54a"/>
<rect x="425.85" y="646.60" width="2.80" height="2.80" fill="#3db54a" stroke="none" stroke-width="1" />
<circle cx="433.25" cy="648.00" r="1.4" fill="#3db54a"/>
<rect x="446.65" y="643.60" width="14.20" height="6.10" fill="#fff" stroke="#17528f" stroke-width="1.3" />
<line x1="453.75" y1="649.70" x2="453.75" y2="652.10" stroke="#2a2a2a" stroke-width="1.0" />
<line x1="453.75" y1="637.50" x2="453.75" y2="648.00" stroke="#17528f" stroke-width="1.2" />
<line x1="450.75" y1="637.50" x2="456.75" y2="637.50" stroke="#17528f" stroke-width="1.2" />
<line x1="450.75" y1="648.00" x2="456.75" y2="648.00" stroke="#17528f" stroke-width="1.2" />
<circle cx="453.75" cy="637.00" r="1.4" fill="#17528f"/>
<rect x="449.35" y="640.60" width="2.80" height="2.80" fill="#17528f" stroke="none" stroke-width="1" />
<polygon points="454.93,643.00 456.75,641.18 458.57,643.00 456.75,644.82" fill="#17528f" />
<circle cx="453.75" cy="646.00" r="1.4" fill="#17528f"/>
<rect x="471.05" y="608.90" width="14.00" height="40.80" fill="#fff" stroke="#cc1236" stroke-width="1.3" />
<line x1="478.05" y1="649.70" x2="478.05" y2="652.10" stroke="#2a2a2a" stroke-width="1.0" />
<line x1="478.05" y1="600.20" x2="478.05" y2="618.00" stroke="#cc1236" stroke-width="1.2" />
<line x1="475.05" y1="600.20" x2="481.05" y2="600.20" stroke="#cc1236" stroke-width="1.2" />
<line x1="475.05" y1="618.00" x2="481.05" y2="618.00" stroke="#cc1236" stroke-width="1.2" />
<polygon points="476.37,599.60 479.73,599.60 478.05,602.68" fill="#cc1236" />
<circle cx="475.55" cy="617.50" r="1.4" fill="#cc1236"/>
<rect x="479.15" y="615.60" width="2.80" height="2.80" fill="#cc1236" stroke="none" stroke-width="1" />
<circle cx="478.05" cy="607.00" r="1.4" fill="#cc1236"/>
<line x1="452.90" y1="592.20" x2="452.90" y2="588.70" stroke="#2a2a2a" stroke-width="1.1" />
<line x1="452.90" y1="588.70" x2="478.50" y2="588.70" stroke="#2a2a2a" stroke-width="1.1" />
<line x1="478.50" y1="588.70" x2="478.50" y2="592.20" stroke="#2a2a2a" stroke-width="1.1" />
<circle cx="464.55" cy="584.60" r="0.72" fill="#222"/>
<circle cx="466.85" cy="584.60" r="0.72" fill="#222"/>
<line x1="405.80" y1="630.20" x2="405.80" y2="626.40" stroke="#2a2a2a" stroke-width="1.1" />
<line x1="405.80" y1="626.40" x2="453.40" y2="626.40" stroke="#2a2a2a" stroke-width="1.1" />
<line x1="453.40" y1="626.40" x2="453.40" y2="630.20" stroke="#2a2a2a" stroke-width="1.1" />
<circle cx="429.50" cy="621.50" r="0.72" fill="#222"/>
<text x="406.05" y="659.60" font-size="6.6" fill="#333" text-anchor="middle" font-weight="normal" textLength="27.50" lengthAdjust="spacingAndGlyphs" stroke="#333" stroke-width="0.1" >Untreated</text>
<text x="429.70" y="659.60" font-size="6.6" fill="#333" text-anchor="middle" font-weight="normal" textLength="16.60" lengthAdjust="spacingAndGlyphs" stroke="#333" stroke-width="0.1" >ACK2</text>
<text x="453.85" y="659.60" font-size="6.6" fill="#333" text-anchor="middle" font-weight="normal" textLength="12.70" lengthAdjust="spacingAndGlyphs" stroke="#333" stroke-width="0.1" >AZA</text>
<text x="482.10" y="659.60" font-size="6.6" fill="#333" text-anchor="middle" font-weight="normal" textLength="33.20" lengthAdjust="spacingAndGlyphs" stroke="#333" stroke-width="0.1" >ACK2+AZA</text>
<rect x="0.00" y="0.00" width="520.00" height="1.20" fill="#000" stroke="none" stroke-width="1" />
<rect x="0.00" y="0.00" width="1.20" height="672.00" fill="#000" stroke="none" stroke-width="1" />
<rect x="518.70" y="0.00" width="1.30" height="672.00" fill="#000" stroke="none" stroke-width="1" />
<rect x="0.00" y="670.70" width="520.00" height="1.30" fill="#000" stroke="none" stroke-width="1" />
</svg>
</body></html>
